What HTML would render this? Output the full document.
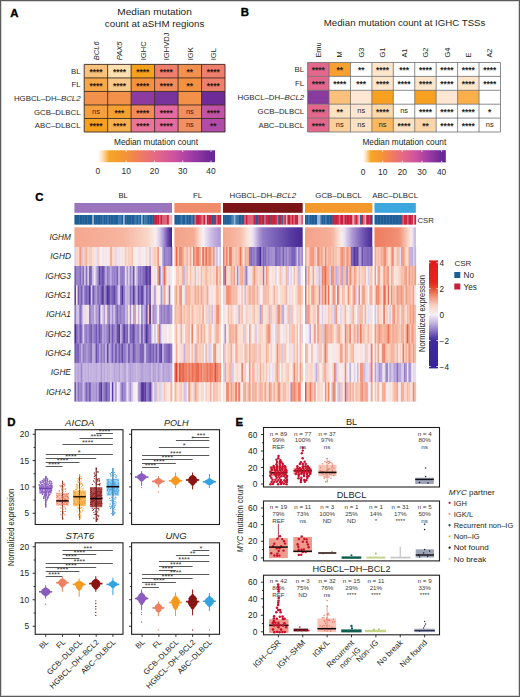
<!DOCTYPE html>
<html><head><meta charset="utf-8"><style>
html,body{margin:0;padding:0;background:#fff;}
body{width:520px;height:697px;overflow:hidden;}
svg{display:block;font-family:"Liberation Sans", sans-serif;}
</style></head><body>
<svg width="520" height="697" viewBox="0 0 520 697">
<rect x="0" y="0" width="520" height="697" fill="#ffffff"/>
<text x="10.30" y="16.50" font-size="11.4" font-weight="bold" fill="#000" stroke="#000" stroke-width="0.35">A</text>
<text x="154.60" y="15.20" font-size="9.2" text-anchor="middle" textLength="74.5" lengthAdjust="spacingAndGlyphs" fill="#231f20">Median mutation</text>
<text x="154.60" y="27.00" font-size="9.2" text-anchor="middle" textLength="99.5" lengthAdjust="spacingAndGlyphs" fill="#231f20">count at aSHM regions</text>
<text transform="translate(98.64,60.3) rotate(-90)" font-size="7.6" font-style="italic" fill="#231f20">BCL6</text>
<text transform="translate(122.11,60.3) rotate(-90)" font-size="7.6" font-style="italic" fill="#231f20">PAX5</text>
<text transform="translate(145.57,60.3) rotate(-90)" font-size="7.6" font-style="normal" fill="#231f20">IGHC</text>
<text transform="translate(169.04,60.3) rotate(-90)" font-size="7.6" font-style="normal" fill="#231f20">IGHVDJ</text>
<text transform="translate(192.51,60.3) rotate(-90)" font-size="7.6" font-style="normal" fill="#231f20">IGK</text>
<text transform="translate(215.98,60.3) rotate(-90)" font-size="7.6" font-style="normal" fill="#231f20">IGL</text>
<rect x="84.20" y="64.40" width="23.47" height="13.52" fill="#f8c27c"/>
<rect x="107.67" y="64.40" width="23.47" height="13.52" fill="#fde0b2"/>
<rect x="131.14" y="64.40" width="23.47" height="13.52" fill="#f6a21c"/>
<rect x="154.61" y="64.40" width="23.47" height="13.52" fill="#ef7e6c"/>
<rect x="178.08" y="64.40" width="23.47" height="13.52" fill="#f3904e"/>
<rect x="201.55" y="64.40" width="23.47" height="13.52" fill="#ef7f6c"/>
<rect x="84.20" y="77.92" width="23.47" height="13.52" fill="#f7a94a"/>
<rect x="107.67" y="77.92" width="23.47" height="13.52" fill="#f8c98a"/>
<rect x="131.14" y="77.92" width="23.47" height="13.52" fill="#f4913c"/>
<rect x="154.61" y="77.92" width="23.47" height="13.52" fill="#f28a5c"/>
<rect x="178.08" y="77.92" width="23.47" height="13.52" fill="#f3913e"/>
<rect x="201.55" y="77.92" width="23.47" height="13.52" fill="#ef806e"/>
<rect x="84.20" y="91.44" width="23.47" height="13.52" fill="#f3904a"/>
<rect x="107.67" y="91.44" width="23.47" height="13.52" fill="#f3904a"/>
<rect x="131.14" y="91.44" width="23.47" height="13.52" fill="#8c3ca0"/>
<rect x="154.61" y="91.44" width="23.47" height="13.52" fill="#79339c"/>
<rect x="178.08" y="91.44" width="23.47" height="13.52" fill="#f3904a"/>
<rect x="201.55" y="91.44" width="23.47" height="13.52" fill="#6c2b97"/>
<rect x="84.20" y="104.96" width="23.47" height="13.52" fill="#f5a03c"/>
<rect x="107.67" y="104.96" width="23.47" height="13.52" fill="#f6a030"/>
<rect x="131.14" y="104.96" width="23.47" height="13.52" fill="#f28a5c"/>
<rect x="154.61" y="104.96" width="23.47" height="13.52" fill="#e46aa0"/>
<rect x="178.08" y="104.96" width="23.47" height="13.52" fill="#f28f5e"/>
<rect x="201.55" y="104.96" width="23.47" height="13.52" fill="#c254a8"/>
<rect x="84.20" y="118.48" width="23.47" height="13.52" fill="#f6a020"/>
<rect x="107.67" y="118.48" width="23.47" height="13.52" fill="#f7b050"/>
<rect x="131.14" y="118.48" width="23.47" height="13.52" fill="#e9769a"/>
<rect x="154.61" y="118.48" width="23.47" height="13.52" fill="#e46aa0"/>
<rect x="178.08" y="118.48" width="23.47" height="13.52" fill="#f19062"/>
<rect x="201.55" y="118.48" width="23.47" height="13.52" fill="#b04ba8"/>
<text x="80.6" y="73.96" font-size="7.85" text-anchor="end" fill="#2b2b2b">BL</text>
<text x="95.94" y="75.16" font-size="8.4" text-anchor="middle" font-weight="bold" fill="#2a1810">****</text>
<text x="119.41" y="75.16" font-size="8.4" text-anchor="middle" font-weight="bold" fill="#2a1810">****</text>
<text x="142.88" y="75.16" font-size="8.4" text-anchor="middle" font-weight="bold" fill="#2a1810">****</text>
<text x="166.34" y="75.16" font-size="8.4" text-anchor="middle" font-weight="bold" fill="#2a1810">****</text>
<text x="189.81" y="75.16" font-size="8.4" text-anchor="middle" font-weight="bold" fill="#2a1810">**</text>
<text x="213.28" y="75.16" font-size="8.4" text-anchor="middle" font-weight="bold" fill="#2a1810">****</text>
<text x="80.6" y="87.48" font-size="7.85" text-anchor="end" fill="#2b2b2b">FL</text>
<text x="95.94" y="88.68" font-size="8.4" text-anchor="middle" font-weight="bold" fill="#2a1810">****</text>
<text x="119.41" y="88.68" font-size="8.4" text-anchor="middle" font-weight="bold" fill="#2a1810">****</text>
<text x="142.88" y="88.68" font-size="8.4" text-anchor="middle" font-weight="bold" fill="#2a1810">****</text>
<text x="166.34" y="88.68" font-size="8.4" text-anchor="middle" font-weight="bold" fill="#2a1810">****</text>
<text x="189.81" y="88.68" font-size="8.4" text-anchor="middle" font-weight="bold" fill="#2a1810">**</text>
<text x="213.28" y="88.68" font-size="8.4" text-anchor="middle" font-weight="bold" fill="#2a1810">****</text>
<text x="80.6" y="101.00" font-size="7.85" text-anchor="end" fill="#2b2b2b">HGBCL–DH–<tspan font-style="italic">BCL2</tspan></text>
<text x="80.6" y="114.52" font-size="7.85" text-anchor="end" fill="#2b2b2b">GCB–DLBCL</text>
<text x="95.94" y="113.92" font-size="7.4" text-anchor="middle" fill="#3a2418">ns</text>
<text x="119.41" y="115.72" font-size="8.4" text-anchor="middle" font-weight="bold" fill="#2a1810">***</text>
<text x="142.88" y="115.72" font-size="8.4" text-anchor="middle" font-weight="bold" fill="#2a1810">****</text>
<text x="166.34" y="115.72" font-size="8.4" text-anchor="middle" font-weight="bold" fill="#2a1810">****</text>
<text x="189.81" y="113.92" font-size="7.4" text-anchor="middle" fill="#3a2418">ns</text>
<text x="213.28" y="115.72" font-size="8.4" text-anchor="middle" font-weight="bold" fill="#2a1810">****</text>
<text x="80.6" y="128.04" font-size="7.85" text-anchor="end" fill="#2b2b2b">ABC–DLBCL</text>
<text x="95.94" y="129.24" font-size="8.4" text-anchor="middle" font-weight="bold" fill="#2a1810">****</text>
<text x="119.41" y="129.24" font-size="8.4" text-anchor="middle" font-weight="bold" fill="#2a1810">****</text>
<text x="142.88" y="129.24" font-size="8.4" text-anchor="middle" font-weight="bold" fill="#2a1810">****</text>
<text x="166.34" y="129.24" font-size="8.4" text-anchor="middle" font-weight="bold" fill="#2a1810">****</text>
<text x="189.81" y="127.44" font-size="7.4" text-anchor="middle" fill="#3a2418">ns</text>
<text x="213.28" y="129.24" font-size="8.4" text-anchor="middle" font-weight="bold" fill="#2a1810">**</text>
<line x1="84.20" y1="64.40" x2="84.20" y2="132.00" stroke="#3b2a1e" stroke-width="0.9"/>
<line x1="107.67" y1="64.40" x2="107.67" y2="132.00" stroke="#3b2a1e" stroke-width="0.9"/>
<line x1="131.14" y1="64.40" x2="131.14" y2="132.00" stroke="#3b2a1e" stroke-width="0.9"/>
<line x1="154.61" y1="64.40" x2="154.61" y2="132.00" stroke="#3b2a1e" stroke-width="0.9"/>
<line x1="178.08" y1="64.40" x2="178.08" y2="132.00" stroke="#3b2a1e" stroke-width="0.9"/>
<line x1="201.55" y1="64.40" x2="201.55" y2="132.00" stroke="#3b2a1e" stroke-width="0.9"/>
<line x1="225.02" y1="64.40" x2="225.02" y2="132.00" stroke="#3b2a1e" stroke-width="0.9"/>
<line x1="84.20" y1="64.40" x2="225.02" y2="64.40" stroke="#3b2a1e" stroke-width="0.9"/>
<line x1="84.20" y1="77.92" x2="225.02" y2="77.92" stroke="#3b2a1e" stroke-width="0.9"/>
<line x1="84.20" y1="91.44" x2="225.02" y2="91.44" stroke="#3b2a1e" stroke-width="0.9"/>
<line x1="84.20" y1="104.96" x2="225.02" y2="104.96" stroke="#3b2a1e" stroke-width="0.9"/>
<line x1="84.20" y1="118.48" x2="225.02" y2="118.48" stroke="#3b2a1e" stroke-width="0.9"/>
<line x1="84.20" y1="132.00" x2="225.02" y2="132.00" stroke="#3b2a1e" stroke-width="0.9"/>
<text x="156.00" y="145.00" font-size="8.2" text-anchor="middle" textLength="84" lengthAdjust="spacingAndGlyphs" fill="#231f20">Median mutation count</text>
<defs><linearGradient id="gA" x1="0" x2="1" y1="0" y2="0"><stop offset="0.0000" stop-color="#ffffff"/><stop offset="0.0362" stop-color="#fde4be"/><stop offset="0.0966" stop-color="#f6a628"/><stop offset="0.2173" stop-color="#f59632"/><stop offset="0.3622" stop-color="#f07a60"/><stop offset="0.4829" stop-color="#e66a82"/><stop offset="0.6519" stop-color="#ce52a0"/><stop offset="0.7968" stop-color="#a03ca5"/><stop offset="0.9658" stop-color="#6c2896"/></linearGradient></defs>
<rect x="97.90" y="150.30" width="117.10" height="11.90" fill="url(#gA)"/>
<line x1="126.18" y1="150.30" x2="126.18" y2="151.90" stroke="#ffffff" stroke-width="0.8"/>
<line x1="126.18" y1="160.60" x2="126.18" y2="162.20" stroke="#ffffff" stroke-width="0.8"/>
<line x1="154.45" y1="150.30" x2="154.45" y2="151.90" stroke="#ffffff" stroke-width="0.8"/>
<line x1="154.45" y1="160.60" x2="154.45" y2="162.20" stroke="#ffffff" stroke-width="0.8"/>
<line x1="182.73" y1="150.30" x2="182.73" y2="151.90" stroke="#ffffff" stroke-width="0.8"/>
<line x1="182.73" y1="160.60" x2="182.73" y2="162.20" stroke="#ffffff" stroke-width="0.8"/>
<line x1="211.00" y1="150.30" x2="211.00" y2="151.90" stroke="#ffffff" stroke-width="0.8"/>
<line x1="211.00" y1="160.60" x2="211.00" y2="162.20" stroke="#ffffff" stroke-width="0.8"/>
<text x="97.90" y="174.30" font-size="8.4" text-anchor="middle" fill="#2b2b2b">0</text>
<text x="126.18" y="174.30" font-size="8.4" text-anchor="middle" fill="#2b2b2b">10</text>
<text x="154.45" y="174.30" font-size="8.4" text-anchor="middle" fill="#2b2b2b">20</text>
<text x="182.73" y="174.30" font-size="8.4" text-anchor="middle" fill="#2b2b2b">30</text>
<text x="211.00" y="174.30" font-size="8.4" text-anchor="middle" fill="#2b2b2b">40</text>
<text x="240.70" y="16.20" font-size="11.4" font-weight="bold" fill="#000" stroke="#000" stroke-width="0.35">B</text>
<text x="404.60" y="26.20" font-size="9.2" text-anchor="middle" textLength="161.6" lengthAdjust="spacingAndGlyphs" fill="#231f20">Median mutation count at IGHC TSSs</text>
<text transform="translate(320.92,57.6) rotate(-90)" font-size="7.4" fill="#231f20">Emu</text>
<text transform="translate(342.35,57.6) rotate(-90)" font-size="7.4" fill="#231f20">M</text>
<text transform="translate(363.78,57.6) rotate(-90)" font-size="7.4" fill="#231f20">G3</text>
<text transform="translate(385.21,57.6) rotate(-90)" font-size="7.4" fill="#231f20">G1</text>
<text transform="translate(406.64,57.6) rotate(-90)" font-size="7.4" fill="#231f20">A1</text>
<text transform="translate(428.07,57.6) rotate(-90)" font-size="7.4" fill="#231f20">G2</text>
<text transform="translate(449.50,57.6) rotate(-90)" font-size="7.4" fill="#231f20">G4</text>
<text transform="translate(470.93,57.6) rotate(-90)" font-size="7.4" fill="#231f20">E</text>
<text transform="translate(492.36,57.6) rotate(-90)" font-size="7.4" fill="#231f20">A2</text>
<rect x="307.60" y="62.50" width="21.43" height="13.90" fill="#e2678a"/>
<rect x="329.03" y="62.50" width="21.43" height="13.90" fill="#f7a030"/>
<rect x="350.46" y="62.50" width="21.43" height="13.90" fill="#ffffff"/>
<rect x="371.89" y="62.50" width="21.43" height="13.90" fill="#fde6cc"/>
<rect x="393.32" y="62.50" width="21.43" height="13.90" fill="#ffffff"/>
<rect x="414.75" y="62.50" width="21.43" height="13.90" fill="#ffffff"/>
<rect x="436.18" y="62.50" width="21.43" height="13.90" fill="#ffffff"/>
<rect x="457.61" y="62.50" width="21.43" height="13.90" fill="#ffffff"/>
<rect x="479.04" y="62.50" width="21.43" height="13.90" fill="#ffffff"/>
<rect x="307.60" y="76.40" width="21.43" height="13.90" fill="#e2678a"/>
<rect x="329.03" y="76.40" width="21.43" height="13.90" fill="#ffffff"/>
<rect x="350.46" y="76.40" width="21.43" height="13.90" fill="#ffffff"/>
<rect x="371.89" y="76.40" width="21.43" height="13.90" fill="#fde6cc"/>
<rect x="393.32" y="76.40" width="21.43" height="13.90" fill="#ffffff"/>
<rect x="414.75" y="76.40" width="21.43" height="13.90" fill="#fde6cc"/>
<rect x="436.18" y="76.40" width="21.43" height="13.90" fill="#ffffff"/>
<rect x="457.61" y="76.40" width="21.43" height="13.90" fill="#fde6cc"/>
<rect x="479.04" y="76.40" width="21.43" height="13.90" fill="#ffffff"/>
<rect x="307.60" y="90.30" width="21.43" height="13.90" fill="#8a3b9e"/>
<rect x="329.03" y="90.30" width="21.43" height="13.90" fill="#fbc07a"/>
<rect x="350.46" y="90.30" width="21.43" height="13.90" fill="#fde7d2"/>
<rect x="371.89" y="90.30" width="21.43" height="13.90" fill="#f8a020"/>
<rect x="393.32" y="90.30" width="21.43" height="13.90" fill="#ffffff"/>
<rect x="414.75" y="90.30" width="21.43" height="13.90" fill="#f8a020"/>
<rect x="436.18" y="90.30" width="21.43" height="13.90" fill="#fde7d2"/>
<rect x="457.61" y="90.30" width="21.43" height="13.90" fill="#f9b04a"/>
<rect x="479.04" y="90.30" width="21.43" height="13.90" fill="#ffffff"/>
<rect x="307.60" y="104.20" width="21.43" height="13.90" fill="#e2678a"/>
<rect x="329.03" y="104.20" width="21.43" height="13.90" fill="#fde2c2"/>
<rect x="350.46" y="104.20" width="21.43" height="13.90" fill="#fde7d2"/>
<rect x="371.89" y="104.20" width="21.43" height="13.90" fill="#fdd8a8"/>
<rect x="393.32" y="104.20" width="21.43" height="13.90" fill="#ffffff"/>
<rect x="414.75" y="104.20" width="21.43" height="13.90" fill="#ffffff"/>
<rect x="436.18" y="104.20" width="21.43" height="13.90" fill="#ffffff"/>
<rect x="457.61" y="104.20" width="21.43" height="13.90" fill="#ffffff"/>
<rect x="479.04" y="104.20" width="21.43" height="13.90" fill="#ffffff"/>
<rect x="307.60" y="118.10" width="21.43" height="13.90" fill="#e2678a"/>
<rect x="329.03" y="118.10" width="21.43" height="13.90" fill="#fcd09a"/>
<rect x="350.46" y="118.10" width="21.43" height="13.90" fill="#fde2c2"/>
<rect x="371.89" y="118.10" width="21.43" height="13.90" fill="#fbb860"/>
<rect x="393.32" y="118.10" width="21.43" height="13.90" fill="#fde2c2"/>
<rect x="414.75" y="118.10" width="21.43" height="13.90" fill="#fcd6a8"/>
<rect x="436.18" y="118.10" width="21.43" height="13.90" fill="#ffffff"/>
<rect x="457.61" y="118.10" width="21.43" height="13.90" fill="#ffffff"/>
<rect x="479.04" y="118.10" width="21.43" height="13.90" fill="#ffffff"/>
<text x="304.2" y="72.25" font-size="7.85" text-anchor="end" fill="#2b2b2b">BL</text>
<text x="318.31" y="73.45" font-size="8.4" text-anchor="middle" font-weight="bold" fill="#231f20">****</text>
<text x="339.75" y="73.45" font-size="8.4" text-anchor="middle" font-weight="bold" fill="#231f20">**</text>
<text x="361.18" y="73.45" font-size="8.4" text-anchor="middle" font-weight="bold" fill="#231f20">**</text>
<text x="382.61" y="73.45" font-size="8.4" text-anchor="middle" font-weight="bold" fill="#231f20">****</text>
<text x="404.04" y="73.45" font-size="8.4" text-anchor="middle" font-weight="bold" fill="#231f20">***</text>
<text x="425.47" y="73.45" font-size="8.4" text-anchor="middle" font-weight="bold" fill="#231f20">****</text>
<text x="446.89" y="73.45" font-size="8.4" text-anchor="middle" font-weight="bold" fill="#231f20">****</text>
<text x="468.33" y="73.45" font-size="8.4" text-anchor="middle" font-weight="bold" fill="#231f20">****</text>
<text x="489.75" y="73.45" font-size="8.4" text-anchor="middle" font-weight="bold" fill="#231f20">****</text>
<text x="304.2" y="86.15" font-size="7.85" text-anchor="end" fill="#2b2b2b">FL</text>
<text x="318.31" y="87.35" font-size="8.4" text-anchor="middle" font-weight="bold" fill="#231f20">****</text>
<text x="339.75" y="87.35" font-size="8.4" text-anchor="middle" font-weight="bold" fill="#231f20">****</text>
<text x="361.18" y="87.35" font-size="8.4" text-anchor="middle" font-weight="bold" fill="#231f20">***</text>
<text x="382.61" y="87.35" font-size="8.4" text-anchor="middle" font-weight="bold" fill="#231f20">****</text>
<text x="404.04" y="87.35" font-size="8.4" text-anchor="middle" font-weight="bold" fill="#231f20">****</text>
<text x="425.47" y="87.35" font-size="8.4" text-anchor="middle" font-weight="bold" fill="#231f20">****</text>
<text x="446.89" y="87.35" font-size="8.4" text-anchor="middle" font-weight="bold" fill="#231f20">****</text>
<text x="468.33" y="87.35" font-size="8.4" text-anchor="middle" font-weight="bold" fill="#231f20">****</text>
<text x="489.75" y="87.35" font-size="8.4" text-anchor="middle" font-weight="bold" fill="#231f20">****</text>
<text x="304.2" y="100.05" font-size="7.85" text-anchor="end" fill="#2b2b2b">HGBCL–DH–<tspan font-style="italic">BCL2</tspan></text>
<text x="304.2" y="113.95" font-size="7.85" text-anchor="end" fill="#2b2b2b">GCB–DLBCL</text>
<text x="318.31" y="115.15" font-size="8.4" text-anchor="middle" font-weight="bold" fill="#231f20">****</text>
<text x="339.75" y="115.15" font-size="8.4" text-anchor="middle" font-weight="bold" fill="#231f20">**</text>
<text x="361.18" y="113.35" font-size="7.4" text-anchor="middle" fill="#231f20">ns</text>
<text x="382.61" y="115.15" font-size="8.4" text-anchor="middle" font-weight="bold" fill="#231f20">****</text>
<text x="404.04" y="113.35" font-size="7.4" text-anchor="middle" fill="#231f20">ns</text>
<text x="425.47" y="115.15" font-size="8.4" text-anchor="middle" font-weight="bold" fill="#231f20">****</text>
<text x="446.89" y="115.15" font-size="8.4" text-anchor="middle" font-weight="bold" fill="#231f20">****</text>
<text x="468.33" y="115.15" font-size="8.4" text-anchor="middle" font-weight="bold" fill="#231f20">****</text>
<text x="489.75" y="115.15" font-size="8.4" text-anchor="middle" font-weight="bold" fill="#231f20">*</text>
<text x="304.2" y="127.85" font-size="7.85" text-anchor="end" fill="#2b2b2b">ABC–DLBCL</text>
<text x="318.31" y="129.05" font-size="8.4" text-anchor="middle" font-weight="bold" fill="#231f20">****</text>
<text x="339.75" y="127.25" font-size="7.4" text-anchor="middle" fill="#231f20">ns</text>
<text x="361.18" y="127.25" font-size="7.4" text-anchor="middle" fill="#231f20">ns</text>
<text x="382.61" y="127.25" font-size="7.4" text-anchor="middle" fill="#231f20">ns</text>
<text x="404.04" y="129.05" font-size="8.4" text-anchor="middle" font-weight="bold" fill="#231f20">****</text>
<text x="425.47" y="129.05" font-size="8.4" text-anchor="middle" font-weight="bold" fill="#231f20">**</text>
<text x="446.89" y="129.05" font-size="8.4" text-anchor="middle" font-weight="bold" fill="#231f20">****</text>
<text x="468.33" y="129.05" font-size="8.4" text-anchor="middle" font-weight="bold" fill="#231f20">****</text>
<text x="489.75" y="127.25" font-size="7.4" text-anchor="middle" fill="#231f20">ns</text>
<line x1="307.60" y1="62.50" x2="307.60" y2="132.00" stroke="#6d6e70" stroke-width="0.8"/>
<line x1="329.03" y1="62.50" x2="329.03" y2="132.00" stroke="#6d6e70" stroke-width="0.8"/>
<line x1="350.46" y1="62.50" x2="350.46" y2="132.00" stroke="#6d6e70" stroke-width="0.8"/>
<line x1="371.89" y1="62.50" x2="371.89" y2="132.00" stroke="#6d6e70" stroke-width="0.8"/>
<line x1="393.32" y1="62.50" x2="393.32" y2="132.00" stroke="#6d6e70" stroke-width="0.8"/>
<line x1="414.75" y1="62.50" x2="414.75" y2="132.00" stroke="#6d6e70" stroke-width="0.8"/>
<line x1="436.18" y1="62.50" x2="436.18" y2="132.00" stroke="#6d6e70" stroke-width="0.8"/>
<line x1="457.61" y1="62.50" x2="457.61" y2="132.00" stroke="#6d6e70" stroke-width="0.8"/>
<line x1="479.04" y1="62.50" x2="479.04" y2="132.00" stroke="#6d6e70" stroke-width="0.8"/>
<line x1="500.47" y1="62.50" x2="500.47" y2="132.00" stroke="#6d6e70" stroke-width="0.8"/>
<line x1="307.60" y1="62.50" x2="500.47" y2="62.50" stroke="#6d6e70" stroke-width="0.8"/>
<line x1="307.60" y1="76.40" x2="500.47" y2="76.40" stroke="#6d6e70" stroke-width="0.8"/>
<line x1="307.60" y1="90.30" x2="500.47" y2="90.30" stroke="#6d6e70" stroke-width="0.8"/>
<line x1="307.60" y1="104.20" x2="500.47" y2="104.20" stroke="#6d6e70" stroke-width="0.8"/>
<line x1="307.60" y1="118.10" x2="500.47" y2="118.10" stroke="#6d6e70" stroke-width="0.8"/>
<line x1="307.60" y1="132.00" x2="500.47" y2="132.00" stroke="#6d6e70" stroke-width="0.8"/>
<text x="404.30" y="145.00" font-size="8.2" text-anchor="middle" textLength="83.8" lengthAdjust="spacingAndGlyphs" fill="#231f20">Median mutation count</text>
<defs><linearGradient id="gB" x1="0" x2="1" y1="0" y2="0"><stop offset="0.0000" stop-color="#ffffff"/><stop offset="0.0356" stop-color="#fde4be"/><stop offset="0.0949" stop-color="#f6a628"/><stop offset="0.2136" stop-color="#f59632"/><stop offset="0.3560" stop-color="#f07a60"/><stop offset="0.4746" stop-color="#e66a82"/><stop offset="0.6408" stop-color="#ce52a0"/><stop offset="0.7832" stop-color="#a03ca5"/><stop offset="0.9493" stop-color="#6c2896"/><stop offset="0.9967" stop-color="#642494"/></linearGradient></defs>
<rect x="363.00" y="150.20" width="82.80" height="12.20" fill="url(#gB)"/>
<line x1="382.65" y1="150.20" x2="382.65" y2="151.80" stroke="#ffffff" stroke-width="0.8"/>
<line x1="382.65" y1="160.80" x2="382.65" y2="162.40" stroke="#ffffff" stroke-width="0.8"/>
<line x1="402.30" y1="150.20" x2="402.30" y2="151.80" stroke="#ffffff" stroke-width="0.8"/>
<line x1="402.30" y1="160.80" x2="402.30" y2="162.40" stroke="#ffffff" stroke-width="0.8"/>
<line x1="421.95" y1="150.20" x2="421.95" y2="151.80" stroke="#ffffff" stroke-width="0.8"/>
<line x1="421.95" y1="160.80" x2="421.95" y2="162.40" stroke="#ffffff" stroke-width="0.8"/>
<line x1="441.60" y1="150.20" x2="441.60" y2="151.80" stroke="#ffffff" stroke-width="0.8"/>
<line x1="441.60" y1="160.80" x2="441.60" y2="162.40" stroke="#ffffff" stroke-width="0.8"/>
<text x="363.00" y="174.50" font-size="8.4" text-anchor="middle" fill="#2b2b2b">0</text>
<text x="382.65" y="174.50" font-size="8.4" text-anchor="middle" fill="#2b2b2b">10</text>
<text x="402.30" y="174.50" font-size="8.4" text-anchor="middle" fill="#2b2b2b">20</text>
<text x="421.95" y="174.50" font-size="8.4" text-anchor="middle" fill="#2b2b2b">30</text>
<text x="441.60" y="174.50" font-size="8.4" text-anchor="middle" fill="#2b2b2b">40</text>
<text x="35.20" y="200.80" font-size="11.4" font-weight="bold" fill="#000" stroke="#000" stroke-width="0.35">C</text>
<rect x="74.40" y="203.00" width="97.60" height="9.80" fill="#9b74be"/>
<text x="123.20" y="197.7" font-size="7.85" text-anchor="middle" fill="#2b2b2b">BL</text>
<rect x="74.40" y="215.00" width="1.98" height="9.60" fill="#1e5d96"/>
<rect x="74.40" y="246.67" width="1.98" height="19.67" fill="#dbceeb"/>
<rect x="74.40" y="266.03" width="1.98" height="19.67" fill="#765db6"/>
<rect x="74.40" y="285.40" width="1.98" height="19.67" fill="#5e41a4"/>
<rect x="74.40" y="304.77" width="1.98" height="19.67" fill="#8f78c4"/>
<rect x="74.40" y="324.13" width="1.98" height="19.67" fill="#4c2d97"/>
<rect x="74.40" y="343.50" width="1.98" height="19.67" fill="#7259b3"/>
<rect x="74.40" y="362.87" width="1.98" height="19.67" fill="#b5a2d8"/>
<rect x="74.40" y="382.23" width="1.98" height="19.37" fill="#7056b1"/>
<rect x="76.03" y="215.00" width="1.98" height="9.60" fill="#1e5d96"/>
<rect x="76.03" y="246.67" width="1.98" height="19.67" fill="#f9d2c4"/>
<rect x="76.03" y="266.03" width="1.98" height="19.67" fill="#9982c9"/>
<rect x="76.03" y="285.40" width="1.98" height="19.67" fill="#f9e7e3"/>
<rect x="76.03" y="304.77" width="1.98" height="19.67" fill="#ccbde4"/>
<rect x="76.03" y="324.13" width="1.98" height="19.67" fill="#846cbe"/>
<rect x="76.03" y="343.50" width="1.98" height="19.67" fill="#8169bd"/>
<rect x="76.03" y="362.87" width="1.98" height="19.67" fill="#c4b2df"/>
<rect x="76.03" y="382.23" width="1.98" height="19.37" fill="#c1afde"/>
<rect x="77.65" y="215.00" width="1.98" height="9.60" fill="#1e5d96"/>
<rect x="77.65" y="246.67" width="1.98" height="19.67" fill="#fadacd"/>
<rect x="77.65" y="266.03" width="1.98" height="19.67" fill="#9d86cb"/>
<rect x="77.65" y="285.40" width="1.98" height="19.67" fill="#7056b2"/>
<rect x="77.65" y="304.77" width="1.98" height="19.67" fill="#d1c3e7"/>
<rect x="77.65" y="324.13" width="1.98" height="19.67" fill="#a791d0"/>
<rect x="77.65" y="343.50" width="1.98" height="19.67" fill="#7961b8"/>
<rect x="77.65" y="362.87" width="1.98" height="19.67" fill="#b8a5da"/>
<rect x="77.65" y="382.23" width="1.98" height="19.37" fill="#876fc0"/>
<rect x="79.28" y="215.00" width="1.98" height="9.60" fill="#1e5d96"/>
<rect x="79.28" y="246.67" width="1.98" height="19.67" fill="#f2977d"/>
<rect x="79.28" y="266.03" width="1.98" height="19.67" fill="#7e66bb"/>
<rect x="79.28" y="285.40" width="1.98" height="19.67" fill="#9882c9"/>
<rect x="79.28" y="304.77" width="1.98" height="19.67" fill="#8169bd"/>
<rect x="79.28" y="324.13" width="1.98" height="19.67" fill="#745bb5"/>
<rect x="79.28" y="343.50" width="1.98" height="19.67" fill="#9982c9"/>
<rect x="79.28" y="362.87" width="1.98" height="19.67" fill="#b9a6da"/>
<rect x="79.28" y="382.23" width="1.98" height="19.37" fill="#a089cd"/>
<rect x="80.91" y="215.00" width="1.98" height="9.60" fill="#1e5d96"/>
<rect x="80.91" y="246.67" width="1.98" height="19.67" fill="#cdbee4"/>
<rect x="80.91" y="266.03" width="1.98" height="19.67" fill="#ac97d3"/>
<rect x="80.91" y="285.40" width="1.98" height="19.67" fill="#735ab4"/>
<rect x="80.91" y="304.77" width="1.98" height="19.67" fill="#a18bcd"/>
<rect x="80.91" y="324.13" width="1.98" height="19.67" fill="#836bbe"/>
<rect x="80.91" y="343.50" width="1.98" height="19.67" fill="#bfaddd"/>
<rect x="80.91" y="362.87" width="1.98" height="19.67" fill="#a08acd"/>
<rect x="80.91" y="382.23" width="1.98" height="19.37" fill="#9982c9"/>
<rect x="82.53" y="215.00" width="1.98" height="9.60" fill="#1e5d96"/>
<rect x="82.53" y="246.67" width="1.98" height="19.67" fill="#f9cfc0"/>
<rect x="82.53" y="266.03" width="1.98" height="19.67" fill="#846cbe"/>
<rect x="82.53" y="285.40" width="1.98" height="19.67" fill="#b6a3d8"/>
<rect x="82.53" y="304.77" width="1.98" height="19.67" fill="#e8dff0"/>
<rect x="82.53" y="324.13" width="1.98" height="19.67" fill="#dbceeb"/>
<rect x="82.53" y="343.50" width="1.98" height="19.67" fill="#957ec7"/>
<rect x="82.53" y="362.87" width="1.98" height="19.67" fill="#c7b6e1"/>
<rect x="82.53" y="382.23" width="1.98" height="19.37" fill="#ccbce4"/>
<rect x="84.16" y="215.00" width="1.98" height="9.60" fill="#1e5d96"/>
<rect x="84.16" y="246.67" width="1.98" height="19.67" fill="#f7c0ad"/>
<rect x="84.16" y="266.03" width="1.98" height="19.67" fill="#d2c3e7"/>
<rect x="84.16" y="285.40" width="1.98" height="19.67" fill="#8b74c2"/>
<rect x="84.16" y="304.77" width="1.98" height="19.67" fill="#e5daef"/>
<rect x="84.16" y="324.13" width="1.98" height="19.67" fill="#9e87cc"/>
<rect x="84.16" y="343.50" width="1.98" height="19.67" fill="#957ec7"/>
<rect x="84.16" y="362.87" width="1.98" height="19.67" fill="#c0afde"/>
<rect x="84.16" y="382.23" width="1.98" height="19.37" fill="#ab95d3"/>
<rect x="85.79" y="215.00" width="1.98" height="9.60" fill="#1e5d96"/>
<rect x="85.79" y="246.67" width="1.98" height="19.67" fill="#f6b29c"/>
<rect x="85.79" y="266.03" width="1.98" height="19.67" fill="#836bbe"/>
<rect x="85.79" y="285.40" width="1.98" height="19.67" fill="#755cb5"/>
<rect x="85.79" y="304.77" width="1.98" height="19.67" fill="#fadfd6"/>
<rect x="85.79" y="324.13" width="1.98" height="19.67" fill="#927bc6"/>
<rect x="85.79" y="343.50" width="1.98" height="19.67" fill="#b19cd5"/>
<rect x="85.79" y="362.87" width="1.98" height="19.67" fill="#c5b4e0"/>
<rect x="85.79" y="382.23" width="1.98" height="19.37" fill="#7960b8"/>
<rect x="87.41" y="215.00" width="1.98" height="9.60" fill="#1e5d96"/>
<rect x="87.41" y="246.67" width="1.98" height="19.67" fill="#fadbcf"/>
<rect x="87.41" y="266.03" width="1.98" height="19.67" fill="#d8cbea"/>
<rect x="87.41" y="285.40" width="1.98" height="19.67" fill="#846dbe"/>
<rect x="87.41" y="304.77" width="1.98" height="19.67" fill="#e9e0f0"/>
<rect x="87.41" y="324.13" width="1.98" height="19.67" fill="#9f88cc"/>
<rect x="87.41" y="343.50" width="1.98" height="19.67" fill="#9e88cc"/>
<rect x="87.41" y="362.87" width="1.98" height="19.67" fill="#baa7da"/>
<rect x="87.41" y="382.23" width="1.98" height="19.37" fill="#9c85cb"/>
<rect x="89.04" y="215.00" width="1.98" height="9.60" fill="#1e5d96"/>
<rect x="89.04" y="246.67" width="1.98" height="19.67" fill="#f9cdbd"/>
<rect x="89.04" y="266.03" width="1.98" height="19.67" fill="#785fb7"/>
<rect x="89.04" y="285.40" width="1.98" height="19.67" fill="#50319a"/>
<rect x="89.04" y="304.77" width="1.98" height="19.67" fill="#9078c4"/>
<rect x="89.04" y="324.13" width="1.98" height="19.67" fill="#846dbe"/>
<rect x="89.04" y="343.50" width="1.98" height="19.67" fill="#957ec7"/>
<rect x="89.04" y="362.87" width="1.98" height="19.67" fill="#c8b7e1"/>
<rect x="89.04" y="382.23" width="1.98" height="19.37" fill="#7057b2"/>
<rect x="90.67" y="215.00" width="1.98" height="9.60" fill="#1e5d96"/>
<rect x="90.67" y="246.67" width="1.98" height="19.67" fill="#f8cbba"/>
<rect x="90.67" y="266.03" width="1.98" height="19.67" fill="#8c75c2"/>
<rect x="90.67" y="285.40" width="1.98" height="19.67" fill="#dcd0eb"/>
<rect x="90.67" y="304.77" width="1.98" height="19.67" fill="#ad98d4"/>
<rect x="90.67" y="324.13" width="1.98" height="19.67" fill="#765db6"/>
<rect x="90.67" y="343.50" width="1.98" height="19.67" fill="#846cbe"/>
<rect x="90.67" y="362.87" width="1.98" height="19.67" fill="#c1afde"/>
<rect x="90.67" y="382.23" width="1.98" height="19.37" fill="#b09bd5"/>
<rect x="92.29" y="215.00" width="1.98" height="9.60" fill="#9ab8d6"/>
<rect x="92.29" y="246.67" width="1.98" height="19.67" fill="#fae0d6"/>
<rect x="92.29" y="266.03" width="1.98" height="19.67" fill="#d3c5e8"/>
<rect x="92.29" y="285.40" width="1.98" height="19.67" fill="#745bb4"/>
<rect x="92.29" y="304.77" width="1.98" height="19.67" fill="#ab95d3"/>
<rect x="92.29" y="324.13" width="1.98" height="19.67" fill="#a18bce"/>
<rect x="92.29" y="343.50" width="1.98" height="19.67" fill="#c0afde"/>
<rect x="92.29" y="362.87" width="1.98" height="19.67" fill="#c3b2df"/>
<rect x="92.29" y="382.23" width="1.98" height="19.37" fill="#ac96d3"/>
<rect x="93.92" y="215.00" width="1.98" height="9.60" fill="#1e5d96"/>
<rect x="93.92" y="246.67" width="1.98" height="19.67" fill="#fae0d7"/>
<rect x="93.92" y="266.03" width="1.98" height="19.67" fill="#f0e8f3"/>
<rect x="93.92" y="285.40" width="1.98" height="19.67" fill="#957fc7"/>
<rect x="93.92" y="304.77" width="1.98" height="19.67" fill="#d3c5e7"/>
<rect x="93.92" y="324.13" width="1.98" height="19.67" fill="#8f78c4"/>
<rect x="93.92" y="343.50" width="1.98" height="19.67" fill="#bfaddd"/>
<rect x="93.92" y="362.87" width="1.98" height="19.67" fill="#c5b4e0"/>
<rect x="93.92" y="382.23" width="1.98" height="19.37" fill="#b7a3d9"/>
<rect x="95.55" y="215.00" width="1.98" height="9.60" fill="#1e5d96"/>
<rect x="95.55" y="246.67" width="1.98" height="19.67" fill="#eae0f0"/>
<rect x="95.55" y="266.03" width="1.98" height="19.67" fill="#beacdc"/>
<rect x="95.55" y="285.40" width="1.98" height="19.67" fill="#b39fd7"/>
<rect x="95.55" y="304.77" width="1.98" height="19.67" fill="#ad97d3"/>
<rect x="95.55" y="324.13" width="1.98" height="19.67" fill="#7359b3"/>
<rect x="95.55" y="343.50" width="1.98" height="19.67" fill="#684dac"/>
<rect x="95.55" y="362.87" width="1.98" height="19.67" fill="#bcaadc"/>
<rect x="95.55" y="382.23" width="1.98" height="19.37" fill="#9e88cc"/>
<rect x="97.17" y="215.00" width="1.98" height="9.60" fill="#1e5d96"/>
<rect x="97.17" y="246.67" width="1.98" height="19.67" fill="#f9cdbd"/>
<rect x="97.17" y="266.03" width="1.98" height="19.67" fill="#9d87cb"/>
<rect x="97.17" y="285.40" width="1.98" height="19.67" fill="#816abd"/>
<rect x="97.17" y="304.77" width="1.98" height="19.67" fill="#b19cd6"/>
<rect x="97.17" y="324.13" width="1.98" height="19.67" fill="#9780c8"/>
<rect x="97.17" y="343.50" width="1.98" height="19.67" fill="#866fbf"/>
<rect x="97.17" y="362.87" width="1.98" height="19.67" fill="#c5b5e0"/>
<rect x="97.17" y="382.23" width="1.98" height="19.37" fill="#b6a2d8"/>
<rect x="98.80" y="215.00" width="1.98" height="9.60" fill="#1e5d96"/>
<rect x="98.80" y="246.67" width="1.98" height="19.67" fill="#f9e3dc"/>
<rect x="98.80" y="266.03" width="1.98" height="19.67" fill="#5d40a4"/>
<rect x="98.80" y="285.40" width="1.98" height="19.67" fill="#9982c9"/>
<rect x="98.80" y="304.77" width="1.98" height="19.67" fill="#7258b2"/>
<rect x="98.80" y="324.13" width="1.98" height="19.67" fill="#6b50ae"/>
<rect x="98.80" y="343.50" width="1.98" height="19.67" fill="#b4a0d7"/>
<rect x="98.80" y="362.87" width="1.98" height="19.67" fill="#cbbbe3"/>
<rect x="98.80" y="382.23" width="1.98" height="19.37" fill="#7359b3"/>
<rect x="100.43" y="215.00" width="1.98" height="9.60" fill="#1e5d96"/>
<rect x="100.43" y="246.67" width="1.98" height="19.67" fill="#f8f1f5"/>
<rect x="100.43" y="266.03" width="1.98" height="19.67" fill="#7e66bb"/>
<rect x="100.43" y="285.40" width="1.98" height="19.67" fill="#7157b2"/>
<rect x="100.43" y="304.77" width="1.98" height="19.67" fill="#ede4f2"/>
<rect x="100.43" y="324.13" width="1.98" height="19.67" fill="#846dbe"/>
<rect x="100.43" y="343.50" width="1.98" height="19.67" fill="#8e77c3"/>
<rect x="100.43" y="362.87" width="1.98" height="19.67" fill="#ac97d3"/>
<rect x="100.43" y="382.23" width="1.98" height="19.37" fill="#5839a0"/>
<rect x="102.05" y="215.00" width="1.98" height="9.60" fill="#3d78ad"/>
<rect x="102.05" y="246.67" width="1.98" height="19.67" fill="#f9e2db"/>
<rect x="102.05" y="266.03" width="1.98" height="19.67" fill="#6448a9"/>
<rect x="102.05" y="285.40" width="1.98" height="19.67" fill="#55379e"/>
<rect x="102.05" y="304.77" width="1.98" height="19.67" fill="#d7cae9"/>
<rect x="102.05" y="324.13" width="1.98" height="19.67" fill="#b9a6da"/>
<rect x="102.05" y="343.50" width="1.98" height="19.67" fill="#a791d0"/>
<rect x="102.05" y="362.87" width="1.98" height="19.67" fill="#c8b8e2"/>
<rect x="102.05" y="382.23" width="1.98" height="19.37" fill="#a68fd0"/>
<rect x="103.68" y="215.00" width="1.98" height="9.60" fill="#1e5d96"/>
<rect x="103.68" y="246.67" width="1.98" height="19.67" fill="#f2eaf3"/>
<rect x="103.68" y="266.03" width="1.98" height="19.67" fill="#8f78c4"/>
<rect x="103.68" y="285.40" width="1.98" height="19.67" fill="#a18bcd"/>
<rect x="103.68" y="304.77" width="1.98" height="19.67" fill="#b19cd6"/>
<rect x="103.68" y="324.13" width="1.98" height="19.67" fill="#a791d0"/>
<rect x="103.68" y="343.50" width="1.98" height="19.67" fill="#947dc6"/>
<rect x="103.68" y="362.87" width="1.98" height="19.67" fill="#bba8db"/>
<rect x="103.68" y="382.23" width="1.98" height="19.37" fill="#8b74c2"/>
<rect x="105.31" y="215.00" width="1.98" height="9.60" fill="#1e5d96"/>
<rect x="105.31" y="246.67" width="1.98" height="19.67" fill="#ede5f2"/>
<rect x="105.31" y="266.03" width="1.98" height="19.67" fill="#b9a6da"/>
<rect x="105.31" y="285.40" width="1.98" height="19.67" fill="#826bbd"/>
<rect x="105.31" y="304.77" width="1.98" height="19.67" fill="#f9e5df"/>
<rect x="105.31" y="324.13" width="1.98" height="19.67" fill="#a58fcf"/>
<rect x="105.31" y="343.50" width="1.98" height="19.67" fill="#c3b2df"/>
<rect x="105.31" y="362.87" width="1.98" height="19.67" fill="#c8b8e2"/>
<rect x="105.31" y="382.23" width="1.98" height="19.37" fill="#6a50ad"/>
<rect x="106.93" y="215.00" width="1.98" height="9.60" fill="#3d78ad"/>
<rect x="106.93" y="246.67" width="1.98" height="19.67" fill="#f9ebe9"/>
<rect x="106.93" y="266.03" width="1.98" height="19.67" fill="#8d76c3"/>
<rect x="106.93" y="285.40" width="1.98" height="19.67" fill="#4c2d97"/>
<rect x="106.93" y="304.77" width="1.98" height="19.67" fill="#ad97d3"/>
<rect x="106.93" y="324.13" width="1.98" height="19.67" fill="#9881c9"/>
<rect x="106.93" y="343.50" width="1.98" height="19.67" fill="#6245a7"/>
<rect x="106.93" y="362.87" width="1.98" height="19.67" fill="#c0aedd"/>
<rect x="106.93" y="382.23" width="1.98" height="19.37" fill="#856ebf"/>
<rect x="108.56" y="215.00" width="1.98" height="9.60" fill="#1e5d96"/>
<rect x="108.56" y="246.67" width="1.98" height="19.67" fill="#fae1d9"/>
<rect x="108.56" y="266.03" width="1.98" height="19.67" fill="#a28cce"/>
<rect x="108.56" y="285.40" width="1.98" height="19.67" fill="#664baa"/>
<rect x="108.56" y="304.77" width="1.98" height="19.67" fill="#927bc6"/>
<rect x="108.56" y="324.13" width="1.98" height="19.67" fill="#684dac"/>
<rect x="108.56" y="343.50" width="1.98" height="19.67" fill="#beacdd"/>
<rect x="108.56" y="362.87" width="1.98" height="19.67" fill="#c3b2df"/>
<rect x="108.56" y="382.23" width="1.98" height="19.37" fill="#8e76c3"/>
<rect x="110.19" y="215.00" width="1.98" height="9.60" fill="#1e5d96"/>
<rect x="110.19" y="246.67" width="1.98" height="19.67" fill="#f4a58d"/>
<rect x="110.19" y="266.03" width="1.98" height="19.67" fill="#b9a6da"/>
<rect x="110.19" y="285.40" width="1.98" height="19.67" fill="#8b73c2"/>
<rect x="110.19" y="304.77" width="1.98" height="19.67" fill="#d1c3e7"/>
<rect x="110.19" y="324.13" width="1.98" height="19.67" fill="#a790d0"/>
<rect x="110.19" y="343.50" width="1.98" height="19.67" fill="#a48ecf"/>
<rect x="110.19" y="362.87" width="1.98" height="19.67" fill="#cbbbe3"/>
<rect x="110.19" y="382.23" width="1.98" height="19.37" fill="#eae1f1"/>
<rect x="111.81" y="215.00" width="1.98" height="9.60" fill="#1e5d96"/>
<rect x="111.81" y="246.67" width="1.98" height="19.67" fill="#fad8cb"/>
<rect x="111.81" y="266.03" width="1.98" height="19.67" fill="#9982c9"/>
<rect x="111.81" y="285.40" width="1.98" height="19.67" fill="#755cb5"/>
<rect x="111.81" y="304.77" width="1.98" height="19.67" fill="#a48ecf"/>
<rect x="111.81" y="324.13" width="1.98" height="19.67" fill="#6f54b0"/>
<rect x="111.81" y="343.50" width="1.98" height="19.67" fill="#755cb5"/>
<rect x="111.81" y="362.87" width="1.98" height="19.67" fill="#c6b5e1"/>
<rect x="111.81" y="382.23" width="1.98" height="19.37" fill="#583aa0"/>
<rect x="113.44" y="215.00" width="1.98" height="9.60" fill="#1e5d96"/>
<rect x="113.44" y="246.67" width="1.98" height="19.67" fill="#fadbcf"/>
<rect x="113.44" y="266.03" width="1.98" height="19.67" fill="#957ec7"/>
<rect x="113.44" y="285.40" width="1.98" height="19.67" fill="#6043a6"/>
<rect x="113.44" y="304.77" width="1.98" height="19.67" fill="#cebfe5"/>
<rect x="113.44" y="324.13" width="1.98" height="19.67" fill="#9882c9"/>
<rect x="113.44" y="343.50" width="1.98" height="19.67" fill="#aa94d2"/>
<rect x="113.44" y="362.87" width="1.98" height="19.67" fill="#b6a3d8"/>
<rect x="113.44" y="382.23" width="1.98" height="19.37" fill="#ddd1eb"/>
<rect x="115.07" y="215.00" width="1.98" height="9.60" fill="#1e5d96"/>
<rect x="115.07" y="246.67" width="1.98" height="19.67" fill="#dfd3ec"/>
<rect x="115.07" y="266.03" width="1.98" height="19.67" fill="#9e87cc"/>
<rect x="115.07" y="285.40" width="1.98" height="19.67" fill="#8169bd"/>
<rect x="115.07" y="304.77" width="1.98" height="19.67" fill="#9f88cc"/>
<rect x="115.07" y="324.13" width="1.98" height="19.67" fill="#a690d0"/>
<rect x="115.07" y="343.50" width="1.98" height="19.67" fill="#6e54b0"/>
<rect x="115.07" y="362.87" width="1.98" height="19.67" fill="#beacdd"/>
<rect x="115.07" y="382.23" width="1.98" height="19.37" fill="#a892d1"/>
<rect x="116.69" y="215.00" width="1.98" height="9.60" fill="#1e5d96"/>
<rect x="116.69" y="246.67" width="1.98" height="19.67" fill="#ebe3f1"/>
<rect x="116.69" y="266.03" width="1.98" height="19.67" fill="#7b63b9"/>
<rect x="116.69" y="285.40" width="1.98" height="19.67" fill="#ab96d3"/>
<rect x="116.69" y="304.77" width="1.98" height="19.67" fill="#7960b8"/>
<rect x="116.69" y="324.13" width="1.98" height="19.67" fill="#694eac"/>
<rect x="116.69" y="343.50" width="1.98" height="19.67" fill="#a48ecf"/>
<rect x="116.69" y="362.87" width="1.98" height="19.67" fill="#c4b3e0"/>
<rect x="116.69" y="382.23" width="1.98" height="19.37" fill="#f4edf4"/>
<rect x="118.32" y="215.00" width="1.98" height="9.60" fill="#3d78ad"/>
<rect x="118.32" y="246.67" width="1.98" height="19.67" fill="#faded4"/>
<rect x="118.32" y="266.03" width="1.98" height="19.67" fill="#c8b8e2"/>
<rect x="118.32" y="285.40" width="1.98" height="19.67" fill="#dfd4ec"/>
<rect x="118.32" y="304.77" width="1.98" height="19.67" fill="#9f89cc"/>
<rect x="118.32" y="324.13" width="1.98" height="19.67" fill="#4f3199"/>
<rect x="118.32" y="343.50" width="1.98" height="19.67" fill="#775eb6"/>
<rect x="118.32" y="362.87" width="1.98" height="19.67" fill="#b09cd5"/>
<rect x="118.32" y="382.23" width="1.98" height="19.37" fill="#e3d8ee"/>
<rect x="119.95" y="215.00" width="1.98" height="9.60" fill="#3d78ad"/>
<rect x="119.95" y="246.67" width="1.98" height="19.67" fill="#f2ebf4"/>
<rect x="119.95" y="266.03" width="1.98" height="19.67" fill="#9780c8"/>
<rect x="119.95" y="285.40" width="1.98" height="19.67" fill="#8871c0"/>
<rect x="119.95" y="304.77" width="1.98" height="19.67" fill="#8f78c4"/>
<rect x="119.95" y="324.13" width="1.98" height="19.67" fill="#c5b4e0"/>
<rect x="119.95" y="343.50" width="1.98" height="19.67" fill="#967fc7"/>
<rect x="119.95" y="362.87" width="1.98" height="19.67" fill="#cbbbe3"/>
<rect x="119.95" y="382.23" width="1.98" height="19.37" fill="#b7a3d9"/>
<rect x="121.57" y="215.00" width="1.98" height="9.60" fill="#1e5d96"/>
<rect x="121.57" y="246.67" width="1.98" height="19.67" fill="#fae0d6"/>
<rect x="121.57" y="266.03" width="1.98" height="19.67" fill="#8d76c3"/>
<rect x="121.57" y="285.40" width="1.98" height="19.67" fill="#53349c"/>
<rect x="121.57" y="304.77" width="1.98" height="19.67" fill="#a690d0"/>
<rect x="121.57" y="324.13" width="1.98" height="19.67" fill="#967fc8"/>
<rect x="121.57" y="343.50" width="1.98" height="19.67" fill="#6346a8"/>
<rect x="121.57" y="362.87" width="1.98" height="19.67" fill="#c3b2df"/>
<rect x="121.57" y="382.23" width="1.98" height="19.37" fill="#826abd"/>
<rect x="123.20" y="215.00" width="1.98" height="9.60" fill="#9ab8d6"/>
<rect x="123.20" y="246.67" width="1.98" height="19.67" fill="#f9e9e6"/>
<rect x="123.20" y="266.03" width="1.98" height="19.67" fill="#9078c4"/>
<rect x="123.20" y="285.40" width="1.98" height="19.67" fill="#8a73c1"/>
<rect x="123.20" y="304.77" width="1.98" height="19.67" fill="#937cc6"/>
<rect x="123.20" y="324.13" width="1.98" height="19.67" fill="#5a3ca1"/>
<rect x="123.20" y="343.50" width="1.98" height="19.67" fill="#8f78c4"/>
<rect x="123.20" y="362.87" width="1.98" height="19.67" fill="#b8a4d9"/>
<rect x="123.20" y="382.23" width="1.98" height="19.37" fill="#9d86cb"/>
<rect x="124.83" y="215.00" width="1.98" height="9.60" fill="#1e5d96"/>
<rect x="124.83" y="246.67" width="1.98" height="19.67" fill="#f8c7b5"/>
<rect x="124.83" y="266.03" width="1.98" height="19.67" fill="#eae1f0"/>
<rect x="124.83" y="285.40" width="1.98" height="19.67" fill="#c7b6e1"/>
<rect x="124.83" y="304.77" width="1.98" height="19.67" fill="#c9b8e2"/>
<rect x="124.83" y="324.13" width="1.98" height="19.67" fill="#856dbf"/>
<rect x="124.83" y="343.50" width="1.98" height="19.67" fill="#967fc8"/>
<rect x="124.83" y="362.87" width="1.98" height="19.67" fill="#b7a4d9"/>
<rect x="124.83" y="382.23" width="1.98" height="19.37" fill="#a892d1"/>
<rect x="126.45" y="215.00" width="1.98" height="9.60" fill="#1e5d96"/>
<rect x="126.45" y="246.67" width="1.98" height="19.67" fill="#faddd1"/>
<rect x="126.45" y="266.03" width="1.98" height="19.67" fill="#af9ad5"/>
<rect x="126.45" y="285.40" width="1.98" height="19.67" fill="#bfaddd"/>
<rect x="126.45" y="304.77" width="1.98" height="19.67" fill="#b9a6da"/>
<rect x="126.45" y="324.13" width="1.98" height="19.67" fill="#7b62b9"/>
<rect x="126.45" y="343.50" width="1.98" height="19.67" fill="#b7a4d9"/>
<rect x="126.45" y="362.87" width="1.98" height="19.67" fill="#d1c3e6"/>
<rect x="126.45" y="382.23" width="1.98" height="19.37" fill="#e7ddef"/>
<rect x="128.08" y="215.00" width="1.98" height="9.60" fill="#1e5d96"/>
<rect x="128.08" y="246.67" width="1.98" height="19.67" fill="#f8ccbc"/>
<rect x="128.08" y="266.03" width="1.98" height="19.67" fill="#dbceeb"/>
<rect x="128.08" y="285.40" width="1.98" height="19.67" fill="#c6b5e1"/>
<rect x="128.08" y="304.77" width="1.98" height="19.67" fill="#f9e8e5"/>
<rect x="128.08" y="324.13" width="1.98" height="19.67" fill="#cbbbe3"/>
<rect x="128.08" y="343.50" width="1.98" height="19.67" fill="#7359b3"/>
<rect x="128.08" y="362.87" width="1.98" height="19.67" fill="#bdabdc"/>
<rect x="128.08" y="382.23" width="1.98" height="19.37" fill="#cdbde4"/>
<rect x="129.71" y="215.00" width="1.98" height="9.60" fill="#1e5d96"/>
<rect x="129.71" y="246.67" width="1.98" height="19.67" fill="#f9d5c7"/>
<rect x="129.71" y="266.03" width="1.98" height="19.67" fill="#9d87cb"/>
<rect x="129.71" y="285.40" width="1.98" height="19.67" fill="#856dbf"/>
<rect x="129.71" y="304.77" width="1.98" height="19.67" fill="#a48dcf"/>
<rect x="129.71" y="324.13" width="1.98" height="19.67" fill="#775fb7"/>
<rect x="129.71" y="343.50" width="1.98" height="19.67" fill="#a791d0"/>
<rect x="129.71" y="362.87" width="1.98" height="19.67" fill="#b29ed6"/>
<rect x="129.71" y="382.23" width="1.98" height="19.37" fill="#a28cce"/>
<rect x="131.33" y="215.00" width="1.98" height="9.60" fill="#1e5d96"/>
<rect x="131.33" y="246.67" width="1.98" height="19.67" fill="#f7bda9"/>
<rect x="131.33" y="266.03" width="1.98" height="19.67" fill="#beacdc"/>
<rect x="131.33" y="285.40" width="1.98" height="19.67" fill="#9a84ca"/>
<rect x="131.33" y="304.77" width="1.98" height="19.67" fill="#f2eaf4"/>
<rect x="131.33" y="324.13" width="1.98" height="19.67" fill="#785fb7"/>
<rect x="131.33" y="343.50" width="1.98" height="19.67" fill="#9a83ca"/>
<rect x="131.33" y="362.87" width="1.98" height="19.67" fill="#bba8db"/>
<rect x="131.33" y="382.23" width="1.98" height="19.37" fill="#d6c8e9"/>
<rect x="132.96" y="215.00" width="1.98" height="9.60" fill="#1e5d96"/>
<rect x="132.96" y="246.67" width="1.98" height="19.67" fill="#f8edee"/>
<rect x="132.96" y="266.03" width="1.98" height="19.67" fill="#7157b2"/>
<rect x="132.96" y="285.40" width="1.98" height="19.67" fill="#57399f"/>
<rect x="132.96" y="304.77" width="1.98" height="19.67" fill="#b4a0d7"/>
<rect x="132.96" y="324.13" width="1.98" height="19.67" fill="#6145a7"/>
<rect x="132.96" y="343.50" width="1.98" height="19.67" fill="#7056b2"/>
<rect x="132.96" y="362.87" width="1.98" height="19.67" fill="#c0aedd"/>
<rect x="132.96" y="382.23" width="1.98" height="19.37" fill="#efe7f2"/>
<rect x="134.59" y="215.00" width="1.98" height="9.60" fill="#3d78ad"/>
<rect x="134.59" y="246.67" width="1.98" height="19.67" fill="#f9e9e7"/>
<rect x="134.59" y="266.03" width="1.98" height="19.67" fill="#e9dff0"/>
<rect x="134.59" y="285.40" width="1.98" height="19.67" fill="#aa94d2"/>
<rect x="134.59" y="304.77" width="1.98" height="19.67" fill="#f39b82"/>
<rect x="134.59" y="324.13" width="1.98" height="19.67" fill="#a089cd"/>
<rect x="134.59" y="343.50" width="1.98" height="19.67" fill="#8e77c3"/>
<rect x="134.59" y="362.87" width="1.98" height="19.67" fill="#c0afde"/>
<rect x="134.59" y="382.23" width="1.98" height="19.37" fill="#f5eef5"/>
<rect x="136.21" y="215.00" width="1.98" height="9.60" fill="#1e5d96"/>
<rect x="136.21" y="246.67" width="1.98" height="19.67" fill="#f8eff0"/>
<rect x="136.21" y="266.03" width="1.98" height="19.67" fill="#c3b2df"/>
<rect x="136.21" y="285.40" width="1.98" height="19.67" fill="#b9a6da"/>
<rect x="136.21" y="304.77" width="1.98" height="19.67" fill="#f8f1f4"/>
<rect x="136.21" y="324.13" width="1.98" height="19.67" fill="#9c85cb"/>
<rect x="136.21" y="343.50" width="1.98" height="19.67" fill="#9f88cc"/>
<rect x="136.21" y="362.87" width="1.98" height="19.67" fill="#c7b6e1"/>
<rect x="136.21" y="382.23" width="1.98" height="19.37" fill="#f8eeef"/>
<rect x="137.84" y="215.00" width="1.98" height="9.60" fill="#3d78ad"/>
<rect x="137.84" y="246.67" width="1.98" height="19.67" fill="#ece4f2"/>
<rect x="137.84" y="266.03" width="1.98" height="19.67" fill="#9079c5"/>
<rect x="137.84" y="285.40" width="1.98" height="19.67" fill="#6246a8"/>
<rect x="137.84" y="304.77" width="1.98" height="19.67" fill="#c4b3e0"/>
<rect x="137.84" y="324.13" width="1.98" height="19.67" fill="#937dc6"/>
<rect x="137.84" y="343.50" width="1.98" height="19.67" fill="#a18acd"/>
<rect x="137.84" y="362.87" width="1.98" height="19.67" fill="#c1afde"/>
<rect x="137.84" y="382.23" width="1.98" height="19.37" fill="#ad98d4"/>
<rect x="139.47" y="215.00" width="1.98" height="9.60" fill="#1e5d96"/>
<rect x="139.47" y="246.67" width="1.98" height="19.67" fill="#f9e2db"/>
<rect x="139.47" y="266.03" width="1.98" height="19.67" fill="#8972c1"/>
<rect x="139.47" y="285.40" width="1.98" height="19.67" fill="#876fc0"/>
<rect x="139.47" y="304.77" width="1.98" height="19.67" fill="#f4edf4"/>
<rect x="139.47" y="324.13" width="1.98" height="19.67" fill="#c7b6e1"/>
<rect x="139.47" y="343.50" width="1.98" height="19.67" fill="#7a62b9"/>
<rect x="139.47" y="362.87" width="1.98" height="19.67" fill="#baa7db"/>
<rect x="139.47" y="382.23" width="1.98" height="19.37" fill="#917ac5"/>
<rect x="141.09" y="215.00" width="1.98" height="9.60" fill="#9ab8d6"/>
<rect x="141.09" y="246.67" width="1.98" height="19.67" fill="#f3ecf4"/>
<rect x="141.09" y="266.03" width="1.98" height="19.67" fill="#947ec7"/>
<rect x="141.09" y="285.40" width="1.98" height="19.67" fill="#57389f"/>
<rect x="141.09" y="304.77" width="1.98" height="19.67" fill="#9e87cb"/>
<rect x="141.09" y="324.13" width="1.98" height="19.67" fill="#6e54b0"/>
<rect x="141.09" y="343.50" width="1.98" height="19.67" fill="#775fb7"/>
<rect x="141.09" y="362.87" width="1.98" height="19.67" fill="#b19cd6"/>
<rect x="141.09" y="382.23" width="1.98" height="19.37" fill="#50329a"/>
<rect x="142.72" y="215.00" width="1.98" height="9.60" fill="#1e5d96"/>
<rect x="142.72" y="246.67" width="1.98" height="19.67" fill="#f3ecf4"/>
<rect x="142.72" y="266.03" width="1.98" height="19.67" fill="#8169bc"/>
<rect x="142.72" y="285.40" width="1.98" height="19.67" fill="#856dbf"/>
<rect x="142.72" y="304.77" width="1.98" height="19.67" fill="#cbbbe3"/>
<rect x="142.72" y="324.13" width="1.98" height="19.67" fill="#baa7da"/>
<rect x="142.72" y="343.50" width="1.98" height="19.67" fill="#8069bc"/>
<rect x="142.72" y="362.87" width="1.98" height="19.67" fill="#bba8db"/>
<rect x="142.72" y="382.23" width="1.98" height="19.37" fill="#593ba0"/>
<rect x="144.35" y="215.00" width="1.98" height="9.60" fill="#3d78ad"/>
<rect x="144.35" y="246.67" width="1.98" height="19.67" fill="#f2ebf4"/>
<rect x="144.35" y="266.03" width="1.98" height="19.67" fill="#6e53b0"/>
<rect x="144.35" y="285.40" width="1.98" height="19.67" fill="#bdabdc"/>
<rect x="144.35" y="304.77" width="1.98" height="19.67" fill="#a892d1"/>
<rect x="144.35" y="324.13" width="1.98" height="19.67" fill="#7a62b8"/>
<rect x="144.35" y="343.50" width="1.98" height="19.67" fill="#d0c1e6"/>
<rect x="144.35" y="362.87" width="1.98" height="19.67" fill="#b9a6da"/>
<rect x="144.35" y="382.23" width="1.98" height="19.37" fill="#5c3fa3"/>
<rect x="145.97" y="215.00" width="1.98" height="9.60" fill="#3d78ad"/>
<rect x="145.97" y="246.67" width="1.98" height="19.67" fill="#fad8cb"/>
<rect x="145.97" y="266.03" width="1.98" height="19.67" fill="#583aa0"/>
<rect x="145.97" y="285.40" width="1.98" height="19.67" fill="#755cb5"/>
<rect x="145.97" y="304.77" width="1.98" height="19.67" fill="#6b50ae"/>
<rect x="145.97" y="324.13" width="1.98" height="19.67" fill="#50329a"/>
<rect x="145.97" y="343.50" width="1.98" height="19.67" fill="#937cc6"/>
<rect x="145.97" y="362.87" width="1.98" height="19.67" fill="#bdabdc"/>
<rect x="145.97" y="382.23" width="1.98" height="19.37" fill="#9079c5"/>
<rect x="147.60" y="215.00" width="1.98" height="9.60" fill="#1e5d96"/>
<rect x="147.60" y="246.67" width="1.98" height="19.67" fill="#f9e8e4"/>
<rect x="147.60" y="266.03" width="1.98" height="19.67" fill="#775eb6"/>
<rect x="147.60" y="285.40" width="1.98" height="19.67" fill="#9e88cc"/>
<rect x="147.60" y="304.77" width="1.98" height="19.67" fill="#f7c3b1"/>
<rect x="147.60" y="324.13" width="1.98" height="19.67" fill="#866ebf"/>
<rect x="147.60" y="343.50" width="1.98" height="19.67" fill="#846cbe"/>
<rect x="147.60" y="362.87" width="1.98" height="19.67" fill="#baa7da"/>
<rect x="147.60" y="382.23" width="1.98" height="19.37" fill="#856ebf"/>
<rect x="149.23" y="215.00" width="1.98" height="9.60" fill="#1e5d96"/>
<rect x="149.23" y="246.67" width="1.98" height="19.67" fill="#d2c3e7"/>
<rect x="149.23" y="266.03" width="1.98" height="19.67" fill="#482994"/>
<rect x="149.23" y="285.40" width="1.98" height="19.67" fill="#6549a9"/>
<rect x="149.23" y="304.77" width="1.98" height="19.67" fill="#442591"/>
<rect x="149.23" y="324.13" width="1.98" height="19.67" fill="#856ebf"/>
<rect x="149.23" y="343.50" width="1.98" height="19.67" fill="#6d53af"/>
<rect x="149.23" y="362.87" width="1.98" height="19.67" fill="#af9ad5"/>
<rect x="149.23" y="382.23" width="1.98" height="19.37" fill="#583aa0"/>
<rect x="150.85" y="215.00" width="1.98" height="9.60" fill="#1e5d96"/>
<rect x="150.85" y="246.67" width="1.98" height="19.67" fill="#fae0d7"/>
<rect x="150.85" y="266.03" width="1.98" height="19.67" fill="#f9d5c7"/>
<rect x="150.85" y="285.40" width="1.98" height="19.67" fill="#f9e6e1"/>
<rect x="150.85" y="304.77" width="1.98" height="19.67" fill="#f9d1c2"/>
<rect x="150.85" y="324.13" width="1.98" height="19.67" fill="#c8b7e2"/>
<rect x="150.85" y="343.50" width="1.98" height="19.67" fill="#8c75c2"/>
<rect x="150.85" y="362.87" width="1.98" height="19.67" fill="#cabbe3"/>
<rect x="150.85" y="382.23" width="1.98" height="19.37" fill="#9f88cc"/>
<rect x="152.48" y="215.00" width="1.98" height="9.60" fill="#1e5d96"/>
<rect x="152.48" y="246.67" width="1.98" height="19.67" fill="#f9cfc0"/>
<rect x="152.48" y="266.03" width="1.98" height="19.67" fill="#f9e8e5"/>
<rect x="152.48" y="285.40" width="1.98" height="19.67" fill="#e0d5ed"/>
<rect x="152.48" y="304.77" width="1.98" height="19.67" fill="#9e87cc"/>
<rect x="152.48" y="324.13" width="1.98" height="19.67" fill="#f8f1f5"/>
<rect x="152.48" y="343.50" width="1.98" height="19.67" fill="#7960b8"/>
<rect x="152.48" y="362.87" width="1.98" height="19.67" fill="#b39ed7"/>
<rect x="152.48" y="382.23" width="1.98" height="19.37" fill="#eee6f2"/>
<rect x="154.11" y="215.00" width="1.98" height="9.60" fill="#c7203c"/>
<rect x="154.11" y="246.67" width="1.98" height="19.67" fill="#f8cbbb"/>
<rect x="154.11" y="266.03" width="1.98" height="19.67" fill="#e7def0"/>
<rect x="154.11" y="285.40" width="1.98" height="19.67" fill="#ae98d4"/>
<rect x="154.11" y="304.77" width="1.98" height="19.67" fill="#af99d4"/>
<rect x="154.11" y="324.13" width="1.98" height="19.67" fill="#d2c4e7"/>
<rect x="154.11" y="343.50" width="1.98" height="19.67" fill="#9e88cc"/>
<rect x="154.11" y="362.87" width="1.98" height="19.67" fill="#b5a1d8"/>
<rect x="154.11" y="382.23" width="1.98" height="19.37" fill="#c9b9e2"/>
<rect x="155.73" y="215.00" width="1.98" height="9.60" fill="#c7203c"/>
<rect x="155.73" y="246.67" width="1.98" height="19.67" fill="#f9d0c1"/>
<rect x="155.73" y="266.03" width="1.98" height="19.67" fill="#f9ecec"/>
<rect x="155.73" y="285.40" width="1.98" height="19.67" fill="#faded3"/>
<rect x="155.73" y="304.77" width="1.98" height="19.67" fill="#c0aedd"/>
<rect x="155.73" y="324.13" width="1.98" height="19.67" fill="#f5eff5"/>
<rect x="155.73" y="343.50" width="1.98" height="19.67" fill="#7158b2"/>
<rect x="155.73" y="362.87" width="1.98" height="19.67" fill="#c8b8e2"/>
<rect x="155.73" y="382.23" width="1.98" height="19.37" fill="#cebfe5"/>
<rect x="157.36" y="215.00" width="1.98" height="9.60" fill="#c7203c"/>
<rect x="157.36" y="246.67" width="1.98" height="19.67" fill="#f2967c"/>
<rect x="157.36" y="266.03" width="1.98" height="19.67" fill="#f18e73"/>
<rect x="157.36" y="285.40" width="1.98" height="19.67" fill="#f8eeef"/>
<rect x="157.36" y="304.77" width="1.98" height="19.67" fill="#f8edee"/>
<rect x="157.36" y="324.13" width="1.98" height="19.67" fill="#f4a28a"/>
<rect x="157.36" y="343.50" width="1.98" height="19.67" fill="#ac96d3"/>
<rect x="157.36" y="362.87" width="1.98" height="19.67" fill="#b19dd6"/>
<rect x="157.36" y="382.23" width="1.98" height="19.37" fill="#f9d4c6"/>
<rect x="158.99" y="215.00" width="1.98" height="9.60" fill="#dc6078"/>
<rect x="158.99" y="246.67" width="1.98" height="19.67" fill="#f9eae9"/>
<rect x="158.99" y="266.03" width="1.98" height="19.67" fill="#876fbf"/>
<rect x="158.99" y="285.40" width="1.98" height="19.67" fill="#f5eef5"/>
<rect x="158.99" y="304.77" width="1.98" height="19.67" fill="#b29dd6"/>
<rect x="158.99" y="324.13" width="1.98" height="19.67" fill="#9882c9"/>
<rect x="158.99" y="343.50" width="1.98" height="19.67" fill="#7359b3"/>
<rect x="158.99" y="362.87" width="1.98" height="19.67" fill="#bcaadc"/>
<rect x="158.99" y="382.23" width="1.98" height="19.37" fill="#dbceeb"/>
<rect x="160.61" y="215.00" width="1.98" height="9.60" fill="#c7203c"/>
<rect x="160.61" y="246.67" width="1.98" height="19.67" fill="#f0e8f3"/>
<rect x="160.61" y="266.03" width="1.98" height="19.67" fill="#ece3f1"/>
<rect x="160.61" y="285.40" width="1.98" height="19.67" fill="#aa94d2"/>
<rect x="160.61" y="304.77" width="1.98" height="19.67" fill="#937cc6"/>
<rect x="160.61" y="324.13" width="1.98" height="19.67" fill="#e1d6ed"/>
<rect x="160.61" y="343.50" width="1.98" height="19.67" fill="#5f43a5"/>
<rect x="160.61" y="362.87" width="1.98" height="19.67" fill="#cdbee5"/>
<rect x="160.61" y="382.23" width="1.98" height="19.37" fill="#e2d8ee"/>
<rect x="162.24" y="215.00" width="1.98" height="9.60" fill="#dc6078"/>
<rect x="162.24" y="246.67" width="1.98" height="19.67" fill="#ae99d4"/>
<rect x="162.24" y="266.03" width="1.98" height="19.67" fill="#c6b5e0"/>
<rect x="162.24" y="285.40" width="1.98" height="19.67" fill="#d8cae9"/>
<rect x="162.24" y="304.77" width="1.98" height="19.67" fill="#a38dcf"/>
<rect x="162.24" y="324.13" width="1.98" height="19.67" fill="#ede5f2"/>
<rect x="162.24" y="343.50" width="1.98" height="19.67" fill="#c2b1df"/>
<rect x="162.24" y="362.87" width="1.98" height="19.67" fill="#b29dd6"/>
<rect x="162.24" y="382.23" width="1.98" height="19.37" fill="#e9dff0"/>
<rect x="163.87" y="215.00" width="1.98" height="9.60" fill="#dc6078"/>
<rect x="163.87" y="246.67" width="1.98" height="19.67" fill="#8c75c2"/>
<rect x="163.87" y="266.03" width="1.98" height="19.67" fill="#ea674c"/>
<rect x="163.87" y="285.40" width="1.98" height="19.67" fill="#f39e85"/>
<rect x="163.87" y="304.77" width="1.98" height="19.67" fill="#9780c8"/>
<rect x="163.87" y="324.13" width="1.98" height="19.67" fill="#f9e6e1"/>
<rect x="163.87" y="343.50" width="1.98" height="19.67" fill="#927bc5"/>
<rect x="163.87" y="362.87" width="1.98" height="19.67" fill="#bba9db"/>
<rect x="163.87" y="382.23" width="1.98" height="19.37" fill="#f8c5b4"/>
<rect x="165.49" y="215.00" width="1.98" height="9.60" fill="#dc6078"/>
<rect x="165.49" y="246.67" width="1.98" height="19.67" fill="#9f89cc"/>
<rect x="165.49" y="266.03" width="1.98" height="19.67" fill="#f9d3c5"/>
<rect x="165.49" y="285.40" width="1.98" height="19.67" fill="#f6eff5"/>
<rect x="165.49" y="304.77" width="1.98" height="19.67" fill="#a28cce"/>
<rect x="165.49" y="324.13" width="1.98" height="19.67" fill="#ebe3f1"/>
<rect x="165.49" y="343.50" width="1.98" height="19.67" fill="#876fc0"/>
<rect x="165.49" y="362.87" width="1.98" height="19.67" fill="#baa8db"/>
<rect x="165.49" y="382.23" width="1.98" height="19.37" fill="#fadcd0"/>
<rect x="167.12" y="215.00" width="1.98" height="9.60" fill="#c7203c"/>
<rect x="167.12" y="246.67" width="1.98" height="19.67" fill="#967fc7"/>
<rect x="167.12" y="266.03" width="1.98" height="19.67" fill="#f9e5df"/>
<rect x="167.12" y="285.40" width="1.98" height="19.67" fill="#faded3"/>
<rect x="167.12" y="304.77" width="1.98" height="19.67" fill="#8c75c3"/>
<rect x="167.12" y="324.13" width="1.98" height="19.67" fill="#f8f0f3"/>
<rect x="167.12" y="343.50" width="1.98" height="19.67" fill="#7a61b8"/>
<rect x="167.12" y="362.87" width="1.98" height="19.67" fill="#b6a3d8"/>
<rect x="167.12" y="382.23" width="1.98" height="19.37" fill="#f9e2da"/>
<rect x="168.75" y="215.00" width="1.98" height="9.60" fill="#eab0bc"/>
<rect x="168.75" y="246.67" width="1.98" height="19.67" fill="#9680c8"/>
<rect x="168.75" y="266.03" width="1.98" height="19.67" fill="#e6dcef"/>
<rect x="168.75" y="285.40" width="1.98" height="19.67" fill="#957ec7"/>
<rect x="168.75" y="304.77" width="1.98" height="19.67" fill="#9a83ca"/>
<rect x="168.75" y="324.13" width="1.98" height="19.67" fill="#fae1d8"/>
<rect x="168.75" y="343.50" width="1.98" height="19.67" fill="#755bb5"/>
<rect x="168.75" y="362.87" width="1.98" height="19.67" fill="#b6a2d8"/>
<rect x="168.75" y="382.23" width="1.98" height="19.37" fill="#f8eff0"/>
<rect x="170.37" y="215.00" width="1.98" height="9.60" fill="#eab0bc"/>
<rect x="170.37" y="246.67" width="1.98" height="19.67" fill="#775eb6"/>
<rect x="170.37" y="266.03" width="1.98" height="19.67" fill="#f1eaf3"/>
<rect x="170.37" y="285.40" width="1.98" height="19.67" fill="#f3ecf4"/>
<rect x="170.37" y="304.77" width="1.98" height="19.67" fill="#a58ecf"/>
<rect x="170.37" y="324.13" width="1.98" height="19.67" fill="#f9eae8"/>
<rect x="170.37" y="343.50" width="1.98" height="19.67" fill="#8871c0"/>
<rect x="170.37" y="362.87" width="1.98" height="19.67" fill="#c1b0de"/>
<rect x="170.37" y="382.23" width="1.98" height="19.37" fill="#f5ae97"/>
<defs><linearGradient id="gmBL" x1="0" x2="1" y1="0" y2="0"><stop offset="0.000" stop-color="#f4a78f"/><stop offset="0.042" stop-color="#f4a890"/><stop offset="0.083" stop-color="#f5a992"/><stop offset="0.125" stop-color="#f5ab93"/><stop offset="0.167" stop-color="#f5ac95"/><stop offset="0.208" stop-color="#f5ad96"/><stop offset="0.250" stop-color="#f5ae98"/><stop offset="0.292" stop-color="#f5b099"/><stop offset="0.333" stop-color="#f6b19a"/><stop offset="0.375" stop-color="#f6b29c"/><stop offset="0.417" stop-color="#f6b39d"/><stop offset="0.458" stop-color="#f6b59f"/><stop offset="0.500" stop-color="#f6b6a0"/><stop offset="0.542" stop-color="#f7bba7"/><stop offset="0.583" stop-color="#f7c0ae"/><stop offset="0.625" stop-color="#f8c6b4"/><stop offset="0.667" stop-color="#f8cbbb"/><stop offset="0.708" stop-color="#f9d0c2"/><stop offset="0.750" stop-color="#f9d6c8"/><stop offset="0.792" stop-color="#f9e3db"/><stop offset="0.833" stop-color="#f8eeee"/><stop offset="0.875" stop-color="#d7cae9"/><stop offset="0.917" stop-color="#a68fd0"/><stop offset="0.958" stop-color="#674cab"/><stop offset="1.000" stop-color="#3e1e8c"/></linearGradient></defs>
<rect x="74.40" y="227.30" width="97.60" height="19.67" fill="url(#gmBL)"/>
<rect x="174.40" y="203.00" width="46.40" height="9.80" fill="#ef8c6c"/>
<text x="197.60" y="197.7" font-size="7.85" text-anchor="middle" fill="#2b2b2b">FL</text>
<rect x="174.40" y="215.00" width="1.90" height="9.60" fill="#1e5d96"/>
<rect x="174.40" y="246.67" width="1.90" height="19.67" fill="#f6b59f"/>
<rect x="174.40" y="266.03" width="1.90" height="19.67" fill="#f9eae8"/>
<rect x="174.40" y="285.40" width="1.90" height="19.67" fill="#f7bca8"/>
<rect x="174.40" y="304.77" width="1.90" height="19.67" fill="#f6b7a2"/>
<rect x="174.40" y="324.13" width="1.90" height="19.67" fill="#f9d0c2"/>
<rect x="174.40" y="343.50" width="1.90" height="19.67" fill="#ebe2f1"/>
<rect x="174.40" y="362.87" width="1.90" height="19.67" fill="#ea684d"/>
<rect x="174.40" y="382.23" width="1.90" height="19.37" fill="#f6b49e"/>
<rect x="175.95" y="215.00" width="1.90" height="9.60" fill="#1e5d96"/>
<rect x="175.95" y="246.67" width="1.90" height="19.67" fill="#e96147"/>
<rect x="175.95" y="266.03" width="1.90" height="19.67" fill="#f8c9b8"/>
<rect x="175.95" y="285.40" width="1.90" height="19.67" fill="#f4a48c"/>
<rect x="175.95" y="304.77" width="1.90" height="19.67" fill="#f7c3b1"/>
<rect x="175.95" y="324.13" width="1.90" height="19.67" fill="#f6b8a3"/>
<rect x="175.95" y="343.50" width="1.90" height="19.67" fill="#f4a68e"/>
<rect x="175.95" y="362.87" width="1.90" height="19.67" fill="#e33e2c"/>
<rect x="175.95" y="382.23" width="1.90" height="19.37" fill="#f8cdbd"/>
<rect x="177.49" y="215.00" width="1.90" height="9.60" fill="#1e5d96"/>
<rect x="177.49" y="246.67" width="1.90" height="19.67" fill="#f8c3b1"/>
<rect x="177.49" y="266.03" width="1.90" height="19.67" fill="#f8c5b3"/>
<rect x="177.49" y="285.40" width="1.90" height="19.67" fill="#fadcd0"/>
<rect x="177.49" y="304.77" width="1.90" height="19.67" fill="#f7c1af"/>
<rect x="177.49" y="324.13" width="1.90" height="19.67" fill="#f7f0f6"/>
<rect x="177.49" y="343.50" width="1.90" height="19.67" fill="#f3ecf4"/>
<rect x="177.49" y="362.87" width="1.90" height="19.67" fill="#f6b39d"/>
<rect x="177.49" y="382.23" width="1.90" height="19.37" fill="#f9e4dd"/>
<rect x="179.04" y="215.00" width="1.90" height="9.60" fill="#1e5d96"/>
<rect x="179.04" y="246.67" width="1.90" height="19.67" fill="#ef8266"/>
<rect x="179.04" y="266.03" width="1.90" height="19.67" fill="#fadacd"/>
<rect x="179.04" y="285.40" width="1.90" height="19.67" fill="#f39b81"/>
<rect x="179.04" y="304.77" width="1.90" height="19.67" fill="#f6b8a3"/>
<rect x="179.04" y="324.13" width="1.90" height="19.67" fill="#fadfd5"/>
<rect x="179.04" y="343.50" width="1.90" height="19.67" fill="#fae0d6"/>
<rect x="179.04" y="362.87" width="1.90" height="19.67" fill="#e65339"/>
<rect x="179.04" y="382.23" width="1.90" height="19.37" fill="#f9cebe"/>
<rect x="180.59" y="215.00" width="1.90" height="9.60" fill="#3d78ad"/>
<rect x="180.59" y="246.67" width="1.90" height="19.67" fill="#f18d72"/>
<rect x="180.59" y="266.03" width="1.90" height="19.67" fill="#f9d0c1"/>
<rect x="180.59" y="285.40" width="1.90" height="19.67" fill="#f18f74"/>
<rect x="180.59" y="304.77" width="1.90" height="19.67" fill="#f3a188"/>
<rect x="180.59" y="324.13" width="1.90" height="19.67" fill="#f5ae97"/>
<rect x="180.59" y="343.50" width="1.90" height="19.67" fill="#fad8cb"/>
<rect x="180.59" y="362.87" width="1.90" height="19.67" fill="#ee7c60"/>
<rect x="180.59" y="382.23" width="1.90" height="19.37" fill="#f8ccbc"/>
<rect x="182.13" y="215.00" width="1.90" height="9.60" fill="#1e5d96"/>
<rect x="182.13" y="246.67" width="1.90" height="19.67" fill="#f39e85"/>
<rect x="182.13" y="266.03" width="1.90" height="19.67" fill="#f5a992"/>
<rect x="182.13" y="285.40" width="1.90" height="19.67" fill="#f8f2f6"/>
<rect x="182.13" y="304.77" width="1.90" height="19.67" fill="#f9d2c3"/>
<rect x="182.13" y="324.13" width="1.90" height="19.67" fill="#fadfd4"/>
<rect x="182.13" y="343.50" width="1.90" height="19.67" fill="#f9d5c7"/>
<rect x="182.13" y="362.87" width="1.90" height="19.67" fill="#e85f45"/>
<rect x="182.13" y="382.23" width="1.90" height="19.37" fill="#faded3"/>
<rect x="183.68" y="215.00" width="1.90" height="9.60" fill="#1e5d96"/>
<rect x="183.68" y="246.67" width="1.90" height="19.67" fill="#f9cfc0"/>
<rect x="183.68" y="266.03" width="1.90" height="19.67" fill="#cabae3"/>
<rect x="183.68" y="285.40" width="1.90" height="19.67" fill="#ebe2f1"/>
<rect x="183.68" y="304.77" width="1.90" height="19.67" fill="#f7bda9"/>
<rect x="183.68" y="324.13" width="1.90" height="19.67" fill="#f8eeee"/>
<rect x="183.68" y="343.50" width="1.90" height="19.67" fill="#c1afde"/>
<rect x="183.68" y="362.87" width="1.90" height="19.67" fill="#ee8064"/>
<rect x="183.68" y="382.23" width="1.90" height="19.37" fill="#d1c2e6"/>
<rect x="185.23" y="215.00" width="1.90" height="9.60" fill="#3d78ad"/>
<rect x="185.23" y="246.67" width="1.90" height="19.67" fill="#f8c4b2"/>
<rect x="185.23" y="266.03" width="1.90" height="19.67" fill="#f8c9b8"/>
<rect x="185.23" y="285.40" width="1.90" height="19.67" fill="#f5ab94"/>
<rect x="185.23" y="304.77" width="1.90" height="19.67" fill="#f9d1c2"/>
<rect x="185.23" y="324.13" width="1.90" height="19.67" fill="#f7c3b0"/>
<rect x="185.23" y="343.50" width="1.90" height="19.67" fill="#f8c5b3"/>
<rect x="185.23" y="362.87" width="1.90" height="19.67" fill="#ec7459"/>
<rect x="185.23" y="382.23" width="1.90" height="19.37" fill="#d1c2e6"/>
<rect x="186.77" y="215.00" width="1.90" height="9.60" fill="#1e5d96"/>
<rect x="186.77" y="246.67" width="1.90" height="19.67" fill="#f6b7a2"/>
<rect x="186.77" y="266.03" width="1.90" height="19.67" fill="#f8c4b2"/>
<rect x="186.77" y="285.40" width="1.90" height="19.67" fill="#f6b8a3"/>
<rect x="186.77" y="304.77" width="1.90" height="19.67" fill="#f8c3b1"/>
<rect x="186.77" y="324.13" width="1.90" height="19.67" fill="#f8c7b5"/>
<rect x="186.77" y="343.50" width="1.90" height="19.67" fill="#f9cdbd"/>
<rect x="186.77" y="362.87" width="1.90" height="19.67" fill="#f2957b"/>
<rect x="186.77" y="382.23" width="1.90" height="19.37" fill="#f8eff0"/>
<rect x="188.32" y="215.00" width="1.90" height="9.60" fill="#1e5d96"/>
<rect x="188.32" y="246.67" width="1.90" height="19.67" fill="#f9d6c8"/>
<rect x="188.32" y="266.03" width="1.90" height="19.67" fill="#f9e3dc"/>
<rect x="188.32" y="285.40" width="1.90" height="19.67" fill="#f5ac95"/>
<rect x="188.32" y="304.77" width="1.90" height="19.67" fill="#f6b6a0"/>
<rect x="188.32" y="324.13" width="1.90" height="19.67" fill="#f6b19b"/>
<rect x="188.32" y="343.50" width="1.90" height="19.67" fill="#f7beaa"/>
<rect x="188.32" y="362.87" width="1.90" height="19.67" fill="#ec7055"/>
<rect x="188.32" y="382.23" width="1.90" height="19.37" fill="#f18e73"/>
<rect x="189.87" y="215.00" width="1.90" height="9.60" fill="#1e5d96"/>
<rect x="189.87" y="246.67" width="1.90" height="19.67" fill="#f4a58d"/>
<rect x="189.87" y="266.03" width="1.90" height="19.67" fill="#f7c1ae"/>
<rect x="189.87" y="285.40" width="1.90" height="19.67" fill="#f8c3b1"/>
<rect x="189.87" y="304.77" width="1.90" height="19.67" fill="#faddd1"/>
<rect x="189.87" y="324.13" width="1.90" height="19.67" fill="#f8eff0"/>
<rect x="189.87" y="343.50" width="1.90" height="19.67" fill="#f9ebe9"/>
<rect x="189.87" y="362.87" width="1.90" height="19.67" fill="#f19176"/>
<rect x="189.87" y="382.23" width="1.90" height="19.37" fill="#f8caba"/>
<rect x="191.41" y="215.00" width="1.90" height="9.60" fill="#3d78ad"/>
<rect x="191.41" y="246.67" width="1.90" height="19.67" fill="#f9e7e3"/>
<rect x="191.41" y="266.03" width="1.90" height="19.67" fill="#faded3"/>
<rect x="191.41" y="285.40" width="1.90" height="19.67" fill="#f9d0c1"/>
<rect x="191.41" y="304.77" width="1.90" height="19.67" fill="#f7baa5"/>
<rect x="191.41" y="324.13" width="1.90" height="19.67" fill="#ee7b5f"/>
<rect x="191.41" y="343.50" width="1.90" height="19.67" fill="#f7beaa"/>
<rect x="191.41" y="362.87" width="1.90" height="19.67" fill="#eb6e53"/>
<rect x="191.41" y="382.23" width="1.90" height="19.37" fill="#fae0d7"/>
<rect x="192.96" y="215.00" width="1.90" height="9.60" fill="#1e5d96"/>
<rect x="192.96" y="246.67" width="1.90" height="19.67" fill="#ee7b5f"/>
<rect x="192.96" y="266.03" width="1.90" height="19.67" fill="#fadfd4"/>
<rect x="192.96" y="285.40" width="1.90" height="19.67" fill="#f9cfc0"/>
<rect x="192.96" y="304.77" width="1.90" height="19.67" fill="#f8ccbb"/>
<rect x="192.96" y="324.13" width="1.90" height="19.67" fill="#f9e6e2"/>
<rect x="192.96" y="343.50" width="1.90" height="19.67" fill="#f9e3dd"/>
<rect x="192.96" y="362.87" width="1.90" height="19.67" fill="#ee7c61"/>
<rect x="192.96" y="382.23" width="1.90" height="19.37" fill="#e6ddef"/>
<rect x="194.51" y="215.00" width="1.90" height="9.60" fill="#dc6078"/>
<rect x="194.51" y="246.67" width="1.90" height="19.67" fill="#f5a992"/>
<rect x="194.51" y="266.03" width="1.90" height="19.67" fill="#f7bba7"/>
<rect x="194.51" y="285.40" width="1.90" height="19.67" fill="#f5ab93"/>
<rect x="194.51" y="304.77" width="1.90" height="19.67" fill="#fadbcf"/>
<rect x="194.51" y="324.13" width="1.90" height="19.67" fill="#f7f0f5"/>
<rect x="194.51" y="343.50" width="1.90" height="19.67" fill="#c5b4e0"/>
<rect x="194.51" y="362.87" width="1.90" height="19.67" fill="#ee7f63"/>
<rect x="194.51" y="382.23" width="1.90" height="19.37" fill="#f4a38b"/>
<rect x="196.05" y="215.00" width="1.90" height="9.60" fill="#c7203c"/>
<rect x="196.05" y="246.67" width="1.90" height="19.67" fill="#ef8569"/>
<rect x="196.05" y="266.03" width="1.90" height="19.67" fill="#ede5f2"/>
<rect x="196.05" y="285.40" width="1.90" height="19.67" fill="#f7c1ae"/>
<rect x="196.05" y="304.77" width="1.90" height="19.67" fill="#f9d0c1"/>
<rect x="196.05" y="324.13" width="1.90" height="19.67" fill="#f8cbbb"/>
<rect x="196.05" y="343.50" width="1.90" height="19.67" fill="#f5ae97"/>
<rect x="196.05" y="362.87" width="1.90" height="19.67" fill="#ea674d"/>
<rect x="196.05" y="382.23" width="1.90" height="19.37" fill="#f7baa5"/>
<rect x="197.60" y="215.00" width="1.90" height="9.60" fill="#c7203c"/>
<rect x="197.60" y="246.67" width="1.90" height="19.67" fill="#ee7c60"/>
<rect x="197.60" y="266.03" width="1.90" height="19.67" fill="#f9d6c9"/>
<rect x="197.60" y="285.40" width="1.90" height="19.67" fill="#f5af98"/>
<rect x="197.60" y="304.77" width="1.90" height="19.67" fill="#f9d3c4"/>
<rect x="197.60" y="324.13" width="1.90" height="19.67" fill="#f5ab94"/>
<rect x="197.60" y="343.50" width="1.90" height="19.67" fill="#f9d6c8"/>
<rect x="197.60" y="362.87" width="1.90" height="19.67" fill="#ea694e"/>
<rect x="197.60" y="382.23" width="1.90" height="19.37" fill="#f9d0c1"/>
<rect x="199.15" y="215.00" width="1.90" height="9.60" fill="#c7203c"/>
<rect x="199.15" y="246.67" width="1.90" height="19.67" fill="#f39c83"/>
<rect x="199.15" y="266.03" width="1.90" height="19.67" fill="#f9eae8"/>
<rect x="199.15" y="285.40" width="1.90" height="19.67" fill="#f9d1c2"/>
<rect x="199.15" y="304.77" width="1.90" height="19.67" fill="#f7c2b0"/>
<rect x="199.15" y="324.13" width="1.90" height="19.67" fill="#fad8cb"/>
<rect x="199.15" y="343.50" width="1.90" height="19.67" fill="#f8c7b6"/>
<rect x="199.15" y="362.87" width="1.90" height="19.67" fill="#f08a6f"/>
<rect x="199.15" y="382.23" width="1.90" height="19.37" fill="#f8edee"/>
<rect x="200.69" y="215.00" width="1.90" height="9.60" fill="#dc6078"/>
<rect x="200.69" y="246.67" width="1.90" height="19.67" fill="#f9eae9"/>
<rect x="200.69" y="266.03" width="1.90" height="19.67" fill="#f6b8a3"/>
<rect x="200.69" y="285.40" width="1.90" height="19.67" fill="#f4a891"/>
<rect x="200.69" y="304.77" width="1.90" height="19.67" fill="#fadfd5"/>
<rect x="200.69" y="324.13" width="1.90" height="19.67" fill="#f3a188"/>
<rect x="200.69" y="343.50" width="1.90" height="19.67" fill="#f9d3c5"/>
<rect x="200.69" y="362.87" width="1.90" height="19.67" fill="#ee7b5f"/>
<rect x="200.69" y="382.23" width="1.90" height="19.37" fill="#fadace"/>
<rect x="202.24" y="215.00" width="1.90" height="9.60" fill="#dc6078"/>
<rect x="202.24" y="246.67" width="1.90" height="19.67" fill="#e9654a"/>
<rect x="202.24" y="266.03" width="1.90" height="19.67" fill="#fad8ca"/>
<rect x="202.24" y="285.40" width="1.90" height="19.67" fill="#f7bda9"/>
<rect x="202.24" y="304.77" width="1.90" height="19.67" fill="#f4a289"/>
<rect x="202.24" y="324.13" width="1.90" height="19.67" fill="#f9cebf"/>
<rect x="202.24" y="343.50" width="1.90" height="19.67" fill="#f8c4b2"/>
<rect x="202.24" y="362.87" width="1.90" height="19.67" fill="#f2957b"/>
<rect x="202.24" y="382.23" width="1.90" height="19.37" fill="#fad7ca"/>
<rect x="203.79" y="215.00" width="1.90" height="9.60" fill="#c7203c"/>
<rect x="203.79" y="246.67" width="1.90" height="19.67" fill="#f6b59f"/>
<rect x="203.79" y="266.03" width="1.90" height="19.67" fill="#f9cfbf"/>
<rect x="203.79" y="285.40" width="1.90" height="19.67" fill="#fad7ca"/>
<rect x="203.79" y="304.77" width="1.90" height="19.67" fill="#f9e8e5"/>
<rect x="203.79" y="324.13" width="1.90" height="19.67" fill="#f6b29b"/>
<rect x="203.79" y="343.50" width="1.90" height="19.67" fill="#f4edf4"/>
<rect x="203.79" y="362.87" width="1.90" height="19.67" fill="#f18f74"/>
<rect x="203.79" y="382.23" width="1.90" height="19.37" fill="#f8f2f6"/>
<rect x="205.33" y="215.00" width="1.90" height="9.60" fill="#eab0bc"/>
<rect x="205.33" y="246.67" width="1.90" height="19.67" fill="#eb6f54"/>
<rect x="205.33" y="266.03" width="1.90" height="19.67" fill="#f6b5a0"/>
<rect x="205.33" y="285.40" width="1.90" height="19.67" fill="#f8c5b3"/>
<rect x="205.33" y="304.77" width="1.90" height="19.67" fill="#f9d1c3"/>
<rect x="205.33" y="324.13" width="1.90" height="19.67" fill="#f9e8e4"/>
<rect x="205.33" y="343.50" width="1.90" height="19.67" fill="#f6b7a2"/>
<rect x="205.33" y="362.87" width="1.90" height="19.67" fill="#ef8367"/>
<rect x="205.33" y="382.23" width="1.90" height="19.37" fill="#f9d0c1"/>
<rect x="206.88" y="215.00" width="1.90" height="9.60" fill="#c7203c"/>
<rect x="206.88" y="246.67" width="1.90" height="19.67" fill="#f5a992"/>
<rect x="206.88" y="266.03" width="1.90" height="19.67" fill="#f8c9b9"/>
<rect x="206.88" y="285.40" width="1.90" height="19.67" fill="#f4a890"/>
<rect x="206.88" y="304.77" width="1.90" height="19.67" fill="#f9d1c2"/>
<rect x="206.88" y="324.13" width="1.90" height="19.67" fill="#f9e7e3"/>
<rect x="206.88" y="343.50" width="1.90" height="19.67" fill="#fadfd5"/>
<rect x="206.88" y="362.87" width="1.90" height="19.67" fill="#ed775c"/>
<rect x="206.88" y="382.23" width="1.90" height="19.37" fill="#ece3f1"/>
<rect x="208.43" y="215.00" width="1.90" height="9.60" fill="#c7203c"/>
<rect x="208.43" y="246.67" width="1.90" height="19.67" fill="#f0876b"/>
<rect x="208.43" y="266.03" width="1.90" height="19.67" fill="#f9d7c9"/>
<rect x="208.43" y="285.40" width="1.90" height="19.67" fill="#f9e2db"/>
<rect x="208.43" y="304.77" width="1.90" height="19.67" fill="#d6c8e9"/>
<rect x="208.43" y="324.13" width="1.90" height="19.67" fill="#f7c2af"/>
<rect x="208.43" y="343.50" width="1.90" height="19.67" fill="#dacdea"/>
<rect x="208.43" y="362.87" width="1.90" height="19.67" fill="#f0886c"/>
<rect x="208.43" y="382.23" width="1.90" height="19.37" fill="#fadacd"/>
<rect x="209.97" y="215.00" width="1.90" height="9.60" fill="#c7203c"/>
<rect x="209.97" y="246.67" width="1.90" height="19.67" fill="#f29479"/>
<rect x="209.97" y="266.03" width="1.90" height="19.67" fill="#f8ccbc"/>
<rect x="209.97" y="285.40" width="1.90" height="19.67" fill="#f0e9f3"/>
<rect x="209.97" y="304.77" width="1.90" height="19.67" fill="#f9d3c4"/>
<rect x="209.97" y="324.13" width="1.90" height="19.67" fill="#f7beaa"/>
<rect x="209.97" y="343.50" width="1.90" height="19.67" fill="#ddd1eb"/>
<rect x="209.97" y="362.87" width="1.90" height="19.67" fill="#ec7055"/>
<rect x="209.97" y="382.23" width="1.90" height="19.37" fill="#f5ac95"/>
<rect x="211.52" y="215.00" width="1.90" height="9.60" fill="#1e5d96"/>
<rect x="211.52" y="246.67" width="1.90" height="19.67" fill="#f8c4b2"/>
<rect x="211.52" y="266.03" width="1.90" height="19.67" fill="#faded3"/>
<rect x="211.52" y="285.40" width="1.90" height="19.67" fill="#f9e2da"/>
<rect x="211.52" y="304.77" width="1.90" height="19.67" fill="#cbbce4"/>
<rect x="211.52" y="324.13" width="1.90" height="19.67" fill="#f5eef5"/>
<rect x="211.52" y="343.50" width="1.90" height="19.67" fill="#f9eceb"/>
<rect x="211.52" y="362.87" width="1.90" height="19.67" fill="#ef8065"/>
<rect x="211.52" y="382.23" width="1.90" height="19.37" fill="#f9e8e5"/>
<rect x="213.07" y="215.00" width="1.90" height="9.60" fill="#1e5d96"/>
<rect x="213.07" y="246.67" width="1.90" height="19.67" fill="#f19378"/>
<rect x="213.07" y="266.03" width="1.90" height="19.67" fill="#f9cebf"/>
<rect x="213.07" y="285.40" width="1.90" height="19.67" fill="#f9ecec"/>
<rect x="213.07" y="304.77" width="1.90" height="19.67" fill="#fadfd5"/>
<rect x="213.07" y="324.13" width="1.90" height="19.67" fill="#f9e6e2"/>
<rect x="213.07" y="343.50" width="1.90" height="19.67" fill="#f4a68f"/>
<rect x="213.07" y="362.87" width="1.90" height="19.67" fill="#f2967c"/>
<rect x="213.07" y="382.23" width="1.90" height="19.37" fill="#f7baa5"/>
<rect x="214.61" y="215.00" width="1.90" height="9.60" fill="#c7203c"/>
<rect x="214.61" y="246.67" width="1.90" height="19.67" fill="#e4d9ee"/>
<rect x="214.61" y="266.03" width="1.90" height="19.67" fill="#fadfd6"/>
<rect x="214.61" y="285.40" width="1.90" height="19.67" fill="#fae0d6"/>
<rect x="214.61" y="304.77" width="1.90" height="19.67" fill="#f8cdbd"/>
<rect x="214.61" y="324.13" width="1.90" height="19.67" fill="#f8c5b3"/>
<rect x="214.61" y="343.50" width="1.90" height="19.67" fill="#f29379"/>
<rect x="214.61" y="362.87" width="1.90" height="19.67" fill="#e54d35"/>
<rect x="214.61" y="382.23" width="1.90" height="19.37" fill="#f8caba"/>
<rect x="216.16" y="215.00" width="1.90" height="9.60" fill="#dc6078"/>
<rect x="216.16" y="246.67" width="1.90" height="19.67" fill="#c8b7e2"/>
<rect x="216.16" y="266.03" width="1.90" height="19.67" fill="#f0886c"/>
<rect x="216.16" y="285.40" width="1.90" height="19.67" fill="#f6b39d"/>
<rect x="216.16" y="304.77" width="1.90" height="19.67" fill="#f19076"/>
<rect x="216.16" y="324.13" width="1.90" height="19.67" fill="#f5ac95"/>
<rect x="216.16" y="343.50" width="1.90" height="19.67" fill="#fadfd4"/>
<rect x="216.16" y="362.87" width="1.90" height="19.67" fill="#ed7a5e"/>
<rect x="216.16" y="382.23" width="1.90" height="19.37" fill="#f7c0ad"/>
<rect x="217.71" y="215.00" width="1.90" height="9.60" fill="#c7203c"/>
<rect x="217.71" y="246.67" width="1.90" height="19.67" fill="#f4edf4"/>
<rect x="217.71" y="266.03" width="1.90" height="19.67" fill="#f9d3c5"/>
<rect x="217.71" y="285.40" width="1.90" height="19.67" fill="#f8c5b4"/>
<rect x="217.71" y="304.77" width="1.90" height="19.67" fill="#f18f74"/>
<rect x="217.71" y="324.13" width="1.90" height="19.67" fill="#f6b8a3"/>
<rect x="217.71" y="343.50" width="1.90" height="19.67" fill="#f9e9e6"/>
<rect x="217.71" y="362.87" width="1.90" height="19.67" fill="#f2977d"/>
<rect x="217.71" y="382.23" width="1.90" height="19.37" fill="#fadcd1"/>
<rect x="219.25" y="215.00" width="1.90" height="9.60" fill="#c7203c"/>
<rect x="219.25" y="246.67" width="1.90" height="19.67" fill="#d8cae9"/>
<rect x="219.25" y="266.03" width="1.90" height="19.67" fill="#f6b9a4"/>
<rect x="219.25" y="285.40" width="1.90" height="19.67" fill="#f9d1c3"/>
<rect x="219.25" y="304.77" width="1.90" height="19.67" fill="#f8c9b8"/>
<rect x="219.25" y="324.13" width="1.90" height="19.67" fill="#fad8ca"/>
<rect x="219.25" y="343.50" width="1.90" height="19.67" fill="#faded3"/>
<rect x="219.25" y="362.87" width="1.90" height="19.67" fill="#f19075"/>
<rect x="219.25" y="382.23" width="1.90" height="19.37" fill="#f9d6c8"/>
<defs><linearGradient id="gmFL" x1="0" x2="1" y1="0" y2="0"><stop offset="0.000" stop-color="#f4a28a"/><stop offset="0.042" stop-color="#f4a38b"/><stop offset="0.083" stop-color="#f4a48c"/><stop offset="0.125" stop-color="#f4a58d"/><stop offset="0.167" stop-color="#f4a68e"/><stop offset="0.208" stop-color="#f4a78f"/><stop offset="0.250" stop-color="#f4a890"/><stop offset="0.292" stop-color="#f4a991"/><stop offset="0.333" stop-color="#f5a992"/><stop offset="0.375" stop-color="#f5aa93"/><stop offset="0.417" stop-color="#f5ab94"/><stop offset="0.458" stop-color="#f7baa6"/><stop offset="0.500" stop-color="#f8cbbb"/><stop offset="0.542" stop-color="#fadcd0"/><stop offset="0.583" stop-color="#f9e8e4"/><stop offset="0.625" stop-color="#f7f0f6"/><stop offset="0.667" stop-color="#ece3f1"/><stop offset="0.708" stop-color="#e1d6ed"/><stop offset="0.750" stop-color="#d7c9e9"/><stop offset="0.792" stop-color="#cdbde4"/><stop offset="0.833" stop-color="#c5b4e0"/><stop offset="0.875" stop-color="#beacdd"/><stop offset="0.917" stop-color="#b8a4d9"/><stop offset="0.958" stop-color="#b19cd6"/><stop offset="1.000" stop-color="#aa94d2"/></linearGradient></defs>
<rect x="174.40" y="227.30" width="46.40" height="19.67" fill="url(#gmFL)"/>
<rect x="223.00" y="203.00" width="79.70" height="9.80" fill="#7a1416"/>
<text x="262.85" y="197.7" font-size="7.85" text-anchor="middle" fill="#2b2b2b">HGBCL–DH–<tspan font-style="italic">BCL2</tspan></text>
<rect x="223.00" y="215.00" width="1.88" height="9.60" fill="#1e5d96"/>
<rect x="223.00" y="246.67" width="1.88" height="19.67" fill="#ed765b"/>
<rect x="223.00" y="266.03" width="1.88" height="19.67" fill="#ee7e62"/>
<rect x="223.00" y="285.40" width="1.88" height="19.67" fill="#f9cfbf"/>
<rect x="223.00" y="304.77" width="1.88" height="19.67" fill="#fae0d7"/>
<rect x="223.00" y="324.13" width="1.88" height="19.67" fill="#fae0d8"/>
<rect x="223.00" y="343.50" width="1.88" height="19.67" fill="#f5ac95"/>
<rect x="223.00" y="362.87" width="1.88" height="19.67" fill="#f9cebf"/>
<rect x="223.00" y="382.23" width="1.88" height="19.37" fill="#faddd2"/>
<rect x="224.53" y="215.00" width="1.88" height="9.60" fill="#1e5d96"/>
<rect x="224.53" y="246.67" width="1.88" height="19.67" fill="#f7bfab"/>
<rect x="224.53" y="266.03" width="1.88" height="19.67" fill="#826abd"/>
<rect x="224.53" y="285.40" width="1.88" height="19.67" fill="#e0d5ed"/>
<rect x="224.53" y="304.77" width="1.88" height="19.67" fill="#eee6f2"/>
<rect x="224.53" y="324.13" width="1.88" height="19.67" fill="#a68fd0"/>
<rect x="224.53" y="343.50" width="1.88" height="19.67" fill="#dbcfeb"/>
<rect x="224.53" y="362.87" width="1.88" height="19.67" fill="#c2b0de"/>
<rect x="224.53" y="382.23" width="1.88" height="19.37" fill="#f8eef0"/>
<rect x="226.07" y="215.00" width="1.88" height="9.60" fill="#1e5d96"/>
<rect x="226.07" y="246.67" width="1.88" height="19.67" fill="#ef8065"/>
<rect x="226.07" y="266.03" width="1.88" height="19.67" fill="#f8c9b8"/>
<rect x="226.07" y="285.40" width="1.88" height="19.67" fill="#f19277"/>
<rect x="226.07" y="304.77" width="1.88" height="19.67" fill="#f7f1f6"/>
<rect x="226.07" y="324.13" width="1.88" height="19.67" fill="#f8eded"/>
<rect x="226.07" y="343.50" width="1.88" height="19.67" fill="#f9e3db"/>
<rect x="226.07" y="362.87" width="1.88" height="19.67" fill="#f9d3c5"/>
<rect x="226.07" y="382.23" width="1.88" height="19.37" fill="#ef8569"/>
<rect x="227.60" y="215.00" width="1.88" height="9.60" fill="#1e5d96"/>
<rect x="227.60" y="246.67" width="1.88" height="19.67" fill="#f8c7b6"/>
<rect x="227.60" y="266.03" width="1.88" height="19.67" fill="#fadfd5"/>
<rect x="227.60" y="285.40" width="1.88" height="19.67" fill="#f18d71"/>
<rect x="227.60" y="304.77" width="1.88" height="19.67" fill="#f7bda9"/>
<rect x="227.60" y="324.13" width="1.88" height="19.67" fill="#fadcd1"/>
<rect x="227.60" y="343.50" width="1.88" height="19.67" fill="#f8cdbd"/>
<rect x="227.60" y="362.87" width="1.88" height="19.67" fill="#f9cfc0"/>
<rect x="227.60" y="382.23" width="1.88" height="19.37" fill="#f19075"/>
<rect x="229.13" y="215.00" width="1.88" height="9.60" fill="#1e5d96"/>
<rect x="229.13" y="246.67" width="1.88" height="19.67" fill="#ec7257"/>
<rect x="229.13" y="266.03" width="1.88" height="19.67" fill="#f9d6c8"/>
<rect x="229.13" y="285.40" width="1.88" height="19.67" fill="#f29479"/>
<rect x="229.13" y="304.77" width="1.88" height="19.67" fill="#fadcd0"/>
<rect x="229.13" y="324.13" width="1.88" height="19.67" fill="#f4a78f"/>
<rect x="229.13" y="343.50" width="1.88" height="19.67" fill="#f9cdbd"/>
<rect x="229.13" y="362.87" width="1.88" height="19.67" fill="#f6b19a"/>
<rect x="229.13" y="382.23" width="1.88" height="19.37" fill="#f8ccbc"/>
<rect x="230.66" y="215.00" width="1.88" height="9.60" fill="#3d78ad"/>
<rect x="230.66" y="246.67" width="1.88" height="19.67" fill="#f0896d"/>
<rect x="230.66" y="266.03" width="1.88" height="19.67" fill="#f5ae97"/>
<rect x="230.66" y="285.40" width="1.88" height="19.67" fill="#f6b19a"/>
<rect x="230.66" y="304.77" width="1.88" height="19.67" fill="#f8c6b4"/>
<rect x="230.66" y="324.13" width="1.88" height="19.67" fill="#f6b7a2"/>
<rect x="230.66" y="343.50" width="1.88" height="19.67" fill="#f5a992"/>
<rect x="230.66" y="362.87" width="1.88" height="19.67" fill="#f7beaa"/>
<rect x="230.66" y="382.23" width="1.88" height="19.37" fill="#f39b82"/>
<rect x="232.20" y="215.00" width="1.88" height="9.60" fill="#3d78ad"/>
<rect x="232.20" y="246.67" width="1.88" height="19.67" fill="#f8c6b5"/>
<rect x="232.20" y="266.03" width="1.88" height="19.67" fill="#f7baa5"/>
<rect x="232.20" y="285.40" width="1.88" height="19.67" fill="#f6b8a4"/>
<rect x="232.20" y="304.77" width="1.88" height="19.67" fill="#f9d6c8"/>
<rect x="232.20" y="324.13" width="1.88" height="19.67" fill="#f5b099"/>
<rect x="232.20" y="343.50" width="1.88" height="19.67" fill="#fadcd1"/>
<rect x="232.20" y="362.87" width="1.88" height="19.67" fill="#d3c5e7"/>
<rect x="232.20" y="382.23" width="1.88" height="19.37" fill="#f6b6a0"/>
<rect x="233.73" y="215.00" width="1.88" height="9.60" fill="#9ab8d6"/>
<rect x="233.73" y="246.67" width="1.88" height="19.67" fill="#f9cebf"/>
<rect x="233.73" y="266.03" width="1.88" height="19.67" fill="#f39e85"/>
<rect x="233.73" y="285.40" width="1.88" height="19.67" fill="#f7beab"/>
<rect x="233.73" y="304.77" width="1.88" height="19.67" fill="#f5eef5"/>
<rect x="233.73" y="324.13" width="1.88" height="19.67" fill="#f8c8b7"/>
<rect x="233.73" y="343.50" width="1.88" height="19.67" fill="#f9eceb"/>
<rect x="233.73" y="362.87" width="1.88" height="19.67" fill="#f9e9e7"/>
<rect x="233.73" y="382.23" width="1.88" height="19.37" fill="#f8c4b1"/>
<rect x="235.26" y="215.00" width="1.88" height="9.60" fill="#3d78ad"/>
<rect x="235.26" y="246.67" width="1.88" height="19.67" fill="#f6b8a3"/>
<rect x="235.26" y="266.03" width="1.88" height="19.67" fill="#f8eef0"/>
<rect x="235.26" y="285.40" width="1.88" height="19.67" fill="#f6b59f"/>
<rect x="235.26" y="304.77" width="1.88" height="19.67" fill="#faddd2"/>
<rect x="235.26" y="324.13" width="1.88" height="19.67" fill="#f2987e"/>
<rect x="235.26" y="343.50" width="1.88" height="19.67" fill="#f5af98"/>
<rect x="235.26" y="362.87" width="1.88" height="19.67" fill="#fae0d7"/>
<rect x="235.26" y="382.23" width="1.88" height="19.37" fill="#eb6c51"/>
<rect x="236.79" y="215.00" width="1.88" height="9.60" fill="#3d78ad"/>
<rect x="236.79" y="246.67" width="1.88" height="19.67" fill="#f8ccbc"/>
<rect x="236.79" y="266.03" width="1.88" height="19.67" fill="#9f89cc"/>
<rect x="236.79" y="285.40" width="1.88" height="19.67" fill="#f9d4c6"/>
<rect x="236.79" y="304.77" width="1.88" height="19.67" fill="#faddd1"/>
<rect x="236.79" y="324.13" width="1.88" height="19.67" fill="#f8cbbb"/>
<rect x="236.79" y="343.50" width="1.88" height="19.67" fill="#f7bda9"/>
<rect x="236.79" y="362.87" width="1.88" height="19.67" fill="#f9d6c9"/>
<rect x="236.79" y="382.23" width="1.88" height="19.37" fill="#f9d6c8"/>
<rect x="238.33" y="215.00" width="1.88" height="9.60" fill="#1e5d96"/>
<rect x="238.33" y="246.67" width="1.88" height="19.67" fill="#f5ab94"/>
<rect x="238.33" y="266.03" width="1.88" height="19.67" fill="#dcd0eb"/>
<rect x="238.33" y="285.40" width="1.88" height="19.67" fill="#f9e4dd"/>
<rect x="238.33" y="304.77" width="1.88" height="19.67" fill="#c4b3e0"/>
<rect x="238.33" y="324.13" width="1.88" height="19.67" fill="#fae0d8"/>
<rect x="238.33" y="343.50" width="1.88" height="19.67" fill="#fadcd1"/>
<rect x="238.33" y="362.87" width="1.88" height="19.67" fill="#f9e3dc"/>
<rect x="238.33" y="382.23" width="1.88" height="19.37" fill="#eb6e53"/>
<rect x="239.86" y="215.00" width="1.88" height="9.60" fill="#1e5d96"/>
<rect x="239.86" y="246.67" width="1.88" height="19.67" fill="#ec7357"/>
<rect x="239.86" y="266.03" width="1.88" height="19.67" fill="#f6b19b"/>
<rect x="239.86" y="285.40" width="1.88" height="19.67" fill="#f9e8e6"/>
<rect x="239.86" y="304.77" width="1.88" height="19.67" fill="#f9d2c3"/>
<rect x="239.86" y="324.13" width="1.88" height="19.67" fill="#faddd1"/>
<rect x="239.86" y="343.50" width="1.88" height="19.67" fill="#fad8cb"/>
<rect x="239.86" y="362.87" width="1.88" height="19.67" fill="#f9e6e1"/>
<rect x="239.86" y="382.23" width="1.88" height="19.37" fill="#f9d2c3"/>
<rect x="241.39" y="215.00" width="1.88" height="9.60" fill="#1e5d96"/>
<rect x="241.39" y="246.67" width="1.88" height="19.67" fill="#f7bda9"/>
<rect x="241.39" y="266.03" width="1.88" height="19.67" fill="#f4a58d"/>
<rect x="241.39" y="285.40" width="1.88" height="19.67" fill="#f8c3b1"/>
<rect x="241.39" y="304.77" width="1.88" height="19.67" fill="#f7bba7"/>
<rect x="241.39" y="324.13" width="1.88" height="19.67" fill="#fae0d8"/>
<rect x="241.39" y="343.50" width="1.88" height="19.67" fill="#f9d7ca"/>
<rect x="241.39" y="362.87" width="1.88" height="19.67" fill="#ed795d"/>
<rect x="241.39" y="382.23" width="1.88" height="19.37" fill="#f8f1f5"/>
<rect x="242.93" y="215.00" width="1.88" height="9.60" fill="#c7203c"/>
<rect x="242.93" y="246.67" width="1.88" height="19.67" fill="#f8f1f4"/>
<rect x="242.93" y="266.03" width="1.88" height="19.67" fill="#f8cbbb"/>
<rect x="242.93" y="285.40" width="1.88" height="19.67" fill="#f9ebe9"/>
<rect x="242.93" y="304.77" width="1.88" height="19.67" fill="#f4edf4"/>
<rect x="242.93" y="324.13" width="1.88" height="19.67" fill="#d7c9e9"/>
<rect x="242.93" y="343.50" width="1.88" height="19.67" fill="#f8eeef"/>
<rect x="242.93" y="362.87" width="1.88" height="19.67" fill="#e8def0"/>
<rect x="242.93" y="382.23" width="1.88" height="19.37" fill="#f5ae97"/>
<rect x="244.46" y="215.00" width="1.88" height="9.60" fill="#dc6078"/>
<rect x="244.46" y="246.67" width="1.88" height="19.67" fill="#f5aa93"/>
<rect x="244.46" y="266.03" width="1.88" height="19.67" fill="#b39fd7"/>
<rect x="244.46" y="285.40" width="1.88" height="19.67" fill="#c9b9e2"/>
<rect x="244.46" y="304.77" width="1.88" height="19.67" fill="#eee5f2"/>
<rect x="244.46" y="324.13" width="1.88" height="19.67" fill="#f8c5b3"/>
<rect x="244.46" y="343.50" width="1.88" height="19.67" fill="#f6b6a0"/>
<rect x="244.46" y="362.87" width="1.88" height="19.67" fill="#f8c8b7"/>
<rect x="244.46" y="382.23" width="1.88" height="19.37" fill="#f4a58e"/>
<rect x="245.99" y="215.00" width="1.88" height="9.60" fill="#c7203c"/>
<rect x="245.99" y="246.67" width="1.88" height="19.67" fill="#f7bca9"/>
<rect x="245.99" y="266.03" width="1.88" height="19.67" fill="#9a83c9"/>
<rect x="245.99" y="285.40" width="1.88" height="19.67" fill="#fad9cc"/>
<rect x="245.99" y="304.77" width="1.88" height="19.67" fill="#f9cdbd"/>
<rect x="245.99" y="324.13" width="1.88" height="19.67" fill="#faded4"/>
<rect x="245.99" y="343.50" width="1.88" height="19.67" fill="#f7c2b0"/>
<rect x="245.99" y="362.87" width="1.88" height="19.67" fill="#f9ebea"/>
<rect x="245.99" y="382.23" width="1.88" height="19.37" fill="#f9d6c8"/>
<rect x="247.52" y="215.00" width="1.88" height="9.60" fill="#dc6078"/>
<rect x="247.52" y="246.67" width="1.88" height="19.67" fill="#f5ab94"/>
<rect x="247.52" y="266.03" width="1.88" height="19.67" fill="#ebe2f1"/>
<rect x="247.52" y="285.40" width="1.88" height="19.67" fill="#f8c6b5"/>
<rect x="247.52" y="304.77" width="1.88" height="19.67" fill="#faded4"/>
<rect x="247.52" y="324.13" width="1.88" height="19.67" fill="#f8f1f4"/>
<rect x="247.52" y="343.50" width="1.88" height="19.67" fill="#f9d6c8"/>
<rect x="247.52" y="362.87" width="1.88" height="19.67" fill="#f9e8e5"/>
<rect x="247.52" y="382.23" width="1.88" height="19.37" fill="#f6b7a2"/>
<rect x="249.06" y="215.00" width="1.88" height="9.60" fill="#dc6078"/>
<rect x="249.06" y="246.67" width="1.88" height="19.67" fill="#8b74c2"/>
<rect x="249.06" y="266.03" width="1.88" height="19.67" fill="#fadfd4"/>
<rect x="249.06" y="285.40" width="1.88" height="19.67" fill="#f4a48c"/>
<rect x="249.06" y="304.77" width="1.88" height="19.67" fill="#fadace"/>
<rect x="249.06" y="324.13" width="1.88" height="19.67" fill="#f39e85"/>
<rect x="249.06" y="343.50" width="1.88" height="19.67" fill="#f4a790"/>
<rect x="249.06" y="362.87" width="1.88" height="19.67" fill="#f19378"/>
<rect x="249.06" y="382.23" width="1.88" height="19.37" fill="#f2977d"/>
<rect x="250.59" y="215.00" width="1.88" height="9.60" fill="#dc6078"/>
<rect x="250.59" y="246.67" width="1.88" height="19.67" fill="#8068bc"/>
<rect x="250.59" y="266.03" width="1.88" height="19.67" fill="#ebe3f1"/>
<rect x="250.59" y="285.40" width="1.88" height="19.67" fill="#f8c8b7"/>
<rect x="250.59" y="304.77" width="1.88" height="19.67" fill="#ebe2f1"/>
<rect x="250.59" y="324.13" width="1.88" height="19.67" fill="#fadbcf"/>
<rect x="250.59" y="343.50" width="1.88" height="19.67" fill="#f8ccbc"/>
<rect x="250.59" y="362.87" width="1.88" height="19.67" fill="#f9ecec"/>
<rect x="250.59" y="382.23" width="1.88" height="19.37" fill="#eae1f0"/>
<rect x="252.12" y="215.00" width="1.88" height="9.60" fill="#dc6078"/>
<rect x="252.12" y="246.67" width="1.88" height="19.67" fill="#927bc5"/>
<rect x="252.12" y="266.03" width="1.88" height="19.67" fill="#f8c6b4"/>
<rect x="252.12" y="285.40" width="1.88" height="19.67" fill="#f5af99"/>
<rect x="252.12" y="304.77" width="1.88" height="19.67" fill="#f9d1c2"/>
<rect x="252.12" y="324.13" width="1.88" height="19.67" fill="#f7f1f6"/>
<rect x="252.12" y="343.50" width="1.88" height="19.67" fill="#f8c4b2"/>
<rect x="252.12" y="362.87" width="1.88" height="19.67" fill="#f5ac95"/>
<rect x="252.12" y="382.23" width="1.88" height="19.37" fill="#f5b099"/>
<rect x="253.65" y="215.00" width="1.88" height="9.60" fill="#c7203c"/>
<rect x="253.65" y="246.67" width="1.88" height="19.67" fill="#967fc8"/>
<rect x="253.65" y="266.03" width="1.88" height="19.67" fill="#f2957a"/>
<rect x="253.65" y="285.40" width="1.88" height="19.67" fill="#f6b29b"/>
<rect x="253.65" y="304.77" width="1.88" height="19.67" fill="#f7c0ac"/>
<rect x="253.65" y="324.13" width="1.88" height="19.67" fill="#fadacd"/>
<rect x="253.65" y="343.50" width="1.88" height="19.67" fill="#f6b7a1"/>
<rect x="253.65" y="362.87" width="1.88" height="19.67" fill="#f8c6b5"/>
<rect x="253.65" y="382.23" width="1.88" height="19.37" fill="#f6b9a4"/>
<rect x="255.19" y="215.00" width="1.88" height="9.60" fill="#1e5d96"/>
<rect x="255.19" y="246.67" width="1.88" height="19.67" fill="#9780c8"/>
<rect x="255.19" y="266.03" width="1.88" height="19.67" fill="#f8cbbb"/>
<rect x="255.19" y="285.40" width="1.88" height="19.67" fill="#fadace"/>
<rect x="255.19" y="304.77" width="1.88" height="19.67" fill="#f9e5df"/>
<rect x="255.19" y="324.13" width="1.88" height="19.67" fill="#d1c3e7"/>
<rect x="255.19" y="343.50" width="1.88" height="19.67" fill="#f7c2af"/>
<rect x="255.19" y="362.87" width="1.88" height="19.67" fill="#fae0d7"/>
<rect x="255.19" y="382.23" width="1.88" height="19.37" fill="#f4a38a"/>
<rect x="256.72" y="215.00" width="1.88" height="9.60" fill="#1e5d96"/>
<rect x="256.72" y="246.67" width="1.88" height="19.67" fill="#7259b3"/>
<rect x="256.72" y="266.03" width="1.88" height="19.67" fill="#f9cebf"/>
<rect x="256.72" y="285.40" width="1.88" height="19.67" fill="#f5ae97"/>
<rect x="256.72" y="304.77" width="1.88" height="19.67" fill="#f9d6c9"/>
<rect x="256.72" y="324.13" width="1.88" height="19.67" fill="#f9e6e1"/>
<rect x="256.72" y="343.50" width="1.88" height="19.67" fill="#e5dbef"/>
<rect x="256.72" y="362.87" width="1.88" height="19.67" fill="#dfd4ec"/>
<rect x="256.72" y="382.23" width="1.88" height="19.37" fill="#f9e5df"/>
<rect x="258.25" y="215.00" width="1.88" height="9.60" fill="#c7203c"/>
<rect x="258.25" y="246.67" width="1.88" height="19.67" fill="#6448a9"/>
<rect x="258.25" y="266.03" width="1.88" height="19.67" fill="#fad7ca"/>
<rect x="258.25" y="285.40" width="1.88" height="19.67" fill="#f9d4c7"/>
<rect x="258.25" y="304.77" width="1.88" height="19.67" fill="#f9d6c9"/>
<rect x="258.25" y="324.13" width="1.88" height="19.67" fill="#f9d4c6"/>
<rect x="258.25" y="343.50" width="1.88" height="19.67" fill="#f8c5b3"/>
<rect x="258.25" y="362.87" width="1.88" height="19.67" fill="#fadacd"/>
<rect x="258.25" y="382.23" width="1.88" height="19.37" fill="#f7c0ad"/>
<rect x="259.78" y="215.00" width="1.88" height="9.60" fill="#c7203c"/>
<rect x="259.78" y="246.67" width="1.88" height="19.67" fill="#4b2c96"/>
<rect x="259.78" y="266.03" width="1.88" height="19.67" fill="#f9d1c3"/>
<rect x="259.78" y="285.40" width="1.88" height="19.67" fill="#f9e8e5"/>
<rect x="259.78" y="304.77" width="1.88" height="19.67" fill="#b09bd5"/>
<rect x="259.78" y="324.13" width="1.88" height="19.67" fill="#f9d2c3"/>
<rect x="259.78" y="343.50" width="1.88" height="19.67" fill="#f7c3b0"/>
<rect x="259.78" y="362.87" width="1.88" height="19.67" fill="#f5ab94"/>
<rect x="259.78" y="382.23" width="1.88" height="19.37" fill="#f6b29c"/>
<rect x="261.32" y="215.00" width="1.88" height="9.60" fill="#c7203c"/>
<rect x="261.32" y="246.67" width="1.88" height="19.67" fill="#9c85ca"/>
<rect x="261.32" y="266.03" width="1.88" height="19.67" fill="#f9d0c1"/>
<rect x="261.32" y="285.40" width="1.88" height="19.67" fill="#f4edf4"/>
<rect x="261.32" y="304.77" width="1.88" height="19.67" fill="#f4a58d"/>
<rect x="261.32" y="324.13" width="1.88" height="19.67" fill="#f9d5c8"/>
<rect x="261.32" y="343.50" width="1.88" height="19.67" fill="#f9e6e0"/>
<rect x="261.32" y="362.87" width="1.88" height="19.67" fill="#fadcd0"/>
<rect x="261.32" y="382.23" width="1.88" height="19.37" fill="#f5ae97"/>
<rect x="262.85" y="215.00" width="1.88" height="9.60" fill="#1e5d96"/>
<rect x="262.85" y="246.67" width="1.88" height="19.67" fill="#7c64ba"/>
<rect x="262.85" y="266.03" width="1.88" height="19.67" fill="#927bc6"/>
<rect x="262.85" y="285.40" width="1.88" height="19.67" fill="#f6b9a4"/>
<rect x="262.85" y="304.77" width="1.88" height="19.67" fill="#f9eae8"/>
<rect x="262.85" y="324.13" width="1.88" height="19.67" fill="#f9e6e2"/>
<rect x="262.85" y="343.50" width="1.88" height="19.67" fill="#fad9cc"/>
<rect x="262.85" y="362.87" width="1.88" height="19.67" fill="#f8c8b7"/>
<rect x="262.85" y="382.23" width="1.88" height="19.37" fill="#fae1d9"/>
<rect x="264.38" y="215.00" width="1.88" height="9.60" fill="#dc6078"/>
<rect x="264.38" y="246.67" width="1.88" height="19.67" fill="#7f67bc"/>
<rect x="264.38" y="266.03" width="1.88" height="19.67" fill="#fadfd6"/>
<rect x="264.38" y="285.40" width="1.88" height="19.67" fill="#f6b9a4"/>
<rect x="264.38" y="304.77" width="1.88" height="19.67" fill="#fadfd5"/>
<rect x="264.38" y="324.13" width="1.88" height="19.67" fill="#fadbcf"/>
<rect x="264.38" y="343.50" width="1.88" height="19.67" fill="#fadbcf"/>
<rect x="264.38" y="362.87" width="1.88" height="19.67" fill="#fae0d7"/>
<rect x="264.38" y="382.23" width="1.88" height="19.37" fill="#f3a087"/>
<rect x="265.92" y="215.00" width="1.88" height="9.60" fill="#c7203c"/>
<rect x="265.92" y="246.67" width="1.88" height="19.67" fill="#9d86cb"/>
<rect x="265.92" y="266.03" width="1.88" height="19.67" fill="#f2967c"/>
<rect x="265.92" y="285.40" width="1.88" height="19.67" fill="#f7c0ae"/>
<rect x="265.92" y="304.77" width="1.88" height="19.67" fill="#fae0d7"/>
<rect x="265.92" y="324.13" width="1.88" height="19.67" fill="#f6b7a1"/>
<rect x="265.92" y="343.50" width="1.88" height="19.67" fill="#f5b09a"/>
<rect x="265.92" y="362.87" width="1.88" height="19.67" fill="#f8c7b6"/>
<rect x="265.92" y="382.23" width="1.88" height="19.37" fill="#f9d0c1"/>
<rect x="267.45" y="215.00" width="1.88" height="9.60" fill="#c7203c"/>
<rect x="267.45" y="246.67" width="1.88" height="19.67" fill="#927bc6"/>
<rect x="267.45" y="266.03" width="1.88" height="19.67" fill="#f7bfac"/>
<rect x="267.45" y="285.40" width="1.88" height="19.67" fill="#f7bda9"/>
<rect x="267.45" y="304.77" width="1.88" height="19.67" fill="#f8ccbb"/>
<rect x="267.45" y="324.13" width="1.88" height="19.67" fill="#f2967c"/>
<rect x="267.45" y="343.50" width="1.88" height="19.67" fill="#f8c7b6"/>
<rect x="267.45" y="362.87" width="1.88" height="19.67" fill="#f0e8f3"/>
<rect x="267.45" y="382.23" width="1.88" height="19.37" fill="#f9d0c0"/>
<rect x="268.98" y="215.00" width="1.88" height="9.60" fill="#1e5d96"/>
<rect x="268.98" y="246.67" width="1.88" height="19.67" fill="#9e88cc"/>
<rect x="268.98" y="266.03" width="1.88" height="19.67" fill="#ede5f2"/>
<rect x="268.98" y="285.40" width="1.88" height="19.67" fill="#faddd2"/>
<rect x="268.98" y="304.77" width="1.88" height="19.67" fill="#cabbe3"/>
<rect x="268.98" y="324.13" width="1.88" height="19.67" fill="#f19176"/>
<rect x="268.98" y="343.50" width="1.88" height="19.67" fill="#f9e5df"/>
<rect x="268.98" y="362.87" width="1.88" height="19.67" fill="#f9d1c2"/>
<rect x="268.98" y="382.23" width="1.88" height="19.37" fill="#f19277"/>
<rect x="270.51" y="215.00" width="1.88" height="9.60" fill="#c7203c"/>
<rect x="270.51" y="246.67" width="1.88" height="19.67" fill="#a18bce"/>
<rect x="270.51" y="266.03" width="1.88" height="19.67" fill="#f9e9e7"/>
<rect x="270.51" y="285.40" width="1.88" height="19.67" fill="#f9e2da"/>
<rect x="270.51" y="304.77" width="1.88" height="19.67" fill="#f8c5b3"/>
<rect x="270.51" y="324.13" width="1.88" height="19.67" fill="#fadfd6"/>
<rect x="270.51" y="343.50" width="1.88" height="19.67" fill="#f9cebe"/>
<rect x="270.51" y="362.87" width="1.88" height="19.67" fill="#f5eef5"/>
<rect x="270.51" y="382.23" width="1.88" height="19.37" fill="#f6b49e"/>
<rect x="272.05" y="215.00" width="1.88" height="9.60" fill="#c7203c"/>
<rect x="272.05" y="246.67" width="1.88" height="19.67" fill="#a48dcf"/>
<rect x="272.05" y="266.03" width="1.88" height="19.67" fill="#faded4"/>
<rect x="272.05" y="285.40" width="1.88" height="19.67" fill="#fadbcf"/>
<rect x="272.05" y="304.77" width="1.88" height="19.67" fill="#fadcd0"/>
<rect x="272.05" y="324.13" width="1.88" height="19.67" fill="#ede5f2"/>
<rect x="272.05" y="343.50" width="1.88" height="19.67" fill="#f9e9e6"/>
<rect x="272.05" y="362.87" width="1.88" height="19.67" fill="#e8dff0"/>
<rect x="272.05" y="382.23" width="1.88" height="19.37" fill="#f9d5c7"/>
<rect x="273.58" y="215.00" width="1.88" height="9.60" fill="#c7203c"/>
<rect x="273.58" y="246.67" width="1.88" height="19.67" fill="#a48ecf"/>
<rect x="273.58" y="266.03" width="1.88" height="19.67" fill="#f9e6e2"/>
<rect x="273.58" y="285.40" width="1.88" height="19.67" fill="#f5ad96"/>
<rect x="273.58" y="304.77" width="1.88" height="19.67" fill="#faddd2"/>
<rect x="273.58" y="324.13" width="1.88" height="19.67" fill="#f6f0f5"/>
<rect x="273.58" y="343.50" width="1.88" height="19.67" fill="#f9e8e4"/>
<rect x="273.58" y="362.87" width="1.88" height="19.67" fill="#f9e3dd"/>
<rect x="273.58" y="382.23" width="1.88" height="19.37" fill="#f5b09a"/>
<rect x="275.11" y="215.00" width="1.88" height="9.60" fill="#c7203c"/>
<rect x="275.11" y="246.67" width="1.88" height="19.67" fill="#735ab4"/>
<rect x="275.11" y="266.03" width="1.88" height="19.67" fill="#ded2ec"/>
<rect x="275.11" y="285.40" width="1.88" height="19.67" fill="#fadfd6"/>
<rect x="275.11" y="304.77" width="1.88" height="19.67" fill="#e1d6ed"/>
<rect x="275.11" y="324.13" width="1.88" height="19.67" fill="#ded2ec"/>
<rect x="275.11" y="343.50" width="1.88" height="19.67" fill="#fadbce"/>
<rect x="275.11" y="362.87" width="1.88" height="19.67" fill="#f7c1ae"/>
<rect x="275.11" y="382.23" width="1.88" height="19.37" fill="#fad9cc"/>
<rect x="276.64" y="215.00" width="1.88" height="9.60" fill="#dc6078"/>
<rect x="276.64" y="246.67" width="1.88" height="19.67" fill="#8c74c2"/>
<rect x="276.64" y="266.03" width="1.88" height="19.67" fill="#f8f2f5"/>
<rect x="276.64" y="285.40" width="1.88" height="19.67" fill="#f8cbbb"/>
<rect x="276.64" y="304.77" width="1.88" height="19.67" fill="#f5ab94"/>
<rect x="276.64" y="324.13" width="1.88" height="19.67" fill="#f7c1ae"/>
<rect x="276.64" y="343.50" width="1.88" height="19.67" fill="#f08b6f"/>
<rect x="276.64" y="362.87" width="1.88" height="19.67" fill="#f39d83"/>
<rect x="276.64" y="382.23" width="1.88" height="19.37" fill="#f7bca8"/>
<rect x="278.18" y="215.00" width="1.88" height="9.60" fill="#1e5d96"/>
<rect x="278.18" y="246.67" width="1.88" height="19.67" fill="#826abd"/>
<rect x="278.18" y="266.03" width="1.88" height="19.67" fill="#f9e3dc"/>
<rect x="278.18" y="285.40" width="1.88" height="19.67" fill="#f8eff1"/>
<rect x="278.18" y="304.77" width="1.88" height="19.67" fill="#ee7d61"/>
<rect x="278.18" y="324.13" width="1.88" height="19.67" fill="#f6b9a4"/>
<rect x="278.18" y="343.50" width="1.88" height="19.67" fill="#f7beaa"/>
<rect x="278.18" y="362.87" width="1.88" height="19.67" fill="#f7bfac"/>
<rect x="278.18" y="382.23" width="1.88" height="19.37" fill="#ee8064"/>
<rect x="279.71" y="215.00" width="1.88" height="9.60" fill="#c7203c"/>
<rect x="279.71" y="246.67" width="1.88" height="19.67" fill="#927bc6"/>
<rect x="279.71" y="266.03" width="1.88" height="19.67" fill="#f7c3b1"/>
<rect x="279.71" y="285.40" width="1.88" height="19.67" fill="#fae1d8"/>
<rect x="279.71" y="304.77" width="1.88" height="19.67" fill="#f8c7b5"/>
<rect x="279.71" y="324.13" width="1.88" height="19.67" fill="#f9e6e2"/>
<rect x="279.71" y="343.50" width="1.88" height="19.67" fill="#f9cfc0"/>
<rect x="279.71" y="362.87" width="1.88" height="19.67" fill="#f8f1f4"/>
<rect x="279.71" y="382.23" width="1.88" height="19.37" fill="#f7c2b0"/>
<rect x="281.24" y="215.00" width="1.88" height="9.60" fill="#1e5d96"/>
<rect x="281.24" y="246.67" width="1.88" height="19.67" fill="#a089cd"/>
<rect x="281.24" y="266.03" width="1.88" height="19.67" fill="#e1d6ed"/>
<rect x="281.24" y="285.40" width="1.88" height="19.67" fill="#f9d7c9"/>
<rect x="281.24" y="304.77" width="1.88" height="19.67" fill="#c4b3e0"/>
<rect x="281.24" y="324.13" width="1.88" height="19.67" fill="#f8f1f4"/>
<rect x="281.24" y="343.50" width="1.88" height="19.67" fill="#d2c3e7"/>
<rect x="281.24" y="362.87" width="1.88" height="19.67" fill="#f8ccbd"/>
<rect x="281.24" y="382.23" width="1.88" height="19.37" fill="#f9d7c9"/>
<rect x="282.77" y="215.00" width="1.88" height="9.60" fill="#dc6078"/>
<rect x="282.77" y="246.67" width="1.88" height="19.67" fill="#765db5"/>
<rect x="282.77" y="266.03" width="1.88" height="19.67" fill="#f9e7e4"/>
<rect x="282.77" y="285.40" width="1.88" height="19.67" fill="#fad8cb"/>
<rect x="282.77" y="304.77" width="1.88" height="19.67" fill="#c0aede"/>
<rect x="282.77" y="324.13" width="1.88" height="19.67" fill="#fadfd5"/>
<rect x="282.77" y="343.50" width="1.88" height="19.67" fill="#f9cebe"/>
<rect x="282.77" y="362.87" width="1.88" height="19.67" fill="#f9e8e4"/>
<rect x="282.77" y="382.23" width="1.88" height="19.37" fill="#f7bda9"/>
<rect x="284.31" y="215.00" width="1.88" height="9.60" fill="#c7203c"/>
<rect x="284.31" y="246.67" width="1.88" height="19.67" fill="#a28bce"/>
<rect x="284.31" y="266.03" width="1.88" height="19.67" fill="#fadfd6"/>
<rect x="284.31" y="285.40" width="1.88" height="19.67" fill="#f8c7b5"/>
<rect x="284.31" y="304.77" width="1.88" height="19.67" fill="#f9eae8"/>
<rect x="284.31" y="324.13" width="1.88" height="19.67" fill="#ece4f2"/>
<rect x="284.31" y="343.50" width="1.88" height="19.67" fill="#f7c1af"/>
<rect x="284.31" y="362.87" width="1.88" height="19.67" fill="#fadfd5"/>
<rect x="284.31" y="382.23" width="1.88" height="19.37" fill="#f6b6a1"/>
<rect x="285.84" y="215.00" width="1.88" height="9.60" fill="#eab0bc"/>
<rect x="285.84" y="246.67" width="1.88" height="19.67" fill="#957ec7"/>
<rect x="285.84" y="266.03" width="1.88" height="19.67" fill="#f6b7a1"/>
<rect x="285.84" y="285.40" width="1.88" height="19.67" fill="#f7b9a5"/>
<rect x="285.84" y="304.77" width="1.88" height="19.67" fill="#ede4f2"/>
<rect x="285.84" y="324.13" width="1.88" height="19.67" fill="#f9d1c2"/>
<rect x="285.84" y="343.50" width="1.88" height="19.67" fill="#f9e3dc"/>
<rect x="285.84" y="362.87" width="1.88" height="19.67" fill="#f9d2c3"/>
<rect x="285.84" y="382.23" width="1.88" height="19.37" fill="#fad8cb"/>
<rect x="287.37" y="215.00" width="1.88" height="9.60" fill="#c7203c"/>
<rect x="287.37" y="246.67" width="1.88" height="19.67" fill="#a58fd0"/>
<rect x="287.37" y="266.03" width="1.88" height="19.67" fill="#d2c3e7"/>
<rect x="287.37" y="285.40" width="1.88" height="19.67" fill="#f9eae9"/>
<rect x="287.37" y="304.77" width="1.88" height="19.67" fill="#f7beab"/>
<rect x="287.37" y="324.13" width="1.88" height="19.67" fill="#f6eff5"/>
<rect x="287.37" y="343.50" width="1.88" height="19.67" fill="#f8eff1"/>
<rect x="287.37" y="362.87" width="1.88" height="19.67" fill="#f8c7b6"/>
<rect x="287.37" y="382.23" width="1.88" height="19.37" fill="#f8cdbd"/>
<rect x="288.91" y="215.00" width="1.88" height="9.60" fill="#c7203c"/>
<rect x="288.91" y="246.67" width="1.88" height="19.67" fill="#9179c5"/>
<rect x="288.91" y="266.03" width="1.88" height="19.67" fill="#f9e9e6"/>
<rect x="288.91" y="285.40" width="1.88" height="19.67" fill="#e4daee"/>
<rect x="288.91" y="304.77" width="1.88" height="19.67" fill="#d3c5e8"/>
<rect x="288.91" y="324.13" width="1.88" height="19.67" fill="#f7c1af"/>
<rect x="288.91" y="343.50" width="1.88" height="19.67" fill="#fadace"/>
<rect x="288.91" y="362.87" width="1.88" height="19.67" fill="#fae0d8"/>
<rect x="288.91" y="382.23" width="1.88" height="19.37" fill="#f9e2db"/>
<rect x="290.44" y="215.00" width="1.88" height="9.60" fill="#dc6078"/>
<rect x="290.44" y="246.67" width="1.88" height="19.67" fill="#856ebf"/>
<rect x="290.44" y="266.03" width="1.88" height="19.67" fill="#ded3ec"/>
<rect x="290.44" y="285.40" width="1.88" height="19.67" fill="#fae1d9"/>
<rect x="290.44" y="304.77" width="1.88" height="19.67" fill="#d7c9e9"/>
<rect x="290.44" y="324.13" width="1.88" height="19.67" fill="#f9cfc0"/>
<rect x="290.44" y="343.50" width="1.88" height="19.67" fill="#f9e2da"/>
<rect x="290.44" y="362.87" width="1.88" height="19.67" fill="#f8f0f3"/>
<rect x="290.44" y="382.23" width="1.88" height="19.37" fill="#a38dce"/>
<rect x="291.97" y="215.00" width="1.88" height="9.60" fill="#c7203c"/>
<rect x="291.97" y="246.67" width="1.88" height="19.67" fill="#755cb5"/>
<rect x="291.97" y="266.03" width="1.88" height="19.67" fill="#f6f0f5"/>
<rect x="291.97" y="285.40" width="1.88" height="19.67" fill="#fadbce"/>
<rect x="291.97" y="304.77" width="1.88" height="19.67" fill="#f8c8b7"/>
<rect x="291.97" y="324.13" width="1.88" height="19.67" fill="#f7bba7"/>
<rect x="291.97" y="343.50" width="1.88" height="19.67" fill="#e9e0f0"/>
<rect x="291.97" y="362.87" width="1.88" height="19.67" fill="#fad8cb"/>
<rect x="291.97" y="382.23" width="1.88" height="19.37" fill="#f39c83"/>
<rect x="293.50" y="215.00" width="1.88" height="9.60" fill="#dc6078"/>
<rect x="293.50" y="246.67" width="1.88" height="19.67" fill="#775eb6"/>
<rect x="293.50" y="266.03" width="1.88" height="19.67" fill="#f7bfab"/>
<rect x="293.50" y="285.40" width="1.88" height="19.67" fill="#f8f1f3"/>
<rect x="293.50" y="304.77" width="1.88" height="19.67" fill="#f9ebea"/>
<rect x="293.50" y="324.13" width="1.88" height="19.67" fill="#f7bda9"/>
<rect x="293.50" y="343.50" width="1.88" height="19.67" fill="#f7c2af"/>
<rect x="293.50" y="362.87" width="1.88" height="19.67" fill="#f08a6e"/>
<rect x="293.50" y="382.23" width="1.88" height="19.37" fill="#f0856a"/>
<rect x="295.04" y="215.00" width="1.88" height="9.60" fill="#c7203c"/>
<rect x="295.04" y="246.67" width="1.88" height="19.67" fill="#8a73c2"/>
<rect x="295.04" y="266.03" width="1.88" height="19.67" fill="#f9eae8"/>
<rect x="295.04" y="285.40" width="1.88" height="19.67" fill="#faddd1"/>
<rect x="295.04" y="304.77" width="1.88" height="19.67" fill="#f8eded"/>
<rect x="295.04" y="324.13" width="1.88" height="19.67" fill="#f9e6e2"/>
<rect x="295.04" y="343.50" width="1.88" height="19.67" fill="#f9e6e1"/>
<rect x="295.04" y="362.87" width="1.88" height="19.67" fill="#f9d1c2"/>
<rect x="295.04" y="382.23" width="1.88" height="19.37" fill="#f39d83"/>
<rect x="296.57" y="215.00" width="1.88" height="9.60" fill="#c7203c"/>
<rect x="296.57" y="246.67" width="1.88" height="19.67" fill="#cfc0e5"/>
<rect x="296.57" y="266.03" width="1.88" height="19.67" fill="#f8cbba"/>
<rect x="296.57" y="285.40" width="1.88" height="19.67" fill="#f8cbba"/>
<rect x="296.57" y="304.77" width="1.88" height="19.67" fill="#f9d1c2"/>
<rect x="296.57" y="324.13" width="1.88" height="19.67" fill="#f7beab"/>
<rect x="296.57" y="343.50" width="1.88" height="19.67" fill="#f6b6a0"/>
<rect x="296.57" y="362.87" width="1.88" height="19.67" fill="#f6b7a2"/>
<rect x="296.57" y="382.23" width="1.88" height="19.37" fill="#f7beaa"/>
<rect x="298.10" y="215.00" width="1.88" height="9.60" fill="#eab0bc"/>
<rect x="298.10" y="246.67" width="1.88" height="19.67" fill="#9079c5"/>
<rect x="298.10" y="266.03" width="1.88" height="19.67" fill="#c4b3e0"/>
<rect x="298.10" y="285.40" width="1.88" height="19.67" fill="#f5ae98"/>
<rect x="298.10" y="304.77" width="1.88" height="19.67" fill="#fadfd6"/>
<rect x="298.10" y="324.13" width="1.88" height="19.67" fill="#f8f1f5"/>
<rect x="298.10" y="343.50" width="1.88" height="19.67" fill="#f1eaf3"/>
<rect x="298.10" y="362.87" width="1.88" height="19.67" fill="#f9e8e5"/>
<rect x="298.10" y="382.23" width="1.88" height="19.37" fill="#ed7a5f"/>
<rect x="299.63" y="215.00" width="1.88" height="9.60" fill="#eab0bc"/>
<rect x="299.63" y="246.67" width="1.88" height="19.67" fill="#b9a6da"/>
<rect x="299.63" y="266.03" width="1.88" height="19.67" fill="#daceea"/>
<rect x="299.63" y="285.40" width="1.88" height="19.67" fill="#f6b39d"/>
<rect x="299.63" y="304.77" width="1.88" height="19.67" fill="#f8c3b1"/>
<rect x="299.63" y="324.13" width="1.88" height="19.67" fill="#f6b59f"/>
<rect x="299.63" y="343.50" width="1.88" height="19.67" fill="#f7b9a4"/>
<rect x="299.63" y="362.87" width="1.88" height="19.67" fill="#f3a087"/>
<rect x="299.63" y="382.23" width="1.88" height="19.37" fill="#f39d84"/>
<rect x="301.17" y="215.00" width="1.88" height="9.60" fill="#dc6078"/>
<rect x="301.17" y="246.67" width="1.88" height="19.67" fill="#a18acd"/>
<rect x="301.17" y="266.03" width="1.88" height="19.67" fill="#f8eded"/>
<rect x="301.17" y="285.40" width="1.88" height="19.67" fill="#f8c7b6"/>
<rect x="301.17" y="304.77" width="1.88" height="19.67" fill="#f9e6e1"/>
<rect x="301.17" y="324.13" width="1.88" height="19.67" fill="#dacdea"/>
<rect x="301.17" y="343.50" width="1.88" height="19.67" fill="#fae0d7"/>
<rect x="301.17" y="362.87" width="1.88" height="19.67" fill="#f8c6b5"/>
<rect x="301.17" y="382.23" width="1.88" height="19.37" fill="#f7f1f6"/>
<defs><linearGradient id="gmHG" x1="0" x2="1" y1="0" y2="0"><stop offset="0.000" stop-color="#f4a78f"/><stop offset="0.042" stop-color="#f5ab94"/><stop offset="0.083" stop-color="#f5af98"/><stop offset="0.125" stop-color="#f6b39d"/><stop offset="0.167" stop-color="#f6b8a2"/><stop offset="0.208" stop-color="#f7bca8"/><stop offset="0.250" stop-color="#f8caba"/><stop offset="0.292" stop-color="#faddd1"/><stop offset="0.333" stop-color="#f9eae8"/><stop offset="0.375" stop-color="#ece3f1"/><stop offset="0.417" stop-color="#cbbbe3"/><stop offset="0.458" stop-color="#ad97d3"/><stop offset="0.500" stop-color="#937cc6"/><stop offset="0.542" stop-color="#8b74c2"/><stop offset="0.583" stop-color="#846cbe"/><stop offset="0.625" stop-color="#7c64ba"/><stop offset="0.667" stop-color="#765db6"/><stop offset="0.708" stop-color="#7056b1"/><stop offset="0.750" stop-color="#6a4fad"/><stop offset="0.792" stop-color="#6347a8"/><stop offset="0.833" stop-color="#5c3fa3"/><stop offset="0.875" stop-color="#56389e"/><stop offset="0.917" stop-color="#51329a"/><stop offset="0.958" stop-color="#4c2d97"/><stop offset="1.000" stop-color="#472793"/></linearGradient></defs>
<rect x="223.00" y="227.30" width="79.70" height="19.67" fill="url(#gmHG)"/>
<rect x="305.00" y="203.00" width="67.30" height="9.80" fill="#f3982a"/>
<text x="338.65" y="197.7" font-size="7.85" text-anchor="middle" fill="#2b2b2b">GCB–DLBCL</text>
<rect x="305.00" y="215.00" width="1.88" height="9.60" fill="#1e5d96"/>
<rect x="305.00" y="246.67" width="1.88" height="19.67" fill="#f4a38b"/>
<rect x="305.00" y="266.03" width="1.88" height="19.67" fill="#9982c9"/>
<rect x="305.00" y="285.40" width="1.88" height="19.67" fill="#ea6a4f"/>
<rect x="305.00" y="304.77" width="1.88" height="19.67" fill="#f18d72"/>
<rect x="305.00" y="324.13" width="1.88" height="19.67" fill="#f9ebea"/>
<rect x="305.00" y="343.50" width="1.88" height="19.67" fill="#f5ae98"/>
<rect x="305.00" y="362.87" width="1.88" height="19.67" fill="#f9d7ca"/>
<rect x="305.00" y="382.23" width="1.88" height="19.37" fill="#e7583e"/>
<rect x="306.53" y="215.00" width="1.88" height="9.60" fill="#1e5d96"/>
<rect x="306.53" y="246.67" width="1.88" height="19.67" fill="#f9d1c2"/>
<rect x="306.53" y="266.03" width="1.88" height="19.67" fill="#f8ccbc"/>
<rect x="306.53" y="285.40" width="1.88" height="19.67" fill="#f8eded"/>
<rect x="306.53" y="304.77" width="1.88" height="19.67" fill="#beacdc"/>
<rect x="306.53" y="324.13" width="1.88" height="19.67" fill="#f8f1f5"/>
<rect x="306.53" y="343.50" width="1.88" height="19.67" fill="#f7bda9"/>
<rect x="306.53" y="362.87" width="1.88" height="19.67" fill="#e2d7ee"/>
<rect x="306.53" y="382.23" width="1.88" height="19.37" fill="#f7b9a5"/>
<rect x="308.06" y="215.00" width="1.88" height="9.60" fill="#3d78ad"/>
<rect x="308.06" y="246.67" width="1.88" height="19.67" fill="#f9cebf"/>
<rect x="308.06" y="266.03" width="1.88" height="19.67" fill="#f39f86"/>
<rect x="308.06" y="285.40" width="1.88" height="19.67" fill="#f6b59f"/>
<rect x="308.06" y="304.77" width="1.88" height="19.67" fill="#f2967c"/>
<rect x="308.06" y="324.13" width="1.88" height="19.67" fill="#ebe2f1"/>
<rect x="308.06" y="343.50" width="1.88" height="19.67" fill="#f9eae9"/>
<rect x="308.06" y="362.87" width="1.88" height="19.67" fill="#faded3"/>
<rect x="308.06" y="382.23" width="1.88" height="19.37" fill="#f7bba6"/>
<rect x="309.59" y="215.00" width="1.88" height="9.60" fill="#1e5d96"/>
<rect x="309.59" y="246.67" width="1.88" height="19.67" fill="#f39a81"/>
<rect x="309.59" y="266.03" width="1.88" height="19.67" fill="#f9e3dc"/>
<rect x="309.59" y="285.40" width="1.88" height="19.67" fill="#f9e5df"/>
<rect x="309.59" y="304.77" width="1.88" height="19.67" fill="#f9d1c3"/>
<rect x="309.59" y="324.13" width="1.88" height="19.67" fill="#baa7da"/>
<rect x="309.59" y="343.50" width="1.88" height="19.67" fill="#f6eff5"/>
<rect x="309.59" y="362.87" width="1.88" height="19.67" fill="#f9d5c7"/>
<rect x="309.59" y="382.23" width="1.88" height="19.37" fill="#ee7c60"/>
<rect x="311.12" y="215.00" width="1.88" height="9.60" fill="#1e5d96"/>
<rect x="311.12" y="246.67" width="1.88" height="19.67" fill="#f2967c"/>
<rect x="311.12" y="266.03" width="1.88" height="19.67" fill="#fadfd4"/>
<rect x="311.12" y="285.40" width="1.88" height="19.67" fill="#f4a68f"/>
<rect x="311.12" y="304.77" width="1.88" height="19.67" fill="#fae1d9"/>
<rect x="311.12" y="324.13" width="1.88" height="19.67" fill="#f5eff5"/>
<rect x="311.12" y="343.50" width="1.88" height="19.67" fill="#f7baa6"/>
<rect x="311.12" y="362.87" width="1.88" height="19.67" fill="#f9d2c3"/>
<rect x="311.12" y="382.23" width="1.88" height="19.37" fill="#f4a991"/>
<rect x="312.65" y="215.00" width="1.88" height="9.60" fill="#1e5d96"/>
<rect x="312.65" y="246.67" width="1.88" height="19.67" fill="#f39f86"/>
<rect x="312.65" y="266.03" width="1.88" height="19.67" fill="#f4a48b"/>
<rect x="312.65" y="285.40" width="1.88" height="19.67" fill="#f39d84"/>
<rect x="312.65" y="304.77" width="1.88" height="19.67" fill="#f8cdbd"/>
<rect x="312.65" y="324.13" width="1.88" height="19.67" fill="#f9d5c7"/>
<rect x="312.65" y="343.50" width="1.88" height="19.67" fill="#f9e6e1"/>
<rect x="312.65" y="362.87" width="1.88" height="19.67" fill="#f9e5df"/>
<rect x="312.65" y="382.23" width="1.88" height="19.37" fill="#f9d2c4"/>
<rect x="314.18" y="215.00" width="1.88" height="9.60" fill="#1e5d96"/>
<rect x="314.18" y="246.67" width="1.88" height="19.67" fill="#f6b9a4"/>
<rect x="314.18" y="266.03" width="1.88" height="19.67" fill="#f9e3db"/>
<rect x="314.18" y="285.40" width="1.88" height="19.67" fill="#f7b9a5"/>
<rect x="314.18" y="304.77" width="1.88" height="19.67" fill="#f8c7b6"/>
<rect x="314.18" y="324.13" width="1.88" height="19.67" fill="#f19277"/>
<rect x="314.18" y="343.50" width="1.88" height="19.67" fill="#f8eeef"/>
<rect x="314.18" y="362.87" width="1.88" height="19.67" fill="#e3d8ee"/>
<rect x="314.18" y="382.23" width="1.88" height="19.37" fill="#f2987f"/>
<rect x="315.71" y="215.00" width="1.88" height="9.60" fill="#1e5d96"/>
<rect x="315.71" y="246.67" width="1.88" height="19.67" fill="#fad9cc"/>
<rect x="315.71" y="266.03" width="1.88" height="19.67" fill="#e6dcef"/>
<rect x="315.71" y="285.40" width="1.88" height="19.67" fill="#f9d5c7"/>
<rect x="315.71" y="304.77" width="1.88" height="19.67" fill="#f9e5df"/>
<rect x="315.71" y="324.13" width="1.88" height="19.67" fill="#f9ebea"/>
<rect x="315.71" y="343.50" width="1.88" height="19.67" fill="#eee6f2"/>
<rect x="315.71" y="362.87" width="1.88" height="19.67" fill="#c0aede"/>
<rect x="315.71" y="382.23" width="1.88" height="19.37" fill="#f8eff2"/>
<rect x="317.24" y="215.00" width="1.88" height="9.60" fill="#9ab8d6"/>
<rect x="317.24" y="246.67" width="1.88" height="19.67" fill="#ee7e62"/>
<rect x="317.24" y="266.03" width="1.88" height="19.67" fill="#f9d2c4"/>
<rect x="317.24" y="285.40" width="1.88" height="19.67" fill="#f9cfc0"/>
<rect x="317.24" y="304.77" width="1.88" height="19.67" fill="#f08a6e"/>
<rect x="317.24" y="324.13" width="1.88" height="19.67" fill="#f2987e"/>
<rect x="317.24" y="343.50" width="1.88" height="19.67" fill="#f9d4c5"/>
<rect x="317.24" y="362.87" width="1.88" height="19.67" fill="#f8c3b1"/>
<rect x="317.24" y="382.23" width="1.88" height="19.37" fill="#f9cfc0"/>
<rect x="318.77" y="215.00" width="1.88" height="9.60" fill="#9ab8d6"/>
<rect x="318.77" y="246.67" width="1.88" height="19.67" fill="#f4a78f"/>
<rect x="318.77" y="266.03" width="1.88" height="19.67" fill="#cbbbe3"/>
<rect x="318.77" y="285.40" width="1.88" height="19.67" fill="#f08a6f"/>
<rect x="318.77" y="304.77" width="1.88" height="19.67" fill="#e5daee"/>
<rect x="318.77" y="324.13" width="1.88" height="19.67" fill="#f8c9b8"/>
<rect x="318.77" y="343.50" width="1.88" height="19.67" fill="#dacdea"/>
<rect x="318.77" y="362.87" width="1.88" height="19.67" fill="#fae1d8"/>
<rect x="318.77" y="382.23" width="1.88" height="19.37" fill="#fadacd"/>
<rect x="320.30" y="215.00" width="1.88" height="9.60" fill="#3d78ad"/>
<rect x="320.30" y="246.67" width="1.88" height="19.67" fill="#f5ab94"/>
<rect x="320.30" y="266.03" width="1.88" height="19.67" fill="#e1d5ed"/>
<rect x="320.30" y="285.40" width="1.88" height="19.67" fill="#dfd3ec"/>
<rect x="320.30" y="304.77" width="1.88" height="19.67" fill="#f8edee"/>
<rect x="320.30" y="324.13" width="1.88" height="19.67" fill="#f7c3b0"/>
<rect x="320.30" y="343.50" width="1.88" height="19.67" fill="#f7c1af"/>
<rect x="320.30" y="362.87" width="1.88" height="19.67" fill="#f8eef0"/>
<rect x="320.30" y="382.23" width="1.88" height="19.37" fill="#fadcd0"/>
<rect x="321.82" y="215.00" width="1.88" height="9.60" fill="#1e5d96"/>
<rect x="321.82" y="246.67" width="1.88" height="19.67" fill="#f5ae97"/>
<rect x="321.82" y="266.03" width="1.88" height="19.67" fill="#ef8468"/>
<rect x="321.82" y="285.40" width="1.88" height="19.67" fill="#f2947a"/>
<rect x="321.82" y="304.77" width="1.88" height="19.67" fill="#dacdea"/>
<rect x="321.82" y="324.13" width="1.88" height="19.67" fill="#d8cbea"/>
<rect x="321.82" y="343.50" width="1.88" height="19.67" fill="#f9ebea"/>
<rect x="321.82" y="362.87" width="1.88" height="19.67" fill="#f9d6c8"/>
<rect x="321.82" y="382.23" width="1.88" height="19.37" fill="#faded3"/>
<rect x="323.35" y="215.00" width="1.88" height="9.60" fill="#1e5d96"/>
<rect x="323.35" y="246.67" width="1.88" height="19.67" fill="#f9d1c3"/>
<rect x="323.35" y="266.03" width="1.88" height="19.67" fill="#f18c70"/>
<rect x="323.35" y="285.40" width="1.88" height="19.67" fill="#f6b49e"/>
<rect x="323.35" y="304.77" width="1.88" height="19.67" fill="#f9e7e3"/>
<rect x="323.35" y="324.13" width="1.88" height="19.67" fill="#f6b6a1"/>
<rect x="323.35" y="343.50" width="1.88" height="19.67" fill="#f6b59f"/>
<rect x="323.35" y="362.87" width="1.88" height="19.67" fill="#f6b59f"/>
<rect x="323.35" y="382.23" width="1.88" height="19.37" fill="#f8f1f4"/>
<rect x="324.88" y="215.00" width="1.88" height="9.60" fill="#3d78ad"/>
<rect x="324.88" y="246.67" width="1.88" height="19.67" fill="#f0886c"/>
<rect x="324.88" y="266.03" width="1.88" height="19.67" fill="#ea674c"/>
<rect x="324.88" y="285.40" width="1.88" height="19.67" fill="#ea674c"/>
<rect x="324.88" y="304.77" width="1.88" height="19.67" fill="#fadace"/>
<rect x="324.88" y="324.13" width="1.88" height="19.67" fill="#f08a6e"/>
<rect x="324.88" y="343.50" width="1.88" height="19.67" fill="#ed785c"/>
<rect x="324.88" y="362.87" width="1.88" height="19.67" fill="#f5af98"/>
<rect x="324.88" y="382.23" width="1.88" height="19.37" fill="#f19176"/>
<rect x="326.41" y="215.00" width="1.88" height="9.60" fill="#1e5d96"/>
<rect x="326.41" y="246.67" width="1.88" height="19.67" fill="#f7c2af"/>
<rect x="326.41" y="266.03" width="1.88" height="19.67" fill="#f5aa92"/>
<rect x="326.41" y="285.40" width="1.88" height="19.67" fill="#f9d3c5"/>
<rect x="326.41" y="304.77" width="1.88" height="19.67" fill="#efe7f3"/>
<rect x="326.41" y="324.13" width="1.88" height="19.67" fill="#f5aa93"/>
<rect x="326.41" y="343.50" width="1.88" height="19.67" fill="#f7baa6"/>
<rect x="326.41" y="362.87" width="1.88" height="19.67" fill="#e3d8ee"/>
<rect x="326.41" y="382.23" width="1.88" height="19.37" fill="#f9d1c2"/>
<rect x="327.94" y="215.00" width="1.88" height="9.60" fill="#1e5d96"/>
<rect x="327.94" y="246.67" width="1.88" height="19.67" fill="#f5b099"/>
<rect x="327.94" y="266.03" width="1.88" height="19.67" fill="#f5aa93"/>
<rect x="327.94" y="285.40" width="1.88" height="19.67" fill="#eb7055"/>
<rect x="327.94" y="304.77" width="1.88" height="19.67" fill="#f8c4b3"/>
<rect x="327.94" y="324.13" width="1.88" height="19.67" fill="#f6b8a2"/>
<rect x="327.94" y="343.50" width="1.88" height="19.67" fill="#f9e7e2"/>
<rect x="327.94" y="362.87" width="1.88" height="19.67" fill="#fadbcf"/>
<rect x="327.94" y="382.23" width="1.88" height="19.37" fill="#ef8569"/>
<rect x="329.47" y="215.00" width="1.88" height="9.60" fill="#1e5d96"/>
<rect x="329.47" y="246.67" width="1.88" height="19.67" fill="#f6b09a"/>
<rect x="329.47" y="266.03" width="1.88" height="19.67" fill="#dacdea"/>
<rect x="329.47" y="285.40" width="1.88" height="19.67" fill="#f8f1f5"/>
<rect x="329.47" y="304.77" width="1.88" height="19.67" fill="#fadcd0"/>
<rect x="329.47" y="324.13" width="1.88" height="19.67" fill="#f6b59f"/>
<rect x="329.47" y="343.50" width="1.88" height="19.67" fill="#f8eeef"/>
<rect x="329.47" y="362.87" width="1.88" height="19.67" fill="#f1eaf3"/>
<rect x="329.47" y="382.23" width="1.88" height="19.37" fill="#f8f1f4"/>
<rect x="331.00" y="215.00" width="1.88" height="9.60" fill="#1e5d96"/>
<rect x="331.00" y="246.67" width="1.88" height="19.67" fill="#f8c6b5"/>
<rect x="331.00" y="266.03" width="1.88" height="19.67" fill="#f18d72"/>
<rect x="331.00" y="285.40" width="1.88" height="19.67" fill="#fadcd0"/>
<rect x="331.00" y="304.77" width="1.88" height="19.67" fill="#ddd1eb"/>
<rect x="331.00" y="324.13" width="1.88" height="19.67" fill="#f5ae98"/>
<rect x="331.00" y="343.50" width="1.88" height="19.67" fill="#f9ecec"/>
<rect x="331.00" y="362.87" width="1.88" height="19.67" fill="#f9eceb"/>
<rect x="331.00" y="382.23" width="1.88" height="19.37" fill="#ded2ec"/>
<rect x="332.53" y="215.00" width="1.88" height="9.60" fill="#c7203c"/>
<rect x="332.53" y="246.67" width="1.88" height="19.67" fill="#f5ae97"/>
<rect x="332.53" y="266.03" width="1.88" height="19.67" fill="#f2987e"/>
<rect x="332.53" y="285.40" width="1.88" height="19.67" fill="#f19277"/>
<rect x="332.53" y="304.77" width="1.88" height="19.67" fill="#f9d3c5"/>
<rect x="332.53" y="324.13" width="1.88" height="19.67" fill="#f9cebe"/>
<rect x="332.53" y="343.50" width="1.88" height="19.67" fill="#efe7f3"/>
<rect x="332.53" y="362.87" width="1.88" height="19.67" fill="#f8cdbd"/>
<rect x="332.53" y="382.23" width="1.88" height="19.37" fill="#f0886c"/>
<rect x="334.06" y="215.00" width="1.88" height="9.60" fill="#c7203c"/>
<rect x="334.06" y="246.67" width="1.88" height="19.67" fill="#f8c3b1"/>
<rect x="334.06" y="266.03" width="1.88" height="19.67" fill="#f7bca8"/>
<rect x="334.06" y="285.40" width="1.88" height="19.67" fill="#f2977d"/>
<rect x="334.06" y="304.77" width="1.88" height="19.67" fill="#cdbde4"/>
<rect x="334.06" y="324.13" width="1.88" height="19.67" fill="#f9e5e0"/>
<rect x="334.06" y="343.50" width="1.88" height="19.67" fill="#f9e7e4"/>
<rect x="334.06" y="362.87" width="1.88" height="19.67" fill="#ee7b5f"/>
<rect x="334.06" y="382.23" width="1.88" height="19.37" fill="#ef8569"/>
<rect x="335.59" y="215.00" width="1.88" height="9.60" fill="#c7203c"/>
<rect x="335.59" y="246.67" width="1.88" height="19.67" fill="#f8c3b1"/>
<rect x="335.59" y="266.03" width="1.88" height="19.67" fill="#c1afde"/>
<rect x="335.59" y="285.40" width="1.88" height="19.67" fill="#f8f2f5"/>
<rect x="335.59" y="304.77" width="1.88" height="19.67" fill="#f2977d"/>
<rect x="335.59" y="324.13" width="1.88" height="19.67" fill="#f9cdbd"/>
<rect x="335.59" y="343.50" width="1.88" height="19.67" fill="#f9e6e0"/>
<rect x="335.59" y="362.87" width="1.88" height="19.67" fill="#d2c4e7"/>
<rect x="335.59" y="382.23" width="1.88" height="19.37" fill="#f5eef5"/>
<rect x="337.12" y="215.00" width="1.88" height="9.60" fill="#c7203c"/>
<rect x="337.12" y="246.67" width="1.88" height="19.67" fill="#f9d1c2"/>
<rect x="337.12" y="266.03" width="1.88" height="19.67" fill="#c9b9e2"/>
<rect x="337.12" y="285.40" width="1.88" height="19.67" fill="#ea674c"/>
<rect x="337.12" y="304.77" width="1.88" height="19.67" fill="#ede5f2"/>
<rect x="337.12" y="324.13" width="1.88" height="19.67" fill="#f6b29b"/>
<rect x="337.12" y="343.50" width="1.88" height="19.67" fill="#f9e8e4"/>
<rect x="337.12" y="362.87" width="1.88" height="19.67" fill="#f9d4c6"/>
<rect x="337.12" y="382.23" width="1.88" height="19.37" fill="#d8cbea"/>
<rect x="338.65" y="215.00" width="1.88" height="9.60" fill="#dc6078"/>
<rect x="338.65" y="246.67" width="1.88" height="19.67" fill="#f8cbbb"/>
<rect x="338.65" y="266.03" width="1.88" height="19.67" fill="#f8c9b9"/>
<rect x="338.65" y="285.40" width="1.88" height="19.67" fill="#f8caba"/>
<rect x="338.65" y="304.77" width="1.88" height="19.67" fill="#f9eae8"/>
<rect x="338.65" y="324.13" width="1.88" height="19.67" fill="#f5a992"/>
<rect x="338.65" y="343.50" width="1.88" height="19.67" fill="#fad7ca"/>
<rect x="338.65" y="362.87" width="1.88" height="19.67" fill="#f9eae9"/>
<rect x="338.65" y="382.23" width="1.88" height="19.37" fill="#f5b099"/>
<rect x="340.18" y="215.00" width="1.88" height="9.60" fill="#c7203c"/>
<rect x="340.18" y="246.67" width="1.88" height="19.67" fill="#f3a087"/>
<rect x="340.18" y="266.03" width="1.88" height="19.67" fill="#f4a38a"/>
<rect x="340.18" y="285.40" width="1.88" height="19.67" fill="#f9eae8"/>
<rect x="340.18" y="304.77" width="1.88" height="19.67" fill="#ded2ec"/>
<rect x="340.18" y="324.13" width="1.88" height="19.67" fill="#f8ccbc"/>
<rect x="340.18" y="343.50" width="1.88" height="19.67" fill="#f2957b"/>
<rect x="340.18" y="362.87" width="1.88" height="19.67" fill="#f9eae9"/>
<rect x="340.18" y="382.23" width="1.88" height="19.37" fill="#d4c6e8"/>
<rect x="341.71" y="215.00" width="1.88" height="9.60" fill="#c7203c"/>
<rect x="341.71" y="246.67" width="1.88" height="19.67" fill="#f08b70"/>
<rect x="341.71" y="266.03" width="1.88" height="19.67" fill="#b8a4d9"/>
<rect x="341.71" y="285.40" width="1.88" height="19.67" fill="#f7bdaa"/>
<rect x="341.71" y="304.77" width="1.88" height="19.67" fill="#f9e3dc"/>
<rect x="341.71" y="324.13" width="1.88" height="19.67" fill="#f9e6e1"/>
<rect x="341.71" y="343.50" width="1.88" height="19.67" fill="#f6b8a3"/>
<rect x="341.71" y="362.87" width="1.88" height="19.67" fill="#f0e8f3"/>
<rect x="341.71" y="382.23" width="1.88" height="19.37" fill="#f9d2c4"/>
<rect x="343.24" y="215.00" width="1.88" height="9.60" fill="#dc6078"/>
<rect x="343.24" y="246.67" width="1.88" height="19.67" fill="#f39f86"/>
<rect x="343.24" y="266.03" width="1.88" height="19.67" fill="#f7b9a5"/>
<rect x="343.24" y="285.40" width="1.88" height="19.67" fill="#f7bca8"/>
<rect x="343.24" y="304.77" width="1.88" height="19.67" fill="#f9d5c7"/>
<rect x="343.24" y="324.13" width="1.88" height="19.67" fill="#f9ebea"/>
<rect x="343.24" y="343.50" width="1.88" height="19.67" fill="#f9e2db"/>
<rect x="343.24" y="362.87" width="1.88" height="19.67" fill="#f9e4dd"/>
<rect x="343.24" y="382.23" width="1.88" height="19.37" fill="#f8edee"/>
<rect x="344.77" y="215.00" width="1.88" height="9.60" fill="#c7203c"/>
<rect x="344.77" y="246.67" width="1.88" height="19.67" fill="#f9cebf"/>
<rect x="344.77" y="266.03" width="1.88" height="19.67" fill="#f7bda9"/>
<rect x="344.77" y="285.40" width="1.88" height="19.67" fill="#f3ebf4"/>
<rect x="344.77" y="304.77" width="1.88" height="19.67" fill="#f6b8a3"/>
<rect x="344.77" y="324.13" width="1.88" height="19.67" fill="#ef8367"/>
<rect x="344.77" y="343.50" width="1.88" height="19.67" fill="#f4a28a"/>
<rect x="344.77" y="362.87" width="1.88" height="19.67" fill="#f0866a"/>
<rect x="344.77" y="382.23" width="1.88" height="19.37" fill="#e7573d"/>
<rect x="346.30" y="215.00" width="1.88" height="9.60" fill="#c7203c"/>
<rect x="346.30" y="246.67" width="1.88" height="19.67" fill="#f19378"/>
<rect x="346.30" y="266.03" width="1.88" height="19.67" fill="#a18acd"/>
<rect x="346.30" y="285.40" width="1.88" height="19.67" fill="#fadacd"/>
<rect x="346.30" y="304.77" width="1.88" height="19.67" fill="#f9eae8"/>
<rect x="346.30" y="324.13" width="1.88" height="19.67" fill="#f6b59f"/>
<rect x="346.30" y="343.50" width="1.88" height="19.67" fill="#f6b49e"/>
<rect x="346.30" y="362.87" width="1.88" height="19.67" fill="#e9e0f0"/>
<rect x="346.30" y="382.23" width="1.88" height="19.37" fill="#c3b2df"/>
<rect x="347.83" y="215.00" width="1.88" height="9.60" fill="#c7203c"/>
<rect x="347.83" y="246.67" width="1.88" height="19.67" fill="#f4a58c"/>
<rect x="347.83" y="266.03" width="1.88" height="19.67" fill="#f8c8b7"/>
<rect x="347.83" y="285.40" width="1.88" height="19.67" fill="#f18f74"/>
<rect x="347.83" y="304.77" width="1.88" height="19.67" fill="#f9e9e7"/>
<rect x="347.83" y="324.13" width="1.88" height="19.67" fill="#f8c7b6"/>
<rect x="347.83" y="343.50" width="1.88" height="19.67" fill="#f9e6e1"/>
<rect x="347.83" y="362.87" width="1.88" height="19.67" fill="#f6eff5"/>
<rect x="347.83" y="382.23" width="1.88" height="19.37" fill="#f8c6b4"/>
<rect x="349.36" y="215.00" width="1.88" height="9.60" fill="#c7203c"/>
<rect x="349.36" y="246.67" width="1.88" height="19.67" fill="#f5ae98"/>
<rect x="349.36" y="266.03" width="1.88" height="19.67" fill="#f08b6f"/>
<rect x="349.36" y="285.40" width="1.88" height="19.67" fill="#f9d2c4"/>
<rect x="349.36" y="304.77" width="1.88" height="19.67" fill="#e8dff0"/>
<rect x="349.36" y="324.13" width="1.88" height="19.67" fill="#ee7d62"/>
<rect x="349.36" y="343.50" width="1.88" height="19.67" fill="#f9cfc0"/>
<rect x="349.36" y="362.87" width="1.88" height="19.67" fill="#bdaadc"/>
<rect x="349.36" y="382.23" width="1.88" height="19.37" fill="#f4a891"/>
<rect x="350.89" y="215.00" width="1.88" height="9.60" fill="#c7203c"/>
<rect x="350.89" y="246.67" width="1.88" height="19.67" fill="#765db6"/>
<rect x="350.89" y="266.03" width="1.88" height="19.67" fill="#f7baa5"/>
<rect x="350.89" y="285.40" width="1.88" height="19.67" fill="#f9eceb"/>
<rect x="350.89" y="304.77" width="1.88" height="19.67" fill="#f9cfc0"/>
<rect x="350.89" y="324.13" width="1.88" height="19.67" fill="#f9e8e5"/>
<rect x="350.89" y="343.50" width="1.88" height="19.67" fill="#f8c4b2"/>
<rect x="350.89" y="362.87" width="1.88" height="19.67" fill="#f1eaf3"/>
<rect x="350.89" y="382.23" width="1.88" height="19.37" fill="#f9d0c1"/>
<rect x="352.42" y="215.00" width="1.88" height="9.60" fill="#eab0bc"/>
<rect x="352.42" y="246.67" width="1.88" height="19.67" fill="#7258b3"/>
<rect x="352.42" y="266.03" width="1.88" height="19.67" fill="#f9d3c5"/>
<rect x="352.42" y="285.40" width="1.88" height="19.67" fill="#f5ab94"/>
<rect x="352.42" y="304.77" width="1.88" height="19.67" fill="#f5b09a"/>
<rect x="352.42" y="324.13" width="1.88" height="19.67" fill="#f9cebf"/>
<rect x="352.42" y="343.50" width="1.88" height="19.67" fill="#f5b09a"/>
<rect x="352.42" y="362.87" width="1.88" height="19.67" fill="#f9ebe9"/>
<rect x="352.42" y="382.23" width="1.88" height="19.37" fill="#f5b099"/>
<rect x="353.95" y="215.00" width="1.88" height="9.60" fill="#dc6078"/>
<rect x="353.95" y="246.67" width="1.88" height="19.67" fill="#4f3199"/>
<rect x="353.95" y="266.03" width="1.88" height="19.67" fill="#f39c83"/>
<rect x="353.95" y="285.40" width="1.88" height="19.67" fill="#f19075"/>
<rect x="353.95" y="304.77" width="1.88" height="19.67" fill="#fadcd0"/>
<rect x="353.95" y="324.13" width="1.88" height="19.67" fill="#f4a891"/>
<rect x="353.95" y="343.50" width="1.88" height="19.67" fill="#f9e4de"/>
<rect x="353.95" y="362.87" width="1.88" height="19.67" fill="#ded2ec"/>
<rect x="353.95" y="382.23" width="1.88" height="19.37" fill="#f9e3dd"/>
<rect x="355.48" y="215.00" width="1.88" height="9.60" fill="#c7203c"/>
<rect x="355.48" y="246.67" width="1.88" height="19.67" fill="#684dac"/>
<rect x="355.48" y="266.03" width="1.88" height="19.67" fill="#f7bfac"/>
<rect x="355.48" y="285.40" width="1.88" height="19.67" fill="#dbcfeb"/>
<rect x="355.48" y="304.77" width="1.88" height="19.67" fill="#f8f0f3"/>
<rect x="355.48" y="324.13" width="1.88" height="19.67" fill="#f8ccbb"/>
<rect x="355.48" y="343.50" width="1.88" height="19.67" fill="#f9e4df"/>
<rect x="355.48" y="362.87" width="1.88" height="19.67" fill="#f5eff5"/>
<rect x="355.48" y="382.23" width="1.88" height="19.37" fill="#f7baa6"/>
<rect x="357.00" y="215.00" width="1.88" height="9.60" fill="#dc6078"/>
<rect x="357.00" y="246.67" width="1.88" height="19.67" fill="#5d40a3"/>
<rect x="357.00" y="266.03" width="1.88" height="19.67" fill="#f9e6e1"/>
<rect x="357.00" y="285.40" width="1.88" height="19.67" fill="#f9e4dd"/>
<rect x="357.00" y="304.77" width="1.88" height="19.67" fill="#ded2ec"/>
<rect x="357.00" y="324.13" width="1.88" height="19.67" fill="#f39f86"/>
<rect x="357.00" y="343.50" width="1.88" height="19.67" fill="#f0e9f3"/>
<rect x="357.00" y="362.87" width="1.88" height="19.67" fill="#cabae3"/>
<rect x="357.00" y="382.23" width="1.88" height="19.37" fill="#f8caba"/>
<rect x="358.53" y="215.00" width="1.88" height="9.60" fill="#eab0bc"/>
<rect x="358.53" y="246.67" width="1.88" height="19.67" fill="#ac97d3"/>
<rect x="358.53" y="266.03" width="1.88" height="19.67" fill="#f7baa5"/>
<rect x="358.53" y="285.40" width="1.88" height="19.67" fill="#f0886c"/>
<rect x="358.53" y="304.77" width="1.88" height="19.67" fill="#f7c2af"/>
<rect x="358.53" y="324.13" width="1.88" height="19.67" fill="#d5c7e8"/>
<rect x="358.53" y="343.50" width="1.88" height="19.67" fill="#f9ecec"/>
<rect x="358.53" y="362.87" width="1.88" height="19.67" fill="#f9e2da"/>
<rect x="358.53" y="382.23" width="1.88" height="19.37" fill="#f8cbbb"/>
<rect x="360.06" y="215.00" width="1.88" height="9.60" fill="#1e5d96"/>
<rect x="360.06" y="246.67" width="1.88" height="19.67" fill="#a993d2"/>
<rect x="360.06" y="266.03" width="1.88" height="19.67" fill="#fad9cc"/>
<rect x="360.06" y="285.40" width="1.88" height="19.67" fill="#f8edee"/>
<rect x="360.06" y="304.77" width="1.88" height="19.67" fill="#f7b9a5"/>
<rect x="360.06" y="324.13" width="1.88" height="19.67" fill="#ec7358"/>
<rect x="360.06" y="343.50" width="1.88" height="19.67" fill="#f9e2da"/>
<rect x="360.06" y="362.87" width="1.88" height="19.67" fill="#f19277"/>
<rect x="360.06" y="382.23" width="1.88" height="19.37" fill="#f4a58d"/>
<rect x="361.59" y="215.00" width="1.88" height="9.60" fill="#c7203c"/>
<rect x="361.59" y="246.67" width="1.88" height="19.67" fill="#664baa"/>
<rect x="361.59" y="266.03" width="1.88" height="19.67" fill="#f8ccbc"/>
<rect x="361.59" y="285.40" width="1.88" height="19.67" fill="#f4a890"/>
<rect x="361.59" y="304.77" width="1.88" height="19.67" fill="#f7c0ae"/>
<rect x="361.59" y="324.13" width="1.88" height="19.67" fill="#f8ccbb"/>
<rect x="361.59" y="343.50" width="1.88" height="19.67" fill="#f9e6e2"/>
<rect x="361.59" y="362.87" width="1.88" height="19.67" fill="#f29980"/>
<rect x="361.59" y="382.23" width="1.88" height="19.37" fill="#f19075"/>
<rect x="363.12" y="215.00" width="1.88" height="9.60" fill="#dc6078"/>
<rect x="363.12" y="246.67" width="1.88" height="19.67" fill="#8870c0"/>
<rect x="363.12" y="266.03" width="1.88" height="19.67" fill="#f8caba"/>
<rect x="363.12" y="285.40" width="1.88" height="19.67" fill="#f29a80"/>
<rect x="363.12" y="304.77" width="1.88" height="19.67" fill="#f8eff0"/>
<rect x="363.12" y="324.13" width="1.88" height="19.67" fill="#f7baa6"/>
<rect x="363.12" y="343.50" width="1.88" height="19.67" fill="#f9ebe9"/>
<rect x="363.12" y="362.87" width="1.88" height="19.67" fill="#c5b4e0"/>
<rect x="363.12" y="382.23" width="1.88" height="19.37" fill="#f6b6a1"/>
<rect x="364.65" y="215.00" width="1.88" height="9.60" fill="#eab0bc"/>
<rect x="364.65" y="246.67" width="1.88" height="19.67" fill="#876fc0"/>
<rect x="364.65" y="266.03" width="1.88" height="19.67" fill="#f7bda9"/>
<rect x="364.65" y="285.40" width="1.88" height="19.67" fill="#f8cbbb"/>
<rect x="364.65" y="304.77" width="1.88" height="19.67" fill="#f5ac95"/>
<rect x="364.65" y="324.13" width="1.88" height="19.67" fill="#fadace"/>
<rect x="364.65" y="343.50" width="1.88" height="19.67" fill="#dcd0eb"/>
<rect x="364.65" y="362.87" width="1.88" height="19.67" fill="#dbceeb"/>
<rect x="364.65" y="382.23" width="1.88" height="19.37" fill="#f5aa93"/>
<rect x="366.18" y="215.00" width="1.88" height="9.60" fill="#c7203c"/>
<rect x="366.18" y="246.67" width="1.88" height="19.67" fill="#7c64ba"/>
<rect x="366.18" y="266.03" width="1.88" height="19.67" fill="#f8eef0"/>
<rect x="366.18" y="285.40" width="1.88" height="19.67" fill="#f9d6c9"/>
<rect x="366.18" y="304.77" width="1.88" height="19.67" fill="#f9e6e1"/>
<rect x="366.18" y="324.13" width="1.88" height="19.67" fill="#f9d6c9"/>
<rect x="366.18" y="343.50" width="1.88" height="19.67" fill="#f8c7b6"/>
<rect x="366.18" y="362.87" width="1.88" height="19.67" fill="#e4d9ee"/>
<rect x="366.18" y="382.23" width="1.88" height="19.37" fill="#f2977d"/>
<rect x="367.71" y="215.00" width="1.88" height="9.60" fill="#c7203c"/>
<rect x="367.71" y="246.67" width="1.88" height="19.67" fill="#7e66bb"/>
<rect x="367.71" y="266.03" width="1.88" height="19.67" fill="#daceeb"/>
<rect x="367.71" y="285.40" width="1.88" height="19.67" fill="#f8f1f4"/>
<rect x="367.71" y="304.77" width="1.88" height="19.67" fill="#e6dcef"/>
<rect x="367.71" y="324.13" width="1.88" height="19.67" fill="#f6b9a4"/>
<rect x="367.71" y="343.50" width="1.88" height="19.67" fill="#f9ebea"/>
<rect x="367.71" y="362.87" width="1.88" height="19.67" fill="#e8dff0"/>
<rect x="367.71" y="382.23" width="1.88" height="19.37" fill="#f4edf5"/>
<rect x="369.24" y="215.00" width="1.88" height="9.60" fill="#c7203c"/>
<rect x="369.24" y="246.67" width="1.88" height="19.67" fill="#7a62b9"/>
<rect x="369.24" y="266.03" width="1.88" height="19.67" fill="#f9cebf"/>
<rect x="369.24" y="285.40" width="1.88" height="19.67" fill="#f6b39d"/>
<rect x="369.24" y="304.77" width="1.88" height="19.67" fill="#eae1f0"/>
<rect x="369.24" y="324.13" width="1.88" height="19.67" fill="#f9d6c8"/>
<rect x="369.24" y="343.50" width="1.88" height="19.67" fill="#eae1f0"/>
<rect x="369.24" y="362.87" width="1.88" height="19.67" fill="#d3c5e8"/>
<rect x="369.24" y="382.23" width="1.88" height="19.37" fill="#f8eeef"/>
<rect x="370.77" y="215.00" width="1.88" height="9.60" fill="#1e5d96"/>
<rect x="370.77" y="246.67" width="1.88" height="19.67" fill="#755cb5"/>
<rect x="370.77" y="266.03" width="1.88" height="19.67" fill="#f8c6b5"/>
<rect x="370.77" y="285.40" width="1.88" height="19.67" fill="#f6b19b"/>
<rect x="370.77" y="304.77" width="1.88" height="19.67" fill="#faded3"/>
<rect x="370.77" y="324.13" width="1.88" height="19.67" fill="#f9d5c7"/>
<rect x="370.77" y="343.50" width="1.88" height="19.67" fill="#f08569"/>
<rect x="370.77" y="362.87" width="1.88" height="19.67" fill="#ee7f63"/>
<rect x="370.77" y="382.23" width="1.88" height="19.37" fill="#f4a890"/>
<defs><linearGradient id="gmGCB" x1="0" x2="1" y1="0" y2="0"><stop offset="0.000" stop-color="#f4a28a"/><stop offset="0.042" stop-color="#f4a48c"/><stop offset="0.083" stop-color="#f4a58d"/><stop offset="0.125" stop-color="#f4a78f"/><stop offset="0.167" stop-color="#f4a890"/><stop offset="0.208" stop-color="#f5a992"/><stop offset="0.250" stop-color="#f5ab93"/><stop offset="0.292" stop-color="#f5ac95"/><stop offset="0.333" stop-color="#f5ad96"/><stop offset="0.375" stop-color="#f5af98"/><stop offset="0.417" stop-color="#f6b7a2"/><stop offset="0.458" stop-color="#f8cbbb"/><stop offset="0.500" stop-color="#faded3"/><stop offset="0.542" stop-color="#f9eceb"/><stop offset="0.583" stop-color="#ebe3f1"/><stop offset="0.625" stop-color="#d5c7e8"/><stop offset="0.667" stop-color="#c0afde"/><stop offset="0.708" stop-color="#ac96d3"/><stop offset="0.750" stop-color="#9b84ca"/><stop offset="0.792" stop-color="#8a73c1"/><stop offset="0.833" stop-color="#7a62b9"/><stop offset="0.875" stop-color="#6d52af"/><stop offset="0.917" stop-color="#6043a6"/><stop offset="0.958" stop-color="#54369d"/><stop offset="1.000" stop-color="#4b2c96"/></linearGradient></defs>
<rect x="305.00" y="227.30" width="67.30" height="19.67" fill="url(#gmGCB)"/>
<rect x="374.50" y="203.00" width="41.30" height="9.80" fill="#3ba7de"/>
<text x="395.15" y="197.7" font-size="7.85" text-anchor="middle" fill="#2b2b2b">ABC–DLBCL</text>
<rect x="374.50" y="215.00" width="1.83" height="9.60" fill="#1e5d96"/>
<rect x="374.50" y="246.67" width="1.83" height="19.67" fill="#f4a890"/>
<rect x="374.50" y="266.03" width="1.83" height="19.67" fill="#f2987e"/>
<rect x="374.50" y="285.40" width="1.83" height="19.67" fill="#f7beab"/>
<rect x="374.50" y="304.77" width="1.83" height="19.67" fill="#d2c4e7"/>
<rect x="374.50" y="324.13" width="1.83" height="19.67" fill="#f2967c"/>
<rect x="374.50" y="343.50" width="1.83" height="19.67" fill="#f6b49e"/>
<rect x="374.50" y="362.87" width="1.83" height="19.67" fill="#b7a4d9"/>
<rect x="374.50" y="382.23" width="1.83" height="19.37" fill="#f8c6b4"/>
<rect x="375.98" y="215.00" width="1.83" height="9.60" fill="#1e5d96"/>
<rect x="375.98" y="246.67" width="1.83" height="19.67" fill="#f8c7b6"/>
<rect x="375.98" y="266.03" width="1.83" height="19.67" fill="#f9eae9"/>
<rect x="375.98" y="285.40" width="1.83" height="19.67" fill="#f08a6e"/>
<rect x="375.98" y="304.77" width="1.83" height="19.67" fill="#ede5f2"/>
<rect x="375.98" y="324.13" width="1.83" height="19.67" fill="#f7c3b1"/>
<rect x="375.98" y="343.50" width="1.83" height="19.67" fill="#fae1d9"/>
<rect x="375.98" y="362.87" width="1.83" height="19.67" fill="#dccfeb"/>
<rect x="375.98" y="382.23" width="1.83" height="19.37" fill="#fae1d9"/>
<rect x="377.45" y="215.00" width="1.83" height="9.60" fill="#1e5d96"/>
<rect x="377.45" y="246.67" width="1.83" height="19.67" fill="#f7bba7"/>
<rect x="377.45" y="266.03" width="1.83" height="19.67" fill="#f4a48c"/>
<rect x="377.45" y="285.40" width="1.83" height="19.67" fill="#f0896d"/>
<rect x="377.45" y="304.77" width="1.83" height="19.67" fill="#f7b9a5"/>
<rect x="377.45" y="324.13" width="1.83" height="19.67" fill="#f4a890"/>
<rect x="377.45" y="343.50" width="1.83" height="19.67" fill="#f4a289"/>
<rect x="377.45" y="362.87" width="1.83" height="19.67" fill="#c6b6e1"/>
<rect x="377.45" y="382.23" width="1.83" height="19.37" fill="#f5b099"/>
<rect x="378.93" y="215.00" width="1.83" height="9.60" fill="#1e5d96"/>
<rect x="378.93" y="246.67" width="1.83" height="19.67" fill="#f9cdbd"/>
<rect x="378.93" y="266.03" width="1.83" height="19.67" fill="#f4a68e"/>
<rect x="378.93" y="285.40" width="1.83" height="19.67" fill="#f5ae97"/>
<rect x="378.93" y="304.77" width="1.83" height="19.67" fill="#faded4"/>
<rect x="378.93" y="324.13" width="1.83" height="19.67" fill="#f19278"/>
<rect x="378.93" y="343.50" width="1.83" height="19.67" fill="#f9eceb"/>
<rect x="378.93" y="362.87" width="1.83" height="19.67" fill="#a790d0"/>
<rect x="378.93" y="382.23" width="1.83" height="19.37" fill="#f9e6e1"/>
<rect x="380.40" y="215.00" width="1.83" height="9.60" fill="#1e5d96"/>
<rect x="380.40" y="246.67" width="1.83" height="19.67" fill="#f5ad96"/>
<rect x="380.40" y="266.03" width="1.83" height="19.67" fill="#f9eae8"/>
<rect x="380.40" y="285.40" width="1.83" height="19.67" fill="#f8cbbb"/>
<rect x="380.40" y="304.77" width="1.83" height="19.67" fill="#fad9cc"/>
<rect x="380.40" y="324.13" width="1.83" height="19.67" fill="#f5ad96"/>
<rect x="380.40" y="343.50" width="1.83" height="19.67" fill="#fae0d7"/>
<rect x="380.40" y="362.87" width="1.83" height="19.67" fill="#b29ed6"/>
<rect x="380.40" y="382.23" width="1.83" height="19.37" fill="#f8f1f4"/>
<rect x="381.88" y="215.00" width="1.83" height="9.60" fill="#1e5d96"/>
<rect x="381.88" y="246.67" width="1.83" height="19.67" fill="#f6b49e"/>
<rect x="381.88" y="266.03" width="1.83" height="19.67" fill="#faded4"/>
<rect x="381.88" y="285.40" width="1.83" height="19.67" fill="#faded3"/>
<rect x="381.88" y="304.77" width="1.83" height="19.67" fill="#f9e8e5"/>
<rect x="381.88" y="324.13" width="1.83" height="19.67" fill="#f7baa6"/>
<rect x="381.88" y="343.50" width="1.83" height="19.67" fill="#f18f74"/>
<rect x="381.88" y="362.87" width="1.83" height="19.67" fill="#dbcfeb"/>
<rect x="381.88" y="382.23" width="1.83" height="19.37" fill="#f5ae97"/>
<rect x="383.35" y="215.00" width="1.83" height="9.60" fill="#1e5d96"/>
<rect x="383.35" y="246.67" width="1.83" height="19.67" fill="#f19176"/>
<rect x="383.35" y="266.03" width="1.83" height="19.67" fill="#f2987e"/>
<rect x="383.35" y="285.40" width="1.83" height="19.67" fill="#e96247"/>
<rect x="383.35" y="304.77" width="1.83" height="19.67" fill="#ea684d"/>
<rect x="383.35" y="324.13" width="1.83" height="19.67" fill="#f6b19a"/>
<rect x="383.35" y="343.50" width="1.83" height="19.67" fill="#ed785d"/>
<rect x="383.35" y="362.87" width="1.83" height="19.67" fill="#f1eaf3"/>
<rect x="383.35" y="382.23" width="1.83" height="19.37" fill="#f4a289"/>
<rect x="384.82" y="215.00" width="1.83" height="9.60" fill="#1e5d96"/>
<rect x="384.82" y="246.67" width="1.83" height="19.67" fill="#f08b70"/>
<rect x="384.82" y="266.03" width="1.83" height="19.67" fill="#f7bba6"/>
<rect x="384.82" y="285.40" width="1.83" height="19.67" fill="#f08a6f"/>
<rect x="384.82" y="304.77" width="1.83" height="19.67" fill="#f9e7e3"/>
<rect x="384.82" y="324.13" width="1.83" height="19.67" fill="#f5af99"/>
<rect x="384.82" y="343.50" width="1.83" height="19.67" fill="#f6b7a2"/>
<rect x="384.82" y="362.87" width="1.83" height="19.67" fill="#bba8db"/>
<rect x="384.82" y="382.23" width="1.83" height="19.37" fill="#f7c0ad"/>
<rect x="386.30" y="215.00" width="1.83" height="9.60" fill="#1e5d96"/>
<rect x="386.30" y="246.67" width="1.83" height="19.67" fill="#f7c0ad"/>
<rect x="386.30" y="266.03" width="1.83" height="19.67" fill="#f4a58d"/>
<rect x="386.30" y="285.40" width="1.83" height="19.67" fill="#faddd2"/>
<rect x="386.30" y="304.77" width="1.83" height="19.67" fill="#f8c5b4"/>
<rect x="386.30" y="324.13" width="1.83" height="19.67" fill="#f3a087"/>
<rect x="386.30" y="343.50" width="1.83" height="19.67" fill="#f7bfac"/>
<rect x="386.30" y="362.87" width="1.83" height="19.67" fill="#856ebf"/>
<rect x="386.30" y="382.23" width="1.83" height="19.37" fill="#f8eff1"/>
<rect x="387.77" y="215.00" width="1.83" height="9.60" fill="#1e5d96"/>
<rect x="387.77" y="246.67" width="1.83" height="19.67" fill="#f9d6c8"/>
<rect x="387.77" y="266.03" width="1.83" height="19.67" fill="#f2997f"/>
<rect x="387.77" y="285.40" width="1.83" height="19.67" fill="#ea6a4f"/>
<rect x="387.77" y="304.77" width="1.83" height="19.67" fill="#f9e6e2"/>
<rect x="387.77" y="324.13" width="1.83" height="19.67" fill="#eb7054"/>
<rect x="387.77" y="343.50" width="1.83" height="19.67" fill="#f9d3c5"/>
<rect x="387.77" y="362.87" width="1.83" height="19.67" fill="#e5daef"/>
<rect x="387.77" y="382.23" width="1.83" height="19.37" fill="#f1eaf3"/>
<rect x="389.25" y="215.00" width="1.83" height="9.60" fill="#1e5d96"/>
<rect x="389.25" y="246.67" width="1.83" height="19.67" fill="#f9e3dc"/>
<rect x="389.25" y="266.03" width="1.83" height="19.67" fill="#f8f1f5"/>
<rect x="389.25" y="285.40" width="1.83" height="19.67" fill="#f8f2f6"/>
<rect x="389.25" y="304.77" width="1.83" height="19.67" fill="#d5c7e8"/>
<rect x="389.25" y="324.13" width="1.83" height="19.67" fill="#f4a790"/>
<rect x="389.25" y="343.50" width="1.83" height="19.67" fill="#f8c5b3"/>
<rect x="389.25" y="362.87" width="1.83" height="19.67" fill="#b5a1d8"/>
<rect x="389.25" y="382.23" width="1.83" height="19.37" fill="#fae1d9"/>
<rect x="390.73" y="215.00" width="1.83" height="9.60" fill="#1e5d96"/>
<rect x="390.73" y="246.67" width="1.83" height="19.67" fill="#f5a992"/>
<rect x="390.73" y="266.03" width="1.83" height="19.67" fill="#f5af99"/>
<rect x="390.73" y="285.40" width="1.83" height="19.67" fill="#f18f74"/>
<rect x="390.73" y="304.77" width="1.83" height="19.67" fill="#fae1d9"/>
<rect x="390.73" y="324.13" width="1.83" height="19.67" fill="#f8c4b2"/>
<rect x="390.73" y="343.50" width="1.83" height="19.67" fill="#f6b59f"/>
<rect x="390.73" y="362.87" width="1.83" height="19.67" fill="#cfc0e6"/>
<rect x="390.73" y="382.23" width="1.83" height="19.37" fill="#f9ebe9"/>
<rect x="392.20" y="215.00" width="1.83" height="9.60" fill="#1e5d96"/>
<rect x="392.20" y="246.67" width="1.83" height="19.67" fill="#ee7d61"/>
<rect x="392.20" y="266.03" width="1.83" height="19.67" fill="#f7baa5"/>
<rect x="392.20" y="285.40" width="1.83" height="19.67" fill="#f7baa5"/>
<rect x="392.20" y="304.77" width="1.83" height="19.67" fill="#f4a48c"/>
<rect x="392.20" y="324.13" width="1.83" height="19.67" fill="#f4a38b"/>
<rect x="392.20" y="343.50" width="1.83" height="19.67" fill="#f5ae97"/>
<rect x="392.20" y="362.87" width="1.83" height="19.67" fill="#cfc0e5"/>
<rect x="392.20" y="382.23" width="1.83" height="19.37" fill="#f9d1c2"/>
<rect x="393.68" y="215.00" width="1.83" height="9.60" fill="#1e5d96"/>
<rect x="393.68" y="246.67" width="1.83" height="19.67" fill="#faded4"/>
<rect x="393.68" y="266.03" width="1.83" height="19.67" fill="#f9e8e5"/>
<rect x="393.68" y="285.40" width="1.83" height="19.67" fill="#f7beaa"/>
<rect x="393.68" y="304.77" width="1.83" height="19.67" fill="#f29479"/>
<rect x="393.68" y="324.13" width="1.83" height="19.67" fill="#f6b8a3"/>
<rect x="393.68" y="343.50" width="1.83" height="19.67" fill="#f7c2b0"/>
<rect x="393.68" y="362.87" width="1.83" height="19.67" fill="#b39fd7"/>
<rect x="393.68" y="382.23" width="1.83" height="19.37" fill="#f6b7a1"/>
<rect x="395.15" y="215.00" width="1.83" height="9.60" fill="#1e5d96"/>
<rect x="395.15" y="246.67" width="1.83" height="19.67" fill="#f9d7ca"/>
<rect x="395.15" y="266.03" width="1.83" height="19.67" fill="#fadcd1"/>
<rect x="395.15" y="285.40" width="1.83" height="19.67" fill="#f9d3c4"/>
<rect x="395.15" y="304.77" width="1.83" height="19.67" fill="#fad8cb"/>
<rect x="395.15" y="324.13" width="1.83" height="19.67" fill="#f5ac95"/>
<rect x="395.15" y="343.50" width="1.83" height="19.67" fill="#fad7ca"/>
<rect x="395.15" y="362.87" width="1.83" height="19.67" fill="#bba8db"/>
<rect x="395.15" y="382.23" width="1.83" height="19.37" fill="#f6b9a4"/>
<rect x="396.62" y="215.00" width="1.83" height="9.60" fill="#1e5d96"/>
<rect x="396.62" y="246.67" width="1.83" height="19.67" fill="#f7c0ad"/>
<rect x="396.62" y="266.03" width="1.83" height="19.67" fill="#f9e6e2"/>
<rect x="396.62" y="285.40" width="1.83" height="19.67" fill="#f19176"/>
<rect x="396.62" y="304.77" width="1.83" height="19.67" fill="#f6b5a0"/>
<rect x="396.62" y="324.13" width="1.83" height="19.67" fill="#f6b6a1"/>
<rect x="396.62" y="343.50" width="1.83" height="19.67" fill="#f6b59f"/>
<rect x="396.62" y="362.87" width="1.83" height="19.67" fill="#8870c0"/>
<rect x="396.62" y="382.23" width="1.83" height="19.37" fill="#f3a088"/>
<rect x="398.10" y="215.00" width="1.83" height="9.60" fill="#1e5d96"/>
<rect x="398.10" y="246.67" width="1.83" height="19.67" fill="#f7bba6"/>
<rect x="398.10" y="266.03" width="1.83" height="19.67" fill="#fad8cc"/>
<rect x="398.10" y="285.40" width="1.83" height="19.67" fill="#f4a891"/>
<rect x="398.10" y="304.77" width="1.83" height="19.67" fill="#f6b59f"/>
<rect x="398.10" y="324.13" width="1.83" height="19.67" fill="#f7c0ad"/>
<rect x="398.10" y="343.50" width="1.83" height="19.67" fill="#f9eae9"/>
<rect x="398.10" y="362.87" width="1.83" height="19.67" fill="#b5a1d8"/>
<rect x="398.10" y="382.23" width="1.83" height="19.37" fill="#f2ebf4"/>
<rect x="399.57" y="215.00" width="1.83" height="9.60" fill="#1e5d96"/>
<rect x="399.57" y="246.67" width="1.83" height="19.67" fill="#e6dcef"/>
<rect x="399.57" y="266.03" width="1.83" height="19.67" fill="#f9cfc0"/>
<rect x="399.57" y="285.40" width="1.83" height="19.67" fill="#f4a891"/>
<rect x="399.57" y="304.77" width="1.83" height="19.67" fill="#fadfd5"/>
<rect x="399.57" y="324.13" width="1.83" height="19.67" fill="#f8cdbd"/>
<rect x="399.57" y="343.50" width="1.83" height="19.67" fill="#f9d0c1"/>
<rect x="399.57" y="362.87" width="1.83" height="19.67" fill="#baa7da"/>
<rect x="399.57" y="382.23" width="1.83" height="19.37" fill="#f9e7e2"/>
<rect x="401.05" y="215.00" width="1.83" height="9.60" fill="#c7203c"/>
<rect x="401.05" y="246.67" width="1.83" height="19.67" fill="#f2987e"/>
<rect x="401.05" y="266.03" width="1.83" height="19.67" fill="#f7baa5"/>
<rect x="401.05" y="285.40" width="1.83" height="19.67" fill="#f29479"/>
<rect x="401.05" y="304.77" width="1.83" height="19.67" fill="#f7baa6"/>
<rect x="401.05" y="324.13" width="1.83" height="19.67" fill="#f5ac95"/>
<rect x="401.05" y="343.50" width="1.83" height="19.67" fill="#f9ebeb"/>
<rect x="401.05" y="362.87" width="1.83" height="19.67" fill="#d3c5e7"/>
<rect x="401.05" y="382.23" width="1.83" height="19.37" fill="#f4a58d"/>
<rect x="402.52" y="215.00" width="1.83" height="9.60" fill="#dc6078"/>
<rect x="402.52" y="246.67" width="1.83" height="19.67" fill="#f29a80"/>
<rect x="402.52" y="266.03" width="1.83" height="19.67" fill="#f7c1ae"/>
<rect x="402.52" y="285.40" width="1.83" height="19.67" fill="#f6b49e"/>
<rect x="402.52" y="304.77" width="1.83" height="19.67" fill="#f5af99"/>
<rect x="402.52" y="324.13" width="1.83" height="19.67" fill="#f5af98"/>
<rect x="402.52" y="343.50" width="1.83" height="19.67" fill="#ec7559"/>
<rect x="402.52" y="362.87" width="1.83" height="19.67" fill="#d5c8e9"/>
<rect x="402.52" y="382.23" width="1.83" height="19.37" fill="#f6b59f"/>
<rect x="404.00" y="215.00" width="1.83" height="9.60" fill="#c7203c"/>
<rect x="404.00" y="246.67" width="1.83" height="19.67" fill="#f6b6a0"/>
<rect x="404.00" y="266.03" width="1.83" height="19.67" fill="#f5ae98"/>
<rect x="404.00" y="285.40" width="1.83" height="19.67" fill="#f9d1c3"/>
<rect x="404.00" y="304.77" width="1.83" height="19.67" fill="#f8c9b9"/>
<rect x="404.00" y="324.13" width="1.83" height="19.67" fill="#f9d6c8"/>
<rect x="404.00" y="343.50" width="1.83" height="19.67" fill="#f9d0c0"/>
<rect x="404.00" y="362.87" width="1.83" height="19.67" fill="#947dc6"/>
<rect x="404.00" y="382.23" width="1.83" height="19.37" fill="#f9d0c1"/>
<rect x="405.48" y="215.00" width="1.83" height="9.60" fill="#c7203c"/>
<rect x="405.48" y="246.67" width="1.83" height="19.67" fill="#f9d6c9"/>
<rect x="405.48" y="266.03" width="1.83" height="19.67" fill="#f2987f"/>
<rect x="405.48" y="285.40" width="1.83" height="19.67" fill="#f29a80"/>
<rect x="405.48" y="304.77" width="1.83" height="19.67" fill="#fadfd6"/>
<rect x="405.48" y="324.13" width="1.83" height="19.67" fill="#f4a68e"/>
<rect x="405.48" y="343.50" width="1.83" height="19.67" fill="#f5af99"/>
<rect x="405.48" y="362.87" width="1.83" height="19.67" fill="#ac97d3"/>
<rect x="405.48" y="382.23" width="1.83" height="19.37" fill="#fad9cc"/>
<rect x="406.95" y="215.00" width="1.83" height="9.60" fill="#dc6078"/>
<rect x="406.95" y="246.67" width="1.83" height="19.67" fill="#f9e2da"/>
<rect x="406.95" y="266.03" width="1.83" height="19.67" fill="#fad9cd"/>
<rect x="406.95" y="285.40" width="1.83" height="19.67" fill="#f7bda9"/>
<rect x="406.95" y="304.77" width="1.83" height="19.67" fill="#f6b9a4"/>
<rect x="406.95" y="324.13" width="1.83" height="19.67" fill="#e85d42"/>
<rect x="406.95" y="343.50" width="1.83" height="19.67" fill="#f9d3c5"/>
<rect x="406.95" y="362.87" width="1.83" height="19.67" fill="#efe8f3"/>
<rect x="406.95" y="382.23" width="1.83" height="19.37" fill="#f6b7a2"/>
<rect x="408.43" y="215.00" width="1.83" height="9.60" fill="#c7203c"/>
<rect x="408.43" y="246.67" width="1.83" height="19.67" fill="#f5a992"/>
<rect x="408.43" y="266.03" width="1.83" height="19.67" fill="#f2967c"/>
<rect x="408.43" y="285.40" width="1.83" height="19.67" fill="#f5b09a"/>
<rect x="408.43" y="304.77" width="1.83" height="19.67" fill="#f7bfac"/>
<rect x="408.43" y="324.13" width="1.83" height="19.67" fill="#f4a48b"/>
<rect x="408.43" y="343.50" width="1.83" height="19.67" fill="#f18d72"/>
<rect x="408.43" y="362.87" width="1.83" height="19.67" fill="#a38dce"/>
<rect x="408.43" y="382.23" width="1.83" height="19.37" fill="#f8c7b5"/>
<rect x="409.90" y="215.00" width="1.83" height="9.60" fill="#c7203c"/>
<rect x="409.90" y="246.67" width="1.83" height="19.67" fill="#c5b4e0"/>
<rect x="409.90" y="266.03" width="1.83" height="19.67" fill="#f7bda9"/>
<rect x="409.90" y="285.40" width="1.83" height="19.67" fill="#f7baa6"/>
<rect x="409.90" y="304.77" width="1.83" height="19.67" fill="#f39d83"/>
<rect x="409.90" y="324.13" width="1.83" height="19.67" fill="#f8c9b8"/>
<rect x="409.90" y="343.50" width="1.83" height="19.67" fill="#f5ad96"/>
<rect x="409.90" y="362.87" width="1.83" height="19.67" fill="#af9ad5"/>
<rect x="409.90" y="382.23" width="1.83" height="19.37" fill="#fae0d6"/>
<rect x="411.38" y="215.00" width="1.83" height="9.60" fill="#c7203c"/>
<rect x="411.38" y="246.67" width="1.83" height="19.67" fill="#b7a4d9"/>
<rect x="411.38" y="266.03" width="1.83" height="19.67" fill="#f4a890"/>
<rect x="411.38" y="285.40" width="1.83" height="19.67" fill="#f8c5b3"/>
<rect x="411.38" y="304.77" width="1.83" height="19.67" fill="#f6b7a2"/>
<rect x="411.38" y="324.13" width="1.83" height="19.67" fill="#f2967c"/>
<rect x="411.38" y="343.50" width="1.83" height="19.67" fill="#f8c4b2"/>
<rect x="411.38" y="362.87" width="1.83" height="19.67" fill="#f1eaf3"/>
<rect x="411.38" y="382.23" width="1.83" height="19.37" fill="#fad9cd"/>
<rect x="412.85" y="215.00" width="1.83" height="9.60" fill="#eab0bc"/>
<rect x="412.85" y="246.67" width="1.83" height="19.67" fill="#e0d4ec"/>
<rect x="412.85" y="266.03" width="1.83" height="19.67" fill="#f7c0ad"/>
<rect x="412.85" y="285.40" width="1.83" height="19.67" fill="#f39b82"/>
<rect x="412.85" y="304.77" width="1.83" height="19.67" fill="#f29379"/>
<rect x="412.85" y="324.13" width="1.83" height="19.67" fill="#f4a991"/>
<rect x="412.85" y="343.50" width="1.83" height="19.67" fill="#f2997f"/>
<rect x="412.85" y="362.87" width="1.83" height="19.67" fill="#e2d7ed"/>
<rect x="412.85" y="382.23" width="1.83" height="19.37" fill="#f0856a"/>
<rect x="414.32" y="215.00" width="1.83" height="9.60" fill="#c7203c"/>
<rect x="414.32" y="246.67" width="1.83" height="19.67" fill="#c2b0de"/>
<rect x="414.32" y="266.03" width="1.83" height="19.67" fill="#f2997f"/>
<rect x="414.32" y="285.40" width="1.83" height="19.67" fill="#f9e5e0"/>
<rect x="414.32" y="304.77" width="1.83" height="19.67" fill="#f7baa5"/>
<rect x="414.32" y="324.13" width="1.83" height="19.67" fill="#f7c0ad"/>
<rect x="414.32" y="343.50" width="1.83" height="19.67" fill="#f6b9a4"/>
<rect x="414.32" y="362.87" width="1.83" height="19.67" fill="#e5daee"/>
<rect x="414.32" y="382.23" width="1.83" height="19.37" fill="#f7bda9"/>
<defs><linearGradient id="gmABC" x1="0" x2="1" y1="0" y2="0"><stop offset="0.000" stop-color="#ee7a5f"/><stop offset="0.042" stop-color="#ee7c61"/><stop offset="0.083" stop-color="#ee7e62"/><stop offset="0.125" stop-color="#ee7f64"/><stop offset="0.167" stop-color="#ef8165"/><stop offset="0.208" stop-color="#ef8267"/><stop offset="0.250" stop-color="#ef8468"/><stop offset="0.292" stop-color="#f0856a"/><stop offset="0.333" stop-color="#f0876b"/><stop offset="0.375" stop-color="#f0896d"/><stop offset="0.417" stop-color="#f08a6e"/><stop offset="0.458" stop-color="#f08c70"/><stop offset="0.500" stop-color="#f18d72"/><stop offset="0.542" stop-color="#f18f74"/><stop offset="0.583" stop-color="#f19075"/><stop offset="0.625" stop-color="#f2997f"/><stop offset="0.667" stop-color="#f4a68e"/><stop offset="0.708" stop-color="#f6b39d"/><stop offset="0.750" stop-color="#f7c0ae"/><stop offset="0.792" stop-color="#f9cebe"/><stop offset="0.833" stop-color="#fadbcf"/><stop offset="0.875" stop-color="#f9e9e6"/><stop offset="0.917" stop-color="#eee5f2"/><stop offset="0.958" stop-color="#d4c6e8"/><stop offset="1.000" stop-color="#bdaadc"/></linearGradient></defs>
<rect x="374.50" y="227.30" width="41.30" height="19.67" fill="url(#gmABC)"/>
<text x="70.8" y="239.88" font-size="8.2" font-style="italic" text-anchor="end" fill="#231f20">IGHM</text>
<text x="70.8" y="259.25" font-size="8.2" font-style="italic" text-anchor="end" fill="#231f20">IGHD</text>
<text x="70.8" y="278.62" font-size="8.2" font-style="italic" text-anchor="end" fill="#231f20">IGHG3</text>
<text x="70.8" y="297.98" font-size="8.2" font-style="italic" text-anchor="end" fill="#231f20">IGHG1</text>
<text x="70.8" y="317.35" font-size="8.2" font-style="italic" text-anchor="end" fill="#231f20">IGHA1</text>
<text x="70.8" y="336.72" font-size="8.2" font-style="italic" text-anchor="end" fill="#231f20">IGHG2</text>
<text x="70.8" y="356.08" font-size="8.2" font-style="italic" text-anchor="end" fill="#231f20">IGHG4</text>
<text x="70.8" y="375.45" font-size="8.2" font-style="italic" text-anchor="end" fill="#231f20">IGHE</text>
<text x="70.8" y="394.82" font-size="8.2" font-style="italic" text-anchor="end" fill="#231f20">IGHA2</text>
<text x="417.40" y="222.90" font-size="7.8" fill="#2b2b2b">CSR</text>
<defs><linearGradient id="gC" x1="0" x2="0" y1="0" y2="1"><stop offset="0" stop-color="#e01a1a"/><stop offset="0.2" stop-color="#e2261c"/><stop offset="0.25" stop-color="#e6462a"/><stop offset="0.33" stop-color="#f08e70"/><stop offset="0.42" stop-color="#f8d2c4"/><stop offset="0.5" stop-color="#f4f0f4"/><stop offset="0.58" stop-color="#c4b6e0"/><stop offset="0.67" stop-color="#7a64c0"/><stop offset="0.74" stop-color="#3e2c9c"/><stop offset="1" stop-color="#36259a"/></linearGradient></defs>
<rect x="429.00" y="260.40" width="9.00" height="108.00" fill="url(#gC)"/>
<line x1="429.00" y1="262.70" x2="430.60" y2="262.70" stroke="#ffffff" stroke-width="0.8"/>
<line x1="436.40" y1="262.70" x2="438.00" y2="262.70" stroke="#ffffff" stroke-width="0.8"/>
<text x="439.60" y="265.70" font-size="8.2" fill="#231f20">4</text>
<line x1="429.00" y1="288.65" x2="430.60" y2="288.65" stroke="#ffffff" stroke-width="0.8"/>
<line x1="436.40" y1="288.65" x2="438.00" y2="288.65" stroke="#ffffff" stroke-width="0.8"/>
<text x="439.60" y="291.65" font-size="8.2" fill="#231f20">2</text>
<line x1="429.00" y1="314.60" x2="430.60" y2="314.60" stroke="#ffffff" stroke-width="0.8"/>
<line x1="436.40" y1="314.60" x2="438.00" y2="314.60" stroke="#ffffff" stroke-width="0.8"/>
<text x="439.60" y="317.60" font-size="8.2" fill="#231f20">0</text>
<line x1="429.00" y1="340.55" x2="430.60" y2="340.55" stroke="#ffffff" stroke-width="0.8"/>
<line x1="436.40" y1="340.55" x2="438.00" y2="340.55" stroke="#ffffff" stroke-width="0.8"/>
<text x="439.60" y="343.55" font-size="8.2" fill="#231f20">−2</text>
<line x1="429.00" y1="366.50" x2="430.60" y2="366.50" stroke="#ffffff" stroke-width="0.8"/>
<line x1="436.40" y1="366.50" x2="438.00" y2="366.50" stroke="#ffffff" stroke-width="0.8"/>
<text x="439.60" y="369.50" font-size="8.2" fill="#231f20">−4</text>
<text transform="translate(424.9,313.5) rotate(-90)" font-size="8.2" text-anchor="middle" textLength="77" lengthAdjust="spacingAndGlyphs" fill="#231f20">Normalized expression</text>
<text x="454.40" y="266.00" font-size="8.0" fill="#2b2b2b">CSR</text>
<rect x="454.30" y="272.00" width="6.00" height="6.00" fill="#1e5d96"/>
<text x="463.60" y="278.00" font-size="8.2" fill="#231f20">No</text>
<rect x="454.30" y="283.50" width="6.00" height="6.00" fill="#c7203c"/>
<text x="463.60" y="289.50" font-size="8.2" fill="#231f20">Yes</text>
<text x="7.20" y="425.80" font-size="11.4" font-weight="bold" fill="#000" stroke="#000" stroke-width="0.35">D</text>
<line x1="32.60" y1="434.25" x2="35.20" y2="434.25" stroke="#231f20" stroke-width="0.9"/>
<text x="29.20" y="437.25" font-size="8.4" text-anchor="end" fill="#231f20">20</text>
<line x1="33.60" y1="447.42" x2="35.20" y2="447.42" stroke="#231f20" stroke-width="0.9"/>
<line x1="32.60" y1="460.58" x2="35.20" y2="460.58" stroke="#231f20" stroke-width="0.9"/>
<text x="29.20" y="463.58" font-size="8.4" text-anchor="end" fill="#231f20">15</text>
<line x1="33.60" y1="473.75" x2="35.20" y2="473.75" stroke="#231f20" stroke-width="0.9"/>
<line x1="32.60" y1="486.92" x2="35.20" y2="486.92" stroke="#231f20" stroke-width="0.9"/>
<text x="29.20" y="489.92" font-size="8.4" text-anchor="end" fill="#231f20">10</text>
<line x1="33.60" y1="500.09" x2="35.20" y2="500.09" stroke="#231f20" stroke-width="0.9"/>
<line x1="32.60" y1="513.25" x2="35.20" y2="513.25" stroke="#231f20" stroke-width="0.9"/>
<text x="29.20" y="516.25" font-size="8.4" text-anchor="end" fill="#231f20">5</text>
<rect x="35.20" y="429.70" width="87.80" height="94.80" fill="none" stroke="#231f20" stroke-width="1.1"/>
<text x="79.75" y="425.6" font-size="9.3" font-style="italic" text-anchor="middle" textLength="29.3" lengthAdjust="spacingAndGlyphs" fill="#231f20">AICDA</text>
<line x1="96.20" y1="433.50" x2="112.90" y2="433.50" stroke="#58595b" stroke-width="1.0"/>
<text x="104.55" y="434.10" font-size="7.4" text-anchor="middle" fill="#3a3a3a">****</text>
<line x1="79.50" y1="438.50" x2="112.90" y2="438.50" stroke="#58595b" stroke-width="1.0"/>
<text x="96.20" y="439.10" font-size="7.4" text-anchor="middle" fill="#3a3a3a">****</text>
<line x1="62.50" y1="444.50" x2="112.90" y2="444.50" stroke="#58595b" stroke-width="1.0"/>
<text x="87.70" y="445.10" font-size="7.4" text-anchor="middle" fill="#3a3a3a">****</text>
<line x1="45.70" y1="454.50" x2="112.90" y2="454.50" stroke="#58595b" stroke-width="1.0"/>
<text x="79.30" y="455.10" font-size="7.4" text-anchor="middle" fill="#3a3a3a">*</text>
<line x1="45.70" y1="458.50" x2="96.20" y2="458.50" stroke="#58595b" stroke-width="1.0"/>
<text x="70.95" y="459.10" font-size="7.4" text-anchor="middle" fill="#3a3a3a">****</text>
<line x1="45.70" y1="462.50" x2="79.50" y2="462.50" stroke="#58595b" stroke-width="1.0"/>
<text x="62.60" y="463.10" font-size="7.4" text-anchor="middle" fill="#3a3a3a">****</text>
<line x1="45.70" y1="466.50" x2="62.50" y2="466.50" stroke="#58595b" stroke-width="1.0"/>
<text x="54.10" y="467.10" font-size="7.4" text-anchor="middle" fill="#3a3a3a">****</text>
<rect x="39.00" y="485.00" width="12.90" height="8.60" fill="#c9b2e2"/>
<line x1="45.70" y1="476.00" x2="45.70" y2="507.40" stroke="#6a4a9a" stroke-width="1.0"/>
<circle cx="45.8" cy="476.7" r="0.85" fill="#8d60c4"/>
<circle cx="45.8" cy="478.1" r="0.85" fill="#8d60c4"/>
<circle cx="46.6" cy="478.1" r="0.85" fill="#8d60c4"/>
<circle cx="43.7" cy="479.0" r="0.85" fill="#8d60c4"/>
<circle cx="45.5" cy="479.2" r="0.85" fill="#8d60c4"/>
<circle cx="47.6" cy="479.1" r="0.85" fill="#8d60c4"/>
<circle cx="42.4" cy="480.7" r="0.85" fill="#8d60c4"/>
<circle cx="44.1" cy="480.4" r="0.85" fill="#8d60c4"/>
<circle cx="45.5" cy="480.3" r="0.85" fill="#8d60c4"/>
<circle cx="47.3" cy="480.4" r="0.85" fill="#8d60c4"/>
<circle cx="50.0" cy="480.9" r="0.85" fill="#8d60c4"/>
<circle cx="40.3" cy="481.8" r="0.85" fill="#8d60c4"/>
<circle cx="42.1" cy="482.2" r="0.85" fill="#8d60c4"/>
<circle cx="43.7" cy="481.9" r="0.85" fill="#8d60c4"/>
<circle cx="45.5" cy="481.7" r="0.85" fill="#8d60c4"/>
<circle cx="47.6" cy="481.6" r="0.85" fill="#8d60c4"/>
<circle cx="49.3" cy="481.8" r="0.85" fill="#8d60c4"/>
<circle cx="51.2" cy="481.8" r="0.85" fill="#8d60c4"/>
<circle cx="40.6" cy="483.0" r="0.85" fill="#8d60c4"/>
<circle cx="44.1" cy="483.5" r="0.85" fill="#8d60c4"/>
<circle cx="45.9" cy="483.2" r="0.85" fill="#8d60c4"/>
<circle cx="47.2" cy="483.0" r="0.85" fill="#8d60c4"/>
<circle cx="49.5" cy="483.1" r="0.85" fill="#8d60c4"/>
<circle cx="51.2" cy="483.6" r="0.85" fill="#8d60c4"/>
<circle cx="51.8" cy="483.3" r="0.85" fill="#8d60c4"/>
<circle cx="39.2" cy="484.8" r="0.85" fill="#8d60c4"/>
<circle cx="41.5" cy="484.4" r="0.85" fill="#8d60c4"/>
<circle cx="42.8" cy="484.6" r="0.85" fill="#8d60c4"/>
<circle cx="45.1" cy="484.6" r="0.85" fill="#8d60c4"/>
<circle cx="46.6" cy="484.5" r="0.85" fill="#8d60c4"/>
<circle cx="48.2" cy="484.4" r="0.85" fill="#8d60c4"/>
<circle cx="50.3" cy="485.0" r="0.85" fill="#8d60c4"/>
<circle cx="51.7" cy="485.0" r="0.85" fill="#8d60c4"/>
<circle cx="40.2" cy="485.9" r="0.85" fill="#8d60c4"/>
<circle cx="42.3" cy="486.0" r="0.85" fill="#8d60c4"/>
<circle cx="43.6" cy="486.3" r="0.85" fill="#8d60c4"/>
<circle cx="45.7" cy="486.2" r="0.85" fill="#8d60c4"/>
<circle cx="47.6" cy="486.3" r="0.85" fill="#8d60c4"/>
<circle cx="49.5" cy="485.8" r="0.85" fill="#8d60c4"/>
<circle cx="50.9" cy="486.2" r="0.85" fill="#8d60c4"/>
<circle cx="52.0" cy="486.3" r="0.85" fill="#8d60c4"/>
<circle cx="39.8" cy="487.4" r="0.85" fill="#8d60c4"/>
<circle cx="41.5" cy="487.4" r="0.85" fill="#8d60c4"/>
<circle cx="43.0" cy="487.2" r="0.85" fill="#8d60c4"/>
<circle cx="45.1" cy="487.7" r="0.85" fill="#8d60c4"/>
<circle cx="46.6" cy="487.3" r="0.85" fill="#8d60c4"/>
<circle cx="48.2" cy="487.5" r="0.85" fill="#8d60c4"/>
<circle cx="50.0" cy="487.6" r="0.85" fill="#8d60c4"/>
<circle cx="52.0" cy="487.5" r="0.85" fill="#8d60c4"/>
<circle cx="40.7" cy="488.9" r="0.85" fill="#8d60c4"/>
<circle cx="42.8" cy="488.9" r="0.85" fill="#8d60c4"/>
<circle cx="44.6" cy="489.0" r="0.85" fill="#8d60c4"/>
<circle cx="46.7" cy="488.4" r="0.85" fill="#8d60c4"/>
<circle cx="48.5" cy="488.8" r="0.85" fill="#8d60c4"/>
<circle cx="50.8" cy="488.8" r="0.85" fill="#8d60c4"/>
<circle cx="51.5" cy="488.8" r="0.85" fill="#8d60c4"/>
<circle cx="40.3" cy="490.0" r="0.85" fill="#8d60c4"/>
<circle cx="42.2" cy="490.2" r="0.85" fill="#8d60c4"/>
<circle cx="47.6" cy="489.9" r="0.85" fill="#8d60c4"/>
<circle cx="49.7" cy="490.1" r="0.85" fill="#8d60c4"/>
<circle cx="51.4" cy="490.2" r="0.85" fill="#8d60c4"/>
<circle cx="41.5" cy="491.5" r="0.85" fill="#8d60c4"/>
<circle cx="43.0" cy="491.5" r="0.85" fill="#8d60c4"/>
<circle cx="44.9" cy="491.6" r="0.85" fill="#8d60c4"/>
<circle cx="46.4" cy="491.4" r="0.85" fill="#8d60c4"/>
<circle cx="48.2" cy="491.6" r="0.85" fill="#8d60c4"/>
<circle cx="49.8" cy="491.4" r="0.85" fill="#8d60c4"/>
<circle cx="50.7" cy="491.2" r="0.85" fill="#8d60c4"/>
<circle cx="40.9" cy="492.6" r="0.85" fill="#8d60c4"/>
<circle cx="42.9" cy="492.7" r="0.85" fill="#8d60c4"/>
<circle cx="44.8" cy="492.7" r="0.85" fill="#8d60c4"/>
<circle cx="46.3" cy="492.8" r="0.85" fill="#8d60c4"/>
<circle cx="48.4" cy="492.6" r="0.85" fill="#8d60c4"/>
<circle cx="50.3" cy="492.5" r="0.85" fill="#8d60c4"/>
<circle cx="42.5" cy="494.2" r="0.85" fill="#8d60c4"/>
<circle cx="44.8" cy="494.5" r="0.85" fill="#8d60c4"/>
<circle cx="46.6" cy="494.4" r="0.85" fill="#8d60c4"/>
<circle cx="48.6" cy="494.0" r="0.85" fill="#8d60c4"/>
<circle cx="49.7" cy="494.5" r="0.85" fill="#8d60c4"/>
<circle cx="44.6" cy="495.8" r="0.85" fill="#8d60c4"/>
<circle cx="46.5" cy="495.6" r="0.85" fill="#8d60c4"/>
<circle cx="48.7" cy="495.6" r="0.85" fill="#8d60c4"/>
<circle cx="43.9" cy="496.9" r="0.85" fill="#8d60c4"/>
<circle cx="45.6" cy="497.2" r="0.85" fill="#8d60c4"/>
<circle cx="47.8" cy="497.1" r="0.85" fill="#8d60c4"/>
<circle cx="48.2" cy="497.2" r="0.85" fill="#8d60c4"/>
<circle cx="43.7" cy="498.2" r="0.85" fill="#8d60c4"/>
<circle cx="47.5" cy="498.2" r="0.85" fill="#8d60c4"/>
<circle cx="45.8" cy="499.6" r="0.85" fill="#8d60c4"/>
<circle cx="47.0" cy="499.8" r="0.85" fill="#8d60c4"/>
<circle cx="45.7" cy="500.8" r="0.85" fill="#8d60c4"/>
<circle cx="45.9" cy="502.2" r="0.85" fill="#8d60c4"/>
<circle cx="45.5" cy="504.0" r="0.85" fill="#8d60c4"/>
<circle cx="45.8" cy="505.0" r="0.85" fill="#8d60c4"/>
<circle cx="45.8" cy="506.6" r="0.85" fill="#8d60c4"/>
<line x1="39.00" y1="488.40" x2="51.90" y2="488.40" stroke="#6a44a8" stroke-width="1.0"/>
<rect x="56.20" y="492.70" width="12.60" height="13.00" fill="#f7c0ae"/>
<line x1="62.50" y1="480.60" x2="62.50" y2="520.00" stroke="#7a3a2a" stroke-width="1.0"/>
<circle cx="57.0" cy="493.4" r="0.6" fill="#e8785c"/>
<circle cx="59.2" cy="493.5" r="0.6" fill="#e8785c"/>
<circle cx="62.0" cy="493.6" r="0.6" fill="#e8785c"/>
<circle cx="63.0" cy="493.5" r="0.6" fill="#e8785c"/>
<circle cx="68.3" cy="493.5" r="0.6" fill="#e8785c"/>
<circle cx="63.7" cy="494.7" r="0.6" fill="#e8785c"/>
<circle cx="64.9" cy="494.7" r="0.6" fill="#e8785c"/>
<circle cx="66.5" cy="494.6" r="0.6" fill="#e8785c"/>
<circle cx="67.4" cy="494.7" r="0.6" fill="#e8785c"/>
<circle cx="56.8" cy="495.6" r="0.6" fill="#e8785c"/>
<circle cx="59.1" cy="495.6" r="0.6" fill="#e8785c"/>
<circle cx="61.7" cy="495.7" r="0.6" fill="#e8785c"/>
<circle cx="65.8" cy="495.8" r="0.6" fill="#e8785c"/>
<circle cx="57.7" cy="496.4" r="0.6" fill="#e8785c"/>
<circle cx="62.4" cy="496.8" r="0.6" fill="#e8785c"/>
<circle cx="63.8" cy="496.5" r="0.6" fill="#e8785c"/>
<circle cx="65.1" cy="496.3" r="0.6" fill="#e8785c"/>
<circle cx="66.2" cy="496.3" r="0.6" fill="#e8785c"/>
<circle cx="67.6" cy="496.7" r="0.6" fill="#e8785c"/>
<circle cx="56.8" cy="497.5" r="0.6" fill="#e8785c"/>
<circle cx="61.6" cy="497.7" r="0.6" fill="#e8785c"/>
<circle cx="63.2" cy="497.6" r="0.6" fill="#e8785c"/>
<circle cx="68.2" cy="497.4" r="0.6" fill="#e8785c"/>
<circle cx="59.8" cy="498.5" r="0.6" fill="#e8785c"/>
<circle cx="62.6" cy="498.7" r="0.6" fill="#e8785c"/>
<circle cx="63.9" cy="498.4" r="0.6" fill="#e8785c"/>
<circle cx="65.1" cy="498.4" r="0.6" fill="#e8785c"/>
<circle cx="68.3" cy="498.3" r="0.6" fill="#e8785c"/>
<circle cx="57.9" cy="499.9" r="0.6" fill="#e8785c"/>
<circle cx="60.4" cy="499.9" r="0.6" fill="#e8785c"/>
<circle cx="64.5" cy="499.5" r="0.6" fill="#e8785c"/>
<circle cx="65.5" cy="499.7" r="0.6" fill="#e8785c"/>
<circle cx="66.8" cy="499.4" r="0.6" fill="#e8785c"/>
<circle cx="60.2" cy="500.7" r="0.6" fill="#e8785c"/>
<circle cx="64.8" cy="500.4" r="0.6" fill="#e8785c"/>
<circle cx="66.0" cy="500.9" r="0.6" fill="#e8785c"/>
<circle cx="56.8" cy="501.9" r="0.6" fill="#e8785c"/>
<circle cx="59.3" cy="501.4" r="0.6" fill="#e8785c"/>
<circle cx="60.4" cy="501.6" r="0.6" fill="#e8785c"/>
<circle cx="62.1" cy="501.5" r="0.6" fill="#e8785c"/>
<circle cx="63.0" cy="501.5" r="0.6" fill="#e8785c"/>
<circle cx="64.2" cy="501.6" r="0.6" fill="#e8785c"/>
<circle cx="65.9" cy="501.6" r="0.6" fill="#e8785c"/>
<circle cx="61.3" cy="502.6" r="0.6" fill="#e8785c"/>
<circle cx="64.8" cy="502.4" r="0.6" fill="#e8785c"/>
<circle cx="66.0" cy="502.6" r="0.6" fill="#e8785c"/>
<circle cx="68.1" cy="502.7" r="0.6" fill="#e8785c"/>
<circle cx="57.0" cy="503.8" r="0.6" fill="#e8785c"/>
<circle cx="57.9" cy="503.8" r="0.6" fill="#e8785c"/>
<circle cx="62.2" cy="503.4" r="0.6" fill="#e8785c"/>
<circle cx="63.3" cy="503.6" r="0.6" fill="#e8785c"/>
<circle cx="64.4" cy="504.0" r="0.6" fill="#e8785c"/>
<circle cx="66.7" cy="503.4" r="0.6" fill="#e8785c"/>
<circle cx="59.8" cy="504.5" r="0.6" fill="#e8785c"/>
<circle cx="61.0" cy="504.6" r="0.6" fill="#e8785c"/>
<circle cx="62.4" cy="504.5" r="0.6" fill="#e8785c"/>
<circle cx="64.0" cy="504.5" r="0.6" fill="#e8785c"/>
<circle cx="66.3" cy="504.5" r="0.6" fill="#e8785c"/>
<circle cx="67.3" cy="504.7" r="0.6" fill="#e8785c"/>
<circle cx="63.0" cy="482.3" r="0.6" fill="#e8785c"/>
<circle cx="64.1" cy="483.5" r="0.6" fill="#e8785c"/>
<circle cx="62.5" cy="484.7" r="0.6" fill="#e8785c"/>
<circle cx="63.6" cy="484.4" r="0.6" fill="#e8785c"/>
<circle cx="64.7" cy="484.7" r="0.6" fill="#e8785c"/>
<circle cx="60.0" cy="485.4" r="0.6" fill="#e8785c"/>
<circle cx="61.5" cy="485.6" r="0.6" fill="#e8785c"/>
<circle cx="64.5" cy="485.8" r="0.6" fill="#e8785c"/>
<circle cx="60.3" cy="486.7" r="0.6" fill="#e8785c"/>
<circle cx="61.6" cy="486.8" r="0.6" fill="#e8785c"/>
<circle cx="63.3" cy="486.8" r="0.6" fill="#e8785c"/>
<circle cx="62.7" cy="488.0" r="0.6" fill="#e8785c"/>
<circle cx="61.4" cy="489.0" r="0.6" fill="#e8785c"/>
<circle cx="62.2" cy="488.9" r="0.6" fill="#e8785c"/>
<circle cx="63.9" cy="489.0" r="0.6" fill="#e8785c"/>
<circle cx="65.2" cy="489.1" r="0.6" fill="#e8785c"/>
<circle cx="65.5" cy="488.9" r="0.6" fill="#e8785c"/>
<circle cx="59.2" cy="490.5" r="0.6" fill="#e8785c"/>
<circle cx="61.8" cy="490.1" r="0.6" fill="#e8785c"/>
<circle cx="62.9" cy="490.3" r="0.6" fill="#e8785c"/>
<circle cx="59.3" cy="491.2" r="0.6" fill="#e8785c"/>
<circle cx="62.1" cy="491.5" r="0.6" fill="#e8785c"/>
<circle cx="63.0" cy="491.6" r="0.6" fill="#e8785c"/>
<circle cx="65.7" cy="491.5" r="0.6" fill="#e8785c"/>
<circle cx="62.7" cy="506.9" r="0.6" fill="#e8785c"/>
<circle cx="64.1" cy="506.6" r="0.6" fill="#e8785c"/>
<circle cx="60.9" cy="507.9" r="0.6" fill="#e8785c"/>
<circle cx="62.5" cy="508.0" r="0.6" fill="#e8785c"/>
<circle cx="65.3" cy="507.9" r="0.6" fill="#e8785c"/>
<circle cx="63.0" cy="509.4" r="0.6" fill="#e8785c"/>
<circle cx="65.7" cy="508.9" r="0.6" fill="#e8785c"/>
<circle cx="62.7" cy="510.2" r="0.6" fill="#e8785c"/>
<circle cx="60.8" cy="511.5" r="0.6" fill="#e8785c"/>
<circle cx="63.9" cy="511.4" r="0.6" fill="#e8785c"/>
<circle cx="65.3" cy="511.4" r="0.6" fill="#e8785c"/>
<circle cx="63.5" cy="512.8" r="0.6" fill="#e8785c"/>
<circle cx="63.8" cy="513.8" r="0.6" fill="#e8785c"/>
<circle cx="60.8" cy="514.6" r="0.6" fill="#e8785c"/>
<circle cx="62.5" cy="515.0" r="0.6" fill="#e8785c"/>
<circle cx="64.9" cy="514.7" r="0.6" fill="#e8785c"/>
<circle cx="62.0" cy="516.1" r="0.6" fill="#e8785c"/>
<circle cx="63.3" cy="518.5" r="0.6" fill="#e8785c"/>
<circle cx="62.8" cy="519.5" r="0.6" fill="#e8785c"/>
<line x1="56.20" y1="500.90" x2="68.80" y2="500.90" stroke="#140808" stroke-width="1.5"/>
<rect x="73.20" y="490.40" width="12.70" height="15.90" fill="#f8c270"/>
<line x1="79.50" y1="474.50" x2="79.50" y2="520.00" stroke="#7a4a10" stroke-width="1.0"/>
<circle cx="73.5" cy="491.1" r="0.62" fill="#f4a032"/>
<circle cx="75.1" cy="491.4" r="0.62" fill="#f4a032"/>
<circle cx="78.6" cy="491.3" r="0.62" fill="#f4a032"/>
<circle cx="80.3" cy="491.1" r="0.62" fill="#f4a032"/>
<circle cx="82.6" cy="491.1" r="0.62" fill="#f4a032"/>
<circle cx="74.5" cy="492.4" r="0.62" fill="#f4a032"/>
<circle cx="75.4" cy="492.3" r="0.62" fill="#f4a032"/>
<circle cx="80.7" cy="492.3" r="0.62" fill="#f4a032"/>
<circle cx="83.2" cy="492.3" r="0.62" fill="#f4a032"/>
<circle cx="84.9" cy="492.0" r="0.62" fill="#f4a032"/>
<circle cx="73.8" cy="493.1" r="0.62" fill="#f4a032"/>
<circle cx="75.1" cy="493.4" r="0.62" fill="#f4a032"/>
<circle cx="78.9" cy="493.5" r="0.62" fill="#f4a032"/>
<circle cx="81.6" cy="493.4" r="0.62" fill="#f4a032"/>
<circle cx="84.1" cy="493.5" r="0.62" fill="#f4a032"/>
<circle cx="85.0" cy="493.1" r="0.62" fill="#f4a032"/>
<circle cx="74.2" cy="494.2" r="0.62" fill="#f4a032"/>
<circle cx="77.1" cy="494.5" r="0.62" fill="#f4a032"/>
<circle cx="73.5" cy="495.2" r="0.62" fill="#f4a032"/>
<circle cx="75.0" cy="495.4" r="0.62" fill="#f4a032"/>
<circle cx="78.8" cy="495.4" r="0.62" fill="#f4a032"/>
<circle cx="79.9" cy="495.5" r="0.62" fill="#f4a032"/>
<circle cx="81.5" cy="495.4" r="0.62" fill="#f4a032"/>
<circle cx="85.4" cy="495.5" r="0.62" fill="#f4a032"/>
<circle cx="74.2" cy="496.5" r="0.62" fill="#f4a032"/>
<circle cx="75.8" cy="496.7" r="0.62" fill="#f4a032"/>
<circle cx="76.8" cy="496.5" r="0.62" fill="#f4a032"/>
<circle cx="80.6" cy="496.4" r="0.62" fill="#f4a032"/>
<circle cx="83.0" cy="496.4" r="0.62" fill="#f4a032"/>
<circle cx="84.7" cy="496.2" r="0.62" fill="#f4a032"/>
<circle cx="85.0" cy="496.5" r="0.62" fill="#f4a032"/>
<circle cx="75.0" cy="497.8" r="0.62" fill="#f4a032"/>
<circle cx="76.2" cy="497.7" r="0.62" fill="#f4a032"/>
<circle cx="77.8" cy="497.4" r="0.62" fill="#f4a032"/>
<circle cx="78.7" cy="497.5" r="0.62" fill="#f4a032"/>
<circle cx="80.1" cy="497.3" r="0.62" fill="#f4a032"/>
<circle cx="81.7" cy="497.5" r="0.62" fill="#f4a032"/>
<circle cx="82.4" cy="497.4" r="0.62" fill="#f4a032"/>
<circle cx="74.2" cy="498.5" r="0.62" fill="#f4a032"/>
<circle cx="77.0" cy="498.8" r="0.62" fill="#f4a032"/>
<circle cx="80.5" cy="498.7" r="0.62" fill="#f4a032"/>
<circle cx="82.3" cy="498.8" r="0.62" fill="#f4a032"/>
<circle cx="84.9" cy="498.7" r="0.62" fill="#f4a032"/>
<circle cx="74.0" cy="499.6" r="0.62" fill="#f4a032"/>
<circle cx="77.5" cy="499.5" r="0.62" fill="#f4a032"/>
<circle cx="78.7" cy="499.7" r="0.62" fill="#f4a032"/>
<circle cx="79.9" cy="499.6" r="0.62" fill="#f4a032"/>
<circle cx="81.3" cy="499.9" r="0.62" fill="#f4a032"/>
<circle cx="83.7" cy="499.8" r="0.62" fill="#f4a032"/>
<circle cx="74.2" cy="500.5" r="0.62" fill="#f4a032"/>
<circle cx="78.0" cy="500.6" r="0.62" fill="#f4a032"/>
<circle cx="79.7" cy="500.6" r="0.62" fill="#f4a032"/>
<circle cx="82.1" cy="501.0" r="0.62" fill="#f4a032"/>
<circle cx="84.3" cy="500.8" r="0.62" fill="#f4a032"/>
<circle cx="85.1" cy="500.7" r="0.62" fill="#f4a032"/>
<circle cx="74.1" cy="501.6" r="0.62" fill="#f4a032"/>
<circle cx="74.9" cy="501.8" r="0.62" fill="#f4a032"/>
<circle cx="77.6" cy="501.9" r="0.62" fill="#f4a032"/>
<circle cx="79.0" cy="501.7" r="0.62" fill="#f4a032"/>
<circle cx="80.2" cy="501.9" r="0.62" fill="#f4a032"/>
<circle cx="81.4" cy="501.5" r="0.62" fill="#f4a032"/>
<circle cx="82.6" cy="501.5" r="0.62" fill="#f4a032"/>
<circle cx="83.9" cy="501.8" r="0.62" fill="#f4a032"/>
<circle cx="74.4" cy="502.9" r="0.62" fill="#f4a032"/>
<circle cx="79.3" cy="503.1" r="0.62" fill="#f4a032"/>
<circle cx="80.7" cy="502.9" r="0.62" fill="#f4a032"/>
<circle cx="82.0" cy="503.0" r="0.62" fill="#f4a032"/>
<circle cx="83.3" cy="503.0" r="0.62" fill="#f4a032"/>
<circle cx="84.5" cy="502.8" r="0.62" fill="#f4a032"/>
<circle cx="85.0" cy="502.8" r="0.62" fill="#f4a032"/>
<circle cx="73.5" cy="503.8" r="0.62" fill="#f4a032"/>
<circle cx="75.3" cy="503.7" r="0.62" fill="#f4a032"/>
<circle cx="76.5" cy="504.0" r="0.62" fill="#f4a032"/>
<circle cx="77.8" cy="503.9" r="0.62" fill="#f4a032"/>
<circle cx="78.9" cy="503.7" r="0.62" fill="#f4a032"/>
<circle cx="80.4" cy="503.8" r="0.62" fill="#f4a032"/>
<circle cx="82.5" cy="503.6" r="0.62" fill="#f4a032"/>
<circle cx="84.9" cy="503.6" r="0.62" fill="#f4a032"/>
<circle cx="75.9" cy="504.6" r="0.62" fill="#f4a032"/>
<circle cx="76.7" cy="505.0" r="0.62" fill="#f4a032"/>
<circle cx="81.0" cy="504.7" r="0.62" fill="#f4a032"/>
<circle cx="82.2" cy="504.7" r="0.62" fill="#f4a032"/>
<circle cx="83.3" cy="505.0" r="0.62" fill="#f4a032"/>
<circle cx="79.6" cy="475.2" r="0.62" fill="#f4a032"/>
<circle cx="79.7" cy="476.0" r="0.62" fill="#f4a032"/>
<circle cx="80.0" cy="476.3" r="0.62" fill="#f4a032"/>
<circle cx="78.0" cy="478.4" r="0.62" fill="#f4a032"/>
<circle cx="80.6" cy="478.4" r="0.62" fill="#f4a032"/>
<circle cx="81.5" cy="478.6" r="0.62" fill="#f4a032"/>
<circle cx="78.6" cy="479.7" r="0.62" fill="#f4a032"/>
<circle cx="81.7" cy="480.0" r="0.62" fill="#f4a032"/>
<circle cx="77.8" cy="480.9" r="0.62" fill="#f4a032"/>
<circle cx="78.4" cy="482.3" r="0.62" fill="#f4a032"/>
<circle cx="79.3" cy="481.9" r="0.62" fill="#f4a032"/>
<circle cx="81.0" cy="481.9" r="0.62" fill="#f4a032"/>
<circle cx="80.4" cy="483.1" r="0.62" fill="#f4a032"/>
<circle cx="81.7" cy="483.5" r="0.62" fill="#f4a032"/>
<circle cx="76.8" cy="484.4" r="0.62" fill="#f4a032"/>
<circle cx="80.9" cy="484.3" r="0.62" fill="#f4a032"/>
<circle cx="82.2" cy="484.6" r="0.62" fill="#f4a032"/>
<circle cx="77.1" cy="485.3" r="0.62" fill="#f4a032"/>
<circle cx="78.0" cy="485.9" r="0.62" fill="#f4a032"/>
<circle cx="82.7" cy="485.4" r="0.62" fill="#f4a032"/>
<circle cx="76.1" cy="486.7" r="0.62" fill="#f4a032"/>
<circle cx="77.5" cy="487.0" r="0.62" fill="#f4a032"/>
<circle cx="81.7" cy="486.5" r="0.62" fill="#f4a032"/>
<circle cx="76.9" cy="488.0" r="0.62" fill="#f4a032"/>
<circle cx="77.9" cy="488.0" r="0.62" fill="#f4a032"/>
<circle cx="80.8" cy="488.0" r="0.62" fill="#f4a032"/>
<circle cx="83.2" cy="488.2" r="0.62" fill="#f4a032"/>
<circle cx="75.8" cy="489.2" r="0.62" fill="#f4a032"/>
<circle cx="76.7" cy="489.4" r="0.62" fill="#f4a032"/>
<circle cx="79.8" cy="489.2" r="0.62" fill="#f4a032"/>
<circle cx="82.2" cy="489.0" r="0.62" fill="#f4a032"/>
<circle cx="78.0" cy="507.6" r="0.62" fill="#f4a032"/>
<circle cx="81.1" cy="507.3" r="0.62" fill="#f4a032"/>
<circle cx="81.8" cy="507.5" r="0.62" fill="#f4a032"/>
<circle cx="78.2" cy="508.4" r="0.62" fill="#f4a032"/>
<circle cx="80.8" cy="508.4" r="0.62" fill="#f4a032"/>
<circle cx="83.2" cy="508.6" r="0.62" fill="#f4a032"/>
<circle cx="82.7" cy="510.1" r="0.62" fill="#f4a032"/>
<circle cx="77.2" cy="511.0" r="0.62" fill="#f4a032"/>
<circle cx="80.3" cy="511.2" r="0.62" fill="#f4a032"/>
<circle cx="82.8" cy="510.9" r="0.62" fill="#f4a032"/>
<circle cx="79.7" cy="512.3" r="0.62" fill="#f4a032"/>
<circle cx="81.0" cy="512.2" r="0.62" fill="#f4a032"/>
<circle cx="80.1" cy="513.1" r="0.62" fill="#f4a032"/>
<circle cx="78.8" cy="514.6" r="0.62" fill="#f4a032"/>
<circle cx="80.1" cy="514.9" r="0.62" fill="#f4a032"/>
<circle cx="78.3" cy="515.8" r="0.62" fill="#f4a032"/>
<circle cx="79.6" cy="515.6" r="0.62" fill="#f4a032"/>
<circle cx="80.6" cy="515.8" r="0.62" fill="#f4a032"/>
<circle cx="81.1" cy="517.1" r="0.62" fill="#f4a032"/>
<circle cx="79.6" cy="518.3" r="0.62" fill="#f4a032"/>
<circle cx="80.5" cy="517.8" r="0.62" fill="#f4a032"/>
<circle cx="79.7" cy="519.1" r="0.62" fill="#f4a032"/>
<line x1="73.20" y1="496.70" x2="85.90" y2="496.70" stroke="#2a1404" stroke-width="1.5"/>
<rect x="90.10" y="487.20" width="12.20" height="20.10" fill="#b25a5a"/>
<line x1="96.20" y1="467.60" x2="96.20" y2="522.00" stroke="#4a0a0a" stroke-width="1.0"/>
<circle cx="90.5" cy="488.2" r="0.62" fill="#8c1a1a"/>
<circle cx="92.1" cy="488.0" r="0.62" fill="#8c1a1a"/>
<circle cx="94.9" cy="487.7" r="0.62" fill="#8c1a1a"/>
<circle cx="99.1" cy="488.1" r="0.62" fill="#8c1a1a"/>
<circle cx="91.2" cy="489.3" r="0.62" fill="#8c1a1a"/>
<circle cx="93.9" cy="489.0" r="0.62" fill="#8c1a1a"/>
<circle cx="95.4" cy="488.8" r="0.62" fill="#8c1a1a"/>
<circle cx="96.6" cy="489.0" r="0.62" fill="#8c1a1a"/>
<circle cx="98.4" cy="489.0" r="0.62" fill="#8c1a1a"/>
<circle cx="99.9" cy="489.3" r="0.62" fill="#8c1a1a"/>
<circle cx="101.6" cy="489.0" r="0.62" fill="#8c1a1a"/>
<circle cx="90.5" cy="490.1" r="0.62" fill="#8c1a1a"/>
<circle cx="91.6" cy="491.3" r="0.62" fill="#8c1a1a"/>
<circle cx="95.3" cy="491.1" r="0.62" fill="#8c1a1a"/>
<circle cx="97.0" cy="491.3" r="0.62" fill="#8c1a1a"/>
<circle cx="98.3" cy="491.4" r="0.62" fill="#8c1a1a"/>
<circle cx="99.3" cy="491.2" r="0.62" fill="#8c1a1a"/>
<circle cx="100.7" cy="491.0" r="0.62" fill="#8c1a1a"/>
<circle cx="101.4" cy="491.1" r="0.62" fill="#8c1a1a"/>
<circle cx="90.5" cy="492.2" r="0.62" fill="#8c1a1a"/>
<circle cx="95.1" cy="492.0" r="0.62" fill="#8c1a1a"/>
<circle cx="95.9" cy="492.0" r="0.62" fill="#8c1a1a"/>
<circle cx="97.7" cy="492.2" r="0.62" fill="#8c1a1a"/>
<circle cx="100.5" cy="492.3" r="0.62" fill="#8c1a1a"/>
<circle cx="101.4" cy="492.2" r="0.62" fill="#8c1a1a"/>
<circle cx="91.6" cy="493.1" r="0.62" fill="#8c1a1a"/>
<circle cx="93.0" cy="493.0" r="0.62" fill="#8c1a1a"/>
<circle cx="94.0" cy="493.4" r="0.62" fill="#8c1a1a"/>
<circle cx="95.3" cy="493.4" r="0.62" fill="#8c1a1a"/>
<circle cx="96.8" cy="493.5" r="0.62" fill="#8c1a1a"/>
<circle cx="99.7" cy="493.0" r="0.62" fill="#8c1a1a"/>
<circle cx="100.7" cy="493.4" r="0.62" fill="#8c1a1a"/>
<circle cx="90.5" cy="494.3" r="0.62" fill="#8c1a1a"/>
<circle cx="92.1" cy="494.1" r="0.62" fill="#8c1a1a"/>
<circle cx="93.5" cy="494.1" r="0.62" fill="#8c1a1a"/>
<circle cx="96.1" cy="494.1" r="0.62" fill="#8c1a1a"/>
<circle cx="97.8" cy="494.2" r="0.62" fill="#8c1a1a"/>
<circle cx="98.8" cy="494.6" r="0.62" fill="#8c1a1a"/>
<circle cx="100.2" cy="494.1" r="0.62" fill="#8c1a1a"/>
<circle cx="91.2" cy="495.6" r="0.62" fill="#8c1a1a"/>
<circle cx="92.9" cy="495.3" r="0.62" fill="#8c1a1a"/>
<circle cx="95.4" cy="495.2" r="0.62" fill="#8c1a1a"/>
<circle cx="97.1" cy="495.4" r="0.62" fill="#8c1a1a"/>
<circle cx="98.2" cy="495.6" r="0.62" fill="#8c1a1a"/>
<circle cx="99.6" cy="495.5" r="0.62" fill="#8c1a1a"/>
<circle cx="100.9" cy="495.3" r="0.62" fill="#8c1a1a"/>
<circle cx="101.6" cy="495.6" r="0.62" fill="#8c1a1a"/>
<circle cx="90.7" cy="496.5" r="0.62" fill="#8c1a1a"/>
<circle cx="91.9" cy="496.4" r="0.62" fill="#8c1a1a"/>
<circle cx="94.6" cy="496.6" r="0.62" fill="#8c1a1a"/>
<circle cx="97.3" cy="496.5" r="0.62" fill="#8c1a1a"/>
<circle cx="99.0" cy="496.2" r="0.62" fill="#8c1a1a"/>
<circle cx="100.1" cy="496.3" r="0.62" fill="#8c1a1a"/>
<circle cx="91.7" cy="497.7" r="0.62" fill="#8c1a1a"/>
<circle cx="93.0" cy="497.3" r="0.62" fill="#8c1a1a"/>
<circle cx="94.1" cy="497.6" r="0.62" fill="#8c1a1a"/>
<circle cx="95.8" cy="497.4" r="0.62" fill="#8c1a1a"/>
<circle cx="101.2" cy="497.8" r="0.62" fill="#8c1a1a"/>
<circle cx="101.8" cy="497.6" r="0.62" fill="#8c1a1a"/>
<circle cx="90.6" cy="498.3" r="0.62" fill="#8c1a1a"/>
<circle cx="92.4" cy="498.5" r="0.62" fill="#8c1a1a"/>
<circle cx="93.6" cy="498.5" r="0.62" fill="#8c1a1a"/>
<circle cx="94.8" cy="498.4" r="0.62" fill="#8c1a1a"/>
<circle cx="96.4" cy="498.6" r="0.62" fill="#8c1a1a"/>
<circle cx="97.6" cy="498.6" r="0.62" fill="#8c1a1a"/>
<circle cx="99.2" cy="498.7" r="0.62" fill="#8c1a1a"/>
<circle cx="100.2" cy="498.6" r="0.62" fill="#8c1a1a"/>
<circle cx="101.9" cy="498.3" r="0.62" fill="#8c1a1a"/>
<circle cx="91.3" cy="499.6" r="0.62" fill="#8c1a1a"/>
<circle cx="92.6" cy="499.9" r="0.62" fill="#8c1a1a"/>
<circle cx="95.5" cy="499.3" r="0.62" fill="#8c1a1a"/>
<circle cx="96.7" cy="499.9" r="0.62" fill="#8c1a1a"/>
<circle cx="98.1" cy="499.3" r="0.62" fill="#8c1a1a"/>
<circle cx="99.9" cy="499.7" r="0.62" fill="#8c1a1a"/>
<circle cx="91.9" cy="500.5" r="0.62" fill="#8c1a1a"/>
<circle cx="93.3" cy="500.8" r="0.62" fill="#8c1a1a"/>
<circle cx="94.6" cy="500.5" r="0.62" fill="#8c1a1a"/>
<circle cx="91.4" cy="501.7" r="0.62" fill="#8c1a1a"/>
<circle cx="92.5" cy="501.6" r="0.62" fill="#8c1a1a"/>
<circle cx="93.9" cy="501.5" r="0.62" fill="#8c1a1a"/>
<circle cx="95.4" cy="502.0" r="0.62" fill="#8c1a1a"/>
<circle cx="97.1" cy="501.8" r="0.62" fill="#8c1a1a"/>
<circle cx="98.1" cy="501.6" r="0.62" fill="#8c1a1a"/>
<circle cx="99.7" cy="501.9" r="0.62" fill="#8c1a1a"/>
<circle cx="101.4" cy="501.4" r="0.62" fill="#8c1a1a"/>
<circle cx="90.6" cy="502.5" r="0.62" fill="#8c1a1a"/>
<circle cx="92.0" cy="502.6" r="0.62" fill="#8c1a1a"/>
<circle cx="94.7" cy="502.9" r="0.62" fill="#8c1a1a"/>
<circle cx="96.5" cy="502.5" r="0.62" fill="#8c1a1a"/>
<circle cx="97.7" cy="502.9" r="0.62" fill="#8c1a1a"/>
<circle cx="99.1" cy="502.8" r="0.62" fill="#8c1a1a"/>
<circle cx="101.4" cy="502.7" r="0.62" fill="#8c1a1a"/>
<circle cx="91.2" cy="504.0" r="0.62" fill="#8c1a1a"/>
<circle cx="92.8" cy="503.8" r="0.62" fill="#8c1a1a"/>
<circle cx="95.6" cy="503.9" r="0.62" fill="#8c1a1a"/>
<circle cx="98.1" cy="503.8" r="0.62" fill="#8c1a1a"/>
<circle cx="99.7" cy="503.6" r="0.62" fill="#8c1a1a"/>
<circle cx="101.0" cy="503.6" r="0.62" fill="#8c1a1a"/>
<circle cx="101.9" cy="503.5" r="0.62" fill="#8c1a1a"/>
<circle cx="90.7" cy="504.6" r="0.62" fill="#8c1a1a"/>
<circle cx="91.9" cy="504.8" r="0.62" fill="#8c1a1a"/>
<circle cx="94.8" cy="505.0" r="0.62" fill="#8c1a1a"/>
<circle cx="95.9" cy="504.7" r="0.62" fill="#8c1a1a"/>
<circle cx="97.8" cy="504.8" r="0.62" fill="#8c1a1a"/>
<circle cx="98.9" cy="504.9" r="0.62" fill="#8c1a1a"/>
<circle cx="100.4" cy="505.0" r="0.62" fill="#8c1a1a"/>
<circle cx="101.6" cy="505.0" r="0.62" fill="#8c1a1a"/>
<circle cx="92.5" cy="505.9" r="0.62" fill="#8c1a1a"/>
<circle cx="95.6" cy="505.8" r="0.62" fill="#8c1a1a"/>
<circle cx="96.9" cy="506.0" r="0.62" fill="#8c1a1a"/>
<circle cx="96.3" cy="468.2" r="0.62" fill="#8c1a1a"/>
<circle cx="96.4" cy="469.1" r="0.62" fill="#8c1a1a"/>
<circle cx="97.6" cy="471.9" r="0.62" fill="#8c1a1a"/>
<circle cx="98.3" cy="471.9" r="0.62" fill="#8c1a1a"/>
<circle cx="94.3" cy="472.9" r="0.62" fill="#8c1a1a"/>
<circle cx="94.7" cy="474.1" r="0.62" fill="#8c1a1a"/>
<circle cx="95.4" cy="475.4" r="0.62" fill="#8c1a1a"/>
<circle cx="94.4" cy="476.4" r="0.62" fill="#8c1a1a"/>
<circle cx="94.3" cy="478.6" r="0.62" fill="#8c1a1a"/>
<circle cx="96.7" cy="479.0" r="0.62" fill="#8c1a1a"/>
<circle cx="98.2" cy="478.9" r="0.62" fill="#8c1a1a"/>
<circle cx="99.1" cy="478.7" r="0.62" fill="#8c1a1a"/>
<circle cx="96.1" cy="479.8" r="0.62" fill="#8c1a1a"/>
<circle cx="97.5" cy="479.7" r="0.62" fill="#8c1a1a"/>
<circle cx="99.3" cy="480.1" r="0.62" fill="#8c1a1a"/>
<circle cx="93.5" cy="480.9" r="0.62" fill="#8c1a1a"/>
<circle cx="97.5" cy="480.9" r="0.62" fill="#8c1a1a"/>
<circle cx="98.9" cy="480.8" r="0.62" fill="#8c1a1a"/>
<circle cx="99.6" cy="481.1" r="0.62" fill="#8c1a1a"/>
<circle cx="94.5" cy="482.0" r="0.62" fill="#8c1a1a"/>
<circle cx="96.6" cy="482.1" r="0.62" fill="#8c1a1a"/>
<circle cx="96.1" cy="483.4" r="0.62" fill="#8c1a1a"/>
<circle cx="100.0" cy="483.4" r="0.62" fill="#8c1a1a"/>
<circle cx="92.4" cy="484.5" r="0.62" fill="#8c1a1a"/>
<circle cx="97.2" cy="484.6" r="0.62" fill="#8c1a1a"/>
<circle cx="98.5" cy="484.4" r="0.62" fill="#8c1a1a"/>
<circle cx="99.6" cy="484.4" r="0.62" fill="#8c1a1a"/>
<circle cx="99.8" cy="485.5" r="0.62" fill="#8c1a1a"/>
<circle cx="92.3" cy="508.2" r="0.62" fill="#8c1a1a"/>
<circle cx="94.8" cy="508.4" r="0.62" fill="#8c1a1a"/>
<circle cx="97.7" cy="508.5" r="0.62" fill="#8c1a1a"/>
<circle cx="98.5" cy="508.7" r="0.62" fill="#8c1a1a"/>
<circle cx="93.5" cy="509.4" r="0.62" fill="#8c1a1a"/>
<circle cx="99.0" cy="509.9" r="0.62" fill="#8c1a1a"/>
<circle cx="92.7" cy="510.6" r="0.62" fill="#8c1a1a"/>
<circle cx="95.5" cy="511.1" r="0.62" fill="#8c1a1a"/>
<circle cx="93.9" cy="512.3" r="0.62" fill="#8c1a1a"/>
<circle cx="97.8" cy="511.9" r="0.62" fill="#8c1a1a"/>
<circle cx="96.1" cy="513.3" r="0.62" fill="#8c1a1a"/>
<circle cx="94.1" cy="514.3" r="0.62" fill="#8c1a1a"/>
<circle cx="95.4" cy="514.4" r="0.62" fill="#8c1a1a"/>
<circle cx="96.7" cy="514.3" r="0.62" fill="#8c1a1a"/>
<circle cx="97.2" cy="515.3" r="0.62" fill="#8c1a1a"/>
<circle cx="98.7" cy="515.7" r="0.62" fill="#8c1a1a"/>
<circle cx="98.2" cy="516.6" r="0.62" fill="#8c1a1a"/>
<circle cx="93.9" cy="518.2" r="0.62" fill="#8c1a1a"/>
<circle cx="96.8" cy="517.8" r="0.62" fill="#8c1a1a"/>
<circle cx="97.2" cy="519.4" r="0.62" fill="#8c1a1a"/>
<circle cx="97.8" cy="518.9" r="0.62" fill="#8c1a1a"/>
<circle cx="96.9" cy="520.2" r="0.62" fill="#8c1a1a"/>
<line x1="90.10" y1="498.60" x2="102.30" y2="498.60" stroke="#140808" stroke-width="1.5"/>
<rect x="106.50" y="478.80" width="12.70" height="16.90" fill="#9fd0f2"/>
<line x1="112.90" y1="468.20" x2="112.90" y2="515.80" stroke="#2a5a8a" stroke-width="1.0"/>
<circle cx="107.2" cy="479.7" r="0.62" fill="#3aa4e2"/>
<circle cx="108.7" cy="479.6" r="0.62" fill="#3aa4e2"/>
<circle cx="113.7" cy="479.7" r="0.62" fill="#3aa4e2"/>
<circle cx="114.8" cy="479.4" r="0.62" fill="#3aa4e2"/>
<circle cx="116.2" cy="479.5" r="0.62" fill="#3aa4e2"/>
<circle cx="117.1" cy="479.3" r="0.62" fill="#3aa4e2"/>
<circle cx="107.8" cy="480.8" r="0.62" fill="#3aa4e2"/>
<circle cx="111.9" cy="480.5" r="0.62" fill="#3aa4e2"/>
<circle cx="113.0" cy="480.5" r="0.62" fill="#3aa4e2"/>
<circle cx="118.2" cy="480.5" r="0.62" fill="#3aa4e2"/>
<circle cx="108.3" cy="481.6" r="0.62" fill="#3aa4e2"/>
<circle cx="112.3" cy="481.8" r="0.62" fill="#3aa4e2"/>
<circle cx="113.3" cy="481.5" r="0.62" fill="#3aa4e2"/>
<circle cx="114.9" cy="482.0" r="0.62" fill="#3aa4e2"/>
<circle cx="107.8" cy="482.7" r="0.62" fill="#3aa4e2"/>
<circle cx="109.2" cy="482.8" r="0.62" fill="#3aa4e2"/>
<circle cx="110.6" cy="482.8" r="0.62" fill="#3aa4e2"/>
<circle cx="113.0" cy="482.8" r="0.62" fill="#3aa4e2"/>
<circle cx="113.9" cy="482.9" r="0.62" fill="#3aa4e2"/>
<circle cx="115.2" cy="483.0" r="0.62" fill="#3aa4e2"/>
<circle cx="118.4" cy="482.9" r="0.62" fill="#3aa4e2"/>
<circle cx="107.3" cy="483.9" r="0.62" fill="#3aa4e2"/>
<circle cx="108.2" cy="483.9" r="0.62" fill="#3aa4e2"/>
<circle cx="111.3" cy="483.7" r="0.62" fill="#3aa4e2"/>
<circle cx="113.6" cy="483.7" r="0.62" fill="#3aa4e2"/>
<circle cx="114.8" cy="483.9" r="0.62" fill="#3aa4e2"/>
<circle cx="118.7" cy="483.9" r="0.62" fill="#3aa4e2"/>
<circle cx="107.7" cy="485.0" r="0.62" fill="#3aa4e2"/>
<circle cx="108.8" cy="484.7" r="0.62" fill="#3aa4e2"/>
<circle cx="110.5" cy="485.0" r="0.62" fill="#3aa4e2"/>
<circle cx="111.8" cy="484.8" r="0.62" fill="#3aa4e2"/>
<circle cx="113.1" cy="485.0" r="0.62" fill="#3aa4e2"/>
<circle cx="114.4" cy="484.6" r="0.62" fill="#3aa4e2"/>
<circle cx="115.7" cy="485.1" r="0.62" fill="#3aa4e2"/>
<circle cx="116.9" cy="484.9" r="0.62" fill="#3aa4e2"/>
<circle cx="118.7" cy="485.0" r="0.62" fill="#3aa4e2"/>
<circle cx="108.4" cy="485.7" r="0.62" fill="#3aa4e2"/>
<circle cx="111.2" cy="485.7" r="0.62" fill="#3aa4e2"/>
<circle cx="112.5" cy="485.9" r="0.62" fill="#3aa4e2"/>
<circle cx="114.7" cy="485.8" r="0.62" fill="#3aa4e2"/>
<circle cx="117.6" cy="486.2" r="0.62" fill="#3aa4e2"/>
<circle cx="108.0" cy="487.2" r="0.62" fill="#3aa4e2"/>
<circle cx="108.9" cy="487.0" r="0.62" fill="#3aa4e2"/>
<circle cx="111.4" cy="486.8" r="0.62" fill="#3aa4e2"/>
<circle cx="113.9" cy="486.9" r="0.62" fill="#3aa4e2"/>
<circle cx="115.4" cy="486.7" r="0.62" fill="#3aa4e2"/>
<circle cx="116.8" cy="486.9" r="0.62" fill="#3aa4e2"/>
<circle cx="118.0" cy="487.2" r="0.62" fill="#3aa4e2"/>
<circle cx="118.7" cy="487.0" r="0.62" fill="#3aa4e2"/>
<circle cx="108.2" cy="488.3" r="0.62" fill="#3aa4e2"/>
<circle cx="111.2" cy="488.1" r="0.62" fill="#3aa4e2"/>
<circle cx="114.6" cy="488.2" r="0.62" fill="#3aa4e2"/>
<circle cx="117.2" cy="488.0" r="0.62" fill="#3aa4e2"/>
<circle cx="107.6" cy="489.4" r="0.62" fill="#3aa4e2"/>
<circle cx="110.2" cy="489.2" r="0.62" fill="#3aa4e2"/>
<circle cx="111.6" cy="489.2" r="0.62" fill="#3aa4e2"/>
<circle cx="113.0" cy="488.9" r="0.62" fill="#3aa4e2"/>
<circle cx="114.2" cy="489.0" r="0.62" fill="#3aa4e2"/>
<circle cx="117.0" cy="488.9" r="0.62" fill="#3aa4e2"/>
<circle cx="117.7" cy="489.0" r="0.62" fill="#3aa4e2"/>
<circle cx="107.4" cy="490.4" r="0.62" fill="#3aa4e2"/>
<circle cx="109.7" cy="489.9" r="0.62" fill="#3aa4e2"/>
<circle cx="110.9" cy="489.9" r="0.62" fill="#3aa4e2"/>
<circle cx="113.4" cy="490.0" r="0.62" fill="#3aa4e2"/>
<circle cx="114.6" cy="490.1" r="0.62" fill="#3aa4e2"/>
<circle cx="116.1" cy="490.0" r="0.62" fill="#3aa4e2"/>
<circle cx="118.8" cy="490.4" r="0.62" fill="#3aa4e2"/>
<circle cx="109.3" cy="491.2" r="0.62" fill="#3aa4e2"/>
<circle cx="111.7" cy="491.0" r="0.62" fill="#3aa4e2"/>
<circle cx="114.4" cy="491.3" r="0.62" fill="#3aa4e2"/>
<circle cx="115.2" cy="491.1" r="0.62" fill="#3aa4e2"/>
<circle cx="116.6" cy="491.2" r="0.62" fill="#3aa4e2"/>
<circle cx="118.0" cy="491.4" r="0.62" fill="#3aa4e2"/>
<circle cx="113.5" cy="492.5" r="0.62" fill="#3aa4e2"/>
<circle cx="114.9" cy="492.1" r="0.62" fill="#3aa4e2"/>
<circle cx="117.6" cy="492.5" r="0.62" fill="#3aa4e2"/>
<circle cx="108.8" cy="493.2" r="0.62" fill="#3aa4e2"/>
<circle cx="111.5" cy="493.1" r="0.62" fill="#3aa4e2"/>
<circle cx="112.7" cy="493.1" r="0.62" fill="#3aa4e2"/>
<circle cx="115.2" cy="493.4" r="0.62" fill="#3aa4e2"/>
<circle cx="116.9" cy="493.4" r="0.62" fill="#3aa4e2"/>
<circle cx="108.4" cy="494.3" r="0.62" fill="#3aa4e2"/>
<circle cx="110.0" cy="494.3" r="0.62" fill="#3aa4e2"/>
<circle cx="113.4" cy="494.4" r="0.62" fill="#3aa4e2"/>
<circle cx="115.9" cy="494.3" r="0.62" fill="#3aa4e2"/>
<circle cx="117.3" cy="494.6" r="0.62" fill="#3aa4e2"/>
<circle cx="112.8" cy="468.7" r="0.62" fill="#3aa4e2"/>
<circle cx="112.8" cy="469.6" r="0.62" fill="#3aa4e2"/>
<circle cx="111.5" cy="472.3" r="0.62" fill="#3aa4e2"/>
<circle cx="112.9" cy="472.2" r="0.62" fill="#3aa4e2"/>
<circle cx="114.3" cy="472.4" r="0.62" fill="#3aa4e2"/>
<circle cx="110.2" cy="473.5" r="0.62" fill="#3aa4e2"/>
<circle cx="112.9" cy="473.4" r="0.62" fill="#3aa4e2"/>
<circle cx="110.8" cy="474.6" r="0.62" fill="#3aa4e2"/>
<circle cx="113.5" cy="474.8" r="0.62" fill="#3aa4e2"/>
<circle cx="115.1" cy="474.4" r="0.62" fill="#3aa4e2"/>
<circle cx="110.7" cy="476.0" r="0.62" fill="#3aa4e2"/>
<circle cx="112.0" cy="475.9" r="0.62" fill="#3aa4e2"/>
<circle cx="113.4" cy="475.9" r="0.62" fill="#3aa4e2"/>
<circle cx="116.3" cy="475.7" r="0.62" fill="#3aa4e2"/>
<circle cx="115.7" cy="477.1" r="0.62" fill="#3aa4e2"/>
<circle cx="116.2" cy="477.2" r="0.62" fill="#3aa4e2"/>
<circle cx="111.7" cy="497.2" r="0.62" fill="#3aa4e2"/>
<circle cx="115.6" cy="497.2" r="0.62" fill="#3aa4e2"/>
<circle cx="109.8" cy="498.3" r="0.62" fill="#3aa4e2"/>
<circle cx="114.1" cy="498.2" r="0.62" fill="#3aa4e2"/>
<circle cx="115.8" cy="497.9" r="0.62" fill="#3aa4e2"/>
<circle cx="112.2" cy="499.2" r="0.62" fill="#3aa4e2"/>
<circle cx="115.0" cy="499.5" r="0.62" fill="#3aa4e2"/>
<circle cx="110.3" cy="500.6" r="0.62" fill="#3aa4e2"/>
<circle cx="111.8" cy="500.7" r="0.62" fill="#3aa4e2"/>
<circle cx="113.0" cy="500.4" r="0.62" fill="#3aa4e2"/>
<circle cx="112.4" cy="501.5" r="0.62" fill="#3aa4e2"/>
<circle cx="113.7" cy="501.7" r="0.62" fill="#3aa4e2"/>
<circle cx="115.1" cy="501.6" r="0.62" fill="#3aa4e2"/>
<circle cx="112.2" cy="502.8" r="0.62" fill="#3aa4e2"/>
<circle cx="113.7" cy="503.1" r="0.62" fill="#3aa4e2"/>
<circle cx="116.0" cy="502.9" r="0.62" fill="#3aa4e2"/>
<circle cx="110.1" cy="503.9" r="0.62" fill="#3aa4e2"/>
<circle cx="113.1" cy="503.8" r="0.62" fill="#3aa4e2"/>
<circle cx="114.2" cy="503.7" r="0.62" fill="#3aa4e2"/>
<circle cx="112.1" cy="505.4" r="0.62" fill="#3aa4e2"/>
<circle cx="114.9" cy="505.1" r="0.62" fill="#3aa4e2"/>
<circle cx="115.5" cy="505.1" r="0.62" fill="#3aa4e2"/>
<circle cx="110.0" cy="506.4" r="0.62" fill="#3aa4e2"/>
<circle cx="111.8" cy="506.6" r="0.62" fill="#3aa4e2"/>
<circle cx="114.4" cy="506.2" r="0.62" fill="#3aa4e2"/>
<circle cx="111.1" cy="507.7" r="0.62" fill="#3aa4e2"/>
<circle cx="114.6" cy="507.4" r="0.62" fill="#3aa4e2"/>
<circle cx="110.5" cy="508.6" r="0.62" fill="#3aa4e2"/>
<circle cx="112.4" cy="508.5" r="0.62" fill="#3aa4e2"/>
<circle cx="113.4" cy="508.6" r="0.62" fill="#3aa4e2"/>
<circle cx="115.0" cy="509.6" r="0.62" fill="#3aa4e2"/>
<circle cx="113.4" cy="511.2" r="0.62" fill="#3aa4e2"/>
<circle cx="114.4" cy="512.0" r="0.62" fill="#3aa4e2"/>
<circle cx="115.0" cy="512.4" r="0.62" fill="#3aa4e2"/>
<circle cx="111.4" cy="513.5" r="0.62" fill="#3aa4e2"/>
<circle cx="112.9" cy="513.7" r="0.62" fill="#3aa4e2"/>
<circle cx="114.6" cy="513.6" r="0.62" fill="#3aa4e2"/>
<circle cx="113.4" cy="514.5" r="0.62" fill="#3aa4e2"/>
<line x1="106.50" y1="486.70" x2="119.20" y2="486.70" stroke="#140808" stroke-width="1.5"/>
<line x1="129.00" y1="434.25" x2="131.60" y2="434.25" stroke="#231f20" stroke-width="0.9"/>
<line x1="130.00" y1="447.42" x2="131.60" y2="447.42" stroke="#231f20" stroke-width="0.9"/>
<line x1="129.00" y1="460.58" x2="131.60" y2="460.58" stroke="#231f20" stroke-width="0.9"/>
<line x1="130.00" y1="473.75" x2="131.60" y2="473.75" stroke="#231f20" stroke-width="0.9"/>
<line x1="129.00" y1="486.92" x2="131.60" y2="486.92" stroke="#231f20" stroke-width="0.9"/>
<line x1="130.00" y1="500.09" x2="131.60" y2="500.09" stroke="#231f20" stroke-width="0.9"/>
<line x1="129.00" y1="513.25" x2="131.60" y2="513.25" stroke="#231f20" stroke-width="0.9"/>
<rect x="131.60" y="429.70" width="87.90" height="94.80" fill="none" stroke="#231f20" stroke-width="1.1"/>
<text x="176.2" y="425.6" font-size="9.3" font-style="italic" text-anchor="middle" textLength="24.6" lengthAdjust="spacingAndGlyphs" fill="#231f20">POLH</text>
<line x1="192.60" y1="437.50" x2="209.30" y2="437.50" stroke="#58595b" stroke-width="1.0"/>
<text x="200.95" y="438.10" font-size="7.4" text-anchor="middle" fill="#3a3a3a">***</text>
<line x1="175.90" y1="440.50" x2="209.30" y2="440.50" stroke="#58595b" stroke-width="1.0"/>
<text x="192.60" y="441.10" font-size="7.4" text-anchor="middle" fill="#3a3a3a">*</text>
<line x1="158.90" y1="447.50" x2="209.30" y2="447.50" stroke="#58595b" stroke-width="1.0"/>
<text x="184.10" y="448.10" font-size="7.4" text-anchor="middle" fill="#3a3a3a">*</text>
<line x1="142.10" y1="455.50" x2="209.30" y2="455.50" stroke="#58595b" stroke-width="1.0"/>
<text x="175.70" y="456.10" font-size="7.4" text-anchor="middle" fill="#3a3a3a">****</text>
<line x1="142.10" y1="459.50" x2="192.60" y2="459.50" stroke="#58595b" stroke-width="1.0"/>
<text x="167.35" y="460.10" font-size="7.4" text-anchor="middle" fill="#3a3a3a">****</text>
<line x1="142.10" y1="463.50" x2="175.90" y2="463.50" stroke="#58595b" stroke-width="1.0"/>
<text x="159.00" y="464.10" font-size="7.4" text-anchor="middle" fill="#3a3a3a">****</text>
<line x1="142.10" y1="467.50" x2="158.90" y2="467.50" stroke="#58595b" stroke-width="1.0"/>
<text x="150.50" y="468.10" font-size="7.4" text-anchor="middle" fill="#3a3a3a">****</text>
<line x1="141.60" y1="471.20" x2="141.60" y2="486.00" stroke="#8a5cc0" stroke-width="1.0"/>
<rect x="134.75" y="476.20" width="13.70" height="1.6" fill="#8a5cc0"/>
<path d="M142.39,473.20 L144.36,474.40 L146.28,475.60 L145.29,476.80 L146.56,478.00 L144.77,479.20 L143.78,480.40 L142.23,481.50 L140.98,481.50 L139.45,480.40 L138.48,479.20 L136.69,478.00 L138.14,476.80 L137.08,475.60 L138.87,474.40 L140.82,473.20 Z" fill="#8a5cc0"/>
<circle cx="141.6" cy="487.6" r="0.65" fill="#8a5cc0"/>
<line x1="158.40" y1="476.00" x2="158.40" y2="487.50" stroke="#ef7f62" stroke-width="1.0"/>
<rect x="152.00" y="480.60" width="12.80" height="1.6" fill="#ef7f62"/>
<path d="M159.16,478.00 L161.40,479.20 L162.99,480.40 L162.37,481.60 L162.26,482.80 L160.27,484.00 L159.15,484.80 L157.68,484.80 L156.57,484.00 L154.67,482.80 L154.43,481.60 L154.12,480.40 L155.42,479.20 L157.69,478.00 Z" fill="#ef7f62"/>
<circle cx="158.4" cy="492.0" r="0.65" fill="#ef7f62"/>
<line x1="175.50" y1="472.50" x2="175.50" y2="488.00" stroke="#f59a1e" stroke-width="1.0"/>
<rect x="168.80" y="480.00" width="13.40" height="1.6" fill="#f59a1e"/>
<path d="M176.22,476.00 L177.59,477.20 L179.40,478.40 L179.77,479.60 L180.88,480.80 L179.96,482.00 L178.78,483.20 L177.46,484.40 L176.25,485.20 L174.77,485.20 L173.65,484.40 L172.36,483.20 L171.10,482.00 L170.14,480.80 L171.45,479.60 L171.82,478.40 L173.45,477.20 L174.78,476.00 Z" fill="#f59a1e"/>
<line x1="192.60" y1="472.50" x2="192.60" y2="489.40" stroke="#8a1414" stroke-width="1.0"/>
<rect x="185.90" y="479.20" width="13.40" height="1.6" fill="#8a1414"/>
<path d="M193.37,475.00 L195.24,476.20 L196.39,477.40 L196.70,478.60 L198.04,479.80 L196.96,481.00 L197.07,482.20 L195.17,483.40 L194.59,484.60 L193.22,485.80 L193.37,485.80 L191.83,485.80 L192.00,485.80 L190.63,484.60 L190.11,483.40 L188.14,482.20 L188.52,481.00 L187.44,479.80 L188.62,478.60 L188.87,477.40 L190.03,476.20 L191.85,475.00 Z" fill="#8a1414"/>
<line x1="209.40" y1="474.00" x2="209.40" y2="488.00" stroke="#33a2e0" stroke-width="1.0"/>
<rect x="202.80" y="481.00" width="13.20" height="1.6" fill="#33a2e0"/>
<path d="M210.12,478.20 L211.83,479.40 L214.14,480.60 L214.29,481.80 L213.72,483.00 L212.02,484.20 L210.12,485.20 L208.69,485.20 L206.80,484.20 L205.21,483.00 L204.60,481.80 L204.76,480.60 L207.04,479.40 L208.72,478.20 Z" fill="#33a2e0"/>
<line x1="32.60" y1="546.75" x2="35.20" y2="546.75" stroke="#231f20" stroke-width="0.9"/>
<text x="29.20" y="549.75" font-size="8.4" text-anchor="end" fill="#231f20">20</text>
<line x1="33.60" y1="560.00" x2="35.20" y2="560.00" stroke="#231f20" stroke-width="0.9"/>
<line x1="32.60" y1="573.25" x2="35.20" y2="573.25" stroke="#231f20" stroke-width="0.9"/>
<text x="29.20" y="576.25" font-size="8.4" text-anchor="end" fill="#231f20">15</text>
<line x1="33.60" y1="586.50" x2="35.20" y2="586.50" stroke="#231f20" stroke-width="0.9"/>
<line x1="32.60" y1="599.75" x2="35.20" y2="599.75" stroke="#231f20" stroke-width="0.9"/>
<text x="29.20" y="602.75" font-size="8.4" text-anchor="end" fill="#231f20">10</text>
<line x1="33.60" y1="613.00" x2="35.20" y2="613.00" stroke="#231f20" stroke-width="0.9"/>
<line x1="32.60" y1="626.25" x2="35.20" y2="626.25" stroke="#231f20" stroke-width="0.9"/>
<text x="29.20" y="629.25" font-size="8.4" text-anchor="end" fill="#231f20">5</text>
<rect x="35.20" y="542.80" width="87.80" height="91.50" fill="none" stroke="#231f20" stroke-width="1.1"/>
<text x="79.8" y="539.1" font-size="9.3" font-style="italic" text-anchor="middle" textLength="28.8" lengthAdjust="spacingAndGlyphs" fill="#231f20">STAT6</text>
<line x1="62.50" y1="550.50" x2="112.90" y2="550.50" stroke="#58595b" stroke-width="1.0"/>
<text x="87.70" y="551.10" font-size="7.4" text-anchor="middle" fill="#3a3a3a">***</text>
<line x1="62.50" y1="554.50" x2="96.20" y2="554.50" stroke="#58595b" stroke-width="1.0"/>
<text x="79.35" y="555.10" font-size="7.4" text-anchor="middle" fill="#3a3a3a">****</text>
<line x1="62.50" y1="558.50" x2="79.50" y2="558.50" stroke="#58595b" stroke-width="1.0"/>
<text x="71.00" y="559.10" font-size="7.4" text-anchor="middle" fill="#3a3a3a">****</text>
<line x1="45.70" y1="563.50" x2="112.90" y2="563.50" stroke="#58595b" stroke-width="1.0"/>
<text x="79.30" y="564.10" font-size="7.4" text-anchor="middle" fill="#3a3a3a">****</text>
<line x1="45.70" y1="567.50" x2="96.20" y2="567.50" stroke="#58595b" stroke-width="1.0"/>
<text x="70.95" y="568.10" font-size="7.4" text-anchor="middle" fill="#3a3a3a">****</text>
<line x1="45.70" y1="571.50" x2="79.50" y2="571.50" stroke="#58595b" stroke-width="1.0"/>
<text x="62.60" y="572.10" font-size="7.4" text-anchor="middle" fill="#3a3a3a">****</text>
<line x1="45.70" y1="576.50" x2="62.50" y2="576.50" stroke="#58595b" stroke-width="1.0"/>
<text x="54.10" y="577.10" font-size="7.4" text-anchor="middle" fill="#3a3a3a">****</text>
<line x1="45.60" y1="585.20" x2="45.60" y2="598.60" stroke="#8a5cc0" stroke-width="1.0"/>
<rect x="39.00" y="591.00" width="13.20" height="1.6" fill="#8a5cc0"/>
<path d="M46.38,587.50 L48.55,588.70 L49.86,589.90 L50.27,591.10 L50.53,592.30 L49.86,593.50 L48.71,594.70 L46.66,595.90 L46.32,596.50 L44.90,596.50 L44.61,595.90 L42.70,594.70 L41.54,593.50 L40.93,592.30 L41.24,591.10 L41.49,589.90 L42.74,588.70 L44.84,587.50 Z" fill="#8a5cc0"/>
<circle cx="45.6" cy="604.2" r="0.65" fill="#8a5cc0"/>
<line x1="62.40" y1="577.00" x2="62.40" y2="591.80" stroke="#ef7f62" stroke-width="1.0"/>
<rect x="56.10" y="581.90" width="12.60" height="1.6" fill="#ef7f62"/>
<path d="M63.19,578.40 L64.82,579.60 L66.38,580.80 L66.84,582.00 L66.90,583.20 L66.15,584.40 L65.38,585.60 L63.92,586.80 L63.17,587.50 L61.65,587.50 L60.89,586.80 L59.61,585.60 L58.67,584.40 L58.16,583.20 L58.05,582.00 L58.69,580.80 L60.14,579.60 L61.64,578.40 Z" fill="#ef7f62"/>
<line x1="79.20" y1="578.60" x2="79.20" y2="596.80" stroke="#f59a1e" stroke-width="1.0"/>
<rect x="72.70" y="583.60" width="13.00" height="1.6" fill="#f59a1e"/>
<path d="M79.92,580.80 L82.32,582.00 L83.88,583.20 L83.38,584.40 L83.73,585.60 L82.28,586.80 L82.38,588.00 L81.12,589.20 L80.07,590.40 L79.99,590.50 L78.44,590.50 L78.37,590.40 L77.38,589.20 L76.09,588.00 L76.23,586.80 L74.83,585.60 L75.02,584.40 L74.69,583.20 L76.20,582.00 L78.50,580.80 Z" fill="#f59a1e"/>
<line x1="95.80" y1="576.10" x2="95.80" y2="591.80" stroke="#8a1414" stroke-width="1.0"/>
<rect x="89.10" y="582.80" width="13.40" height="1.6" fill="#8a1414"/>
<path d="M96.52,578.80 L98.31,580.00 L99.71,581.20 L100.22,582.40 L101.14,583.60 L100.09,584.80 L100.10,586.00 L98.97,587.20 L97.95,588.40 L96.76,589.60 L96.54,589.80 L95.07,589.80 L94.87,589.60 L93.80,588.40 L92.75,587.20 L91.61,586.00 L91.60,584.80 L90.58,583.60 L91.51,582.40 L92.02,581.20 L93.39,580.00 L95.11,578.80 Z" fill="#8a1414"/>
<circle cx="95.8" cy="600.8" r="0.65" fill="#8a1414"/>
<circle cx="95.8" cy="603.5" r="0.65" fill="#8a1414"/>
<circle cx="95.8" cy="606.5" r="0.65" fill="#8a1414"/>
<circle cx="95.8" cy="609.0" r="0.65" fill="#8a1414"/>
<circle cx="95.8" cy="612.4" r="0.65" fill="#8a1414"/>
<circle cx="95.8" cy="615.4" r="0.65" fill="#8a1414"/>
<line x1="112.90" y1="577.80" x2="112.90" y2="595.10" stroke="#33a2e0" stroke-width="1.0"/>
<rect x="106.50" y="583.60" width="12.80" height="1.6" fill="#33a2e0"/>
<path d="M113.63,580.60 L115.03,581.80 L117.44,583.00 L116.64,584.20 L117.40,585.40 L115.12,586.60 L114.30,587.80 L113.50,588.20 L112.34,588.20 L111.54,587.80 L110.80,586.60 L108.67,585.40 L109.37,584.20 L108.63,583.00 L110.89,581.80 L112.18,580.60 Z" fill="#33a2e0"/>
<line x1="129.00" y1="546.75" x2="131.60" y2="546.75" stroke="#231f20" stroke-width="0.9"/>
<line x1="130.00" y1="560.00" x2="131.60" y2="560.00" stroke="#231f20" stroke-width="0.9"/>
<line x1="129.00" y1="573.25" x2="131.60" y2="573.25" stroke="#231f20" stroke-width="0.9"/>
<line x1="130.00" y1="586.50" x2="131.60" y2="586.50" stroke="#231f20" stroke-width="0.9"/>
<line x1="129.00" y1="599.75" x2="131.60" y2="599.75" stroke="#231f20" stroke-width="0.9"/>
<line x1="130.00" y1="613.00" x2="131.60" y2="613.00" stroke="#231f20" stroke-width="0.9"/>
<line x1="129.00" y1="626.25" x2="131.60" y2="626.25" stroke="#231f20" stroke-width="0.9"/>
<rect x="131.60" y="542.80" width="87.90" height="91.50" fill="none" stroke="#231f20" stroke-width="1.1"/>
<text x="176.0" y="539.1" font-size="9.3" font-style="italic" text-anchor="middle" textLength="21.2" lengthAdjust="spacingAndGlyphs" fill="#231f20">UNG</text>
<line x1="192.60" y1="550.50" x2="209.30" y2="550.50" stroke="#58595b" stroke-width="1.0"/>
<text x="200.95" y="551.10" font-size="7.4" text-anchor="middle" fill="#3a3a3a">*</text>
<line x1="175.90" y1="555.50" x2="209.30" y2="555.50" stroke="#58595b" stroke-width="1.0"/>
<text x="192.60" y="556.10" font-size="7.4" text-anchor="middle" fill="#3a3a3a">**</text>
<line x1="158.90" y1="561.50" x2="209.30" y2="561.50" stroke="#58595b" stroke-width="1.0"/>
<text x="184.10" y="562.10" font-size="7.4" text-anchor="middle" fill="#3a3a3a">****</text>
<line x1="158.90" y1="566.50" x2="192.60" y2="566.50" stroke="#58595b" stroke-width="1.0"/>
<text x="175.75" y="567.10" font-size="7.4" text-anchor="middle" fill="#3a3a3a">****</text>
<line x1="158.90" y1="570.50" x2="175.90" y2="570.50" stroke="#58595b" stroke-width="1.0"/>
<text x="167.40" y="571.10" font-size="7.4" text-anchor="middle" fill="#3a3a3a">****</text>
<line x1="142.10" y1="574.50" x2="209.30" y2="574.50" stroke="#58595b" stroke-width="1.0"/>
<text x="175.70" y="575.10" font-size="7.4" text-anchor="middle" fill="#3a3a3a">****</text>
<line x1="142.10" y1="578.50" x2="192.60" y2="578.50" stroke="#58595b" stroke-width="1.0"/>
<text x="167.35" y="579.10" font-size="7.4" text-anchor="middle" fill="#3a3a3a">****</text>
<line x1="142.10" y1="582.50" x2="175.90" y2="582.50" stroke="#58595b" stroke-width="1.0"/>
<text x="159.00" y="583.10" font-size="7.4" text-anchor="middle" fill="#3a3a3a">****</text>
<line x1="142.10" y1="587.50" x2="158.90" y2="587.50" stroke="#58595b" stroke-width="1.0"/>
<text x="150.50" y="588.10" font-size="7.4" text-anchor="middle" fill="#3a3a3a">****</text>
<line x1="141.60" y1="589.50" x2="141.60" y2="610.20" stroke="#8a5cc0" stroke-width="1.0"/>
<rect x="134.90" y="597.70" width="13.40" height="1.6" fill="#8a5cc0"/>
<path d="M142.35,592.50 L143.59,593.70 L145.04,594.90 L144.87,596.10 L146.80,597.30 L147.04,598.50 L146.40,599.70 L144.83,600.90 L144.89,602.10 L143.46,603.30 L142.87,604.50 L142.27,605.00 L140.95,605.00 L140.34,604.50 L139.78,603.30 L138.46,602.10 L138.43,600.90 L136.88,599.70 L136.30,598.50 L136.60,597.30 L138.48,596.10 L138.20,594.90 L139.68,593.70 L140.87,592.50 Z" fill="#8a5cc0"/>
<circle cx="141.6" cy="612.6" r="0.65" fill="#8a5cc0"/>
<circle cx="141.6" cy="614.6" r="0.65" fill="#8a5cc0"/>
<circle cx="141.6" cy="622.0" r="0.65" fill="#8a5cc0"/>
<line x1="158.40" y1="601.50" x2="158.40" y2="616.20" stroke="#ef7f62" stroke-width="1.0"/>
<rect x="152.40" y="607.10" width="12.00" height="1.6" fill="#ef7f62"/>
<path d="M159.18,603.50 L160.70,604.70 L162.02,605.90 L162.13,607.10 L163.02,608.30 L161.24,609.50 L161.30,610.70 L159.88,611.90 L159.17,612.50 L157.67,612.50 L156.98,611.90 L155.61,610.70 L155.75,609.50 L153.85,608.30 L154.81,607.10 L154.90,605.90 L156.14,604.70 L157.63,603.50 Z" fill="#ef7f62"/>
<circle cx="158.4" cy="629.9" r="0.65" fill="#ef7f62"/>
<line x1="175.50" y1="592.50" x2="175.50" y2="616.00" stroke="#f59a1e" stroke-width="1.0"/>
<rect x="169.20" y="601.70" width="12.60" height="1.6" fill="#f59a1e"/>
<path d="M176.23,595.50 L176.93,596.70 L178.65,597.90 L178.44,599.10 L180.17,600.30 L179.49,601.50 L180.26,602.70 L178.87,603.90 L179.66,605.10 L178.18,606.30 L178.20,607.50 L177.14,608.70 L176.36,609.90 L176.12,610.00 L174.88,610.00 L174.66,609.90 L173.94,608.70 L172.85,607.50 L172.94,606.30 L171.38,605.10 L172.27,603.90 L170.79,602.70 L171.52,601.50 L171.03,600.30 L172.68,599.10 L172.43,597.90 L174.15,596.70 L174.79,595.50 Z" fill="#f59a1e"/>
<line x1="192.60" y1="589.50" x2="192.60" y2="615.30" stroke="#8a1414" stroke-width="1.0"/>
<rect x="185.90" y="600.80" width="13.40" height="1.6" fill="#8a1414"/>
<path d="M193.35,594.00 L194.06,595.20 L195.76,596.40 L196.22,597.60 L197.37,598.80 L196.47,600.00 L197.55,601.20 L197.81,602.40 L197.36,603.60 L196.92,604.80 L196.01,606.00 L194.79,607.20 L194.28,608.40 L193.15,609.50 L192.08,609.50 L191.02,608.40 L190.41,607.20 L189.32,606.00 L188.50,604.80 L188.08,603.60 L187.65,602.40 L187.70,601.20 L188.89,600.00 L188.15,598.80 L189.19,597.60 L189.44,596.40 L191.23,595.20 L191.88,594.00 Z" fill="#8a1414"/>
<circle cx="192.6" cy="629.9" r="0.65" fill="#8a1414"/>
<line x1="209.40" y1="593.00" x2="209.40" y2="611.00" stroke="#33a2e0" stroke-width="1.0"/>
<rect x="202.90" y="600.50" width="13.00" height="1.6" fill="#33a2e0"/>
<path d="M210.15,596.00 L211.19,597.20 L213.05,598.40 L213.66,599.60 L214.29,600.80 L213.75,602.00 L213.77,603.20 L212.42,604.40 L211.69,605.60 L210.27,606.80 L210.14,607.00 L208.70,607.00 L208.57,606.80 L207.16,605.60 L206.49,604.40 L205.08,603.20 L205.34,602.00 L204.75,600.80 L205.23,599.60 L205.98,598.40 L207.62,597.20 L208.68,596.00 Z" fill="#33a2e0"/>
<circle cx="209.4" cy="629.9" r="0.65" fill="#33a2e0"/>
<text transform="translate(13.9,527.4) rotate(-90)" font-size="8.8" text-anchor="middle" textLength="77" lengthAdjust="spacingAndGlyphs" fill="#231f20">Normalized expression</text>
<line x1="45.70" y1="634.30" x2="45.70" y2="636.80" stroke="#231f20" stroke-width="0.9"/>
<text transform="translate(48.90,642.6) rotate(-45)" font-size="7.75" text-anchor="end" fill="#231f20">BL</text>
<line x1="62.50" y1="634.30" x2="62.50" y2="636.80" stroke="#231f20" stroke-width="0.9"/>
<text transform="translate(65.70,642.6) rotate(-45)" font-size="7.75" text-anchor="end" fill="#231f20">FL</text>
<line x1="79.50" y1="634.30" x2="79.50" y2="636.80" stroke="#231f20" stroke-width="0.9"/>
<text transform="translate(82.70,642.6) rotate(-45)" font-size="7.75" text-anchor="end" fill="#231f20">GCB–DLBCL</text>
<line x1="96.20" y1="634.30" x2="96.20" y2="636.80" stroke="#231f20" stroke-width="0.9"/>
<text transform="translate(99.40,642.6) rotate(-45)" font-size="7.75" text-anchor="end" fill="#231f20">HGBCL–DH–BCL2</text>
<line x1="112.90" y1="634.30" x2="112.90" y2="636.80" stroke="#231f20" stroke-width="0.9"/>
<text transform="translate(116.10,642.6) rotate(-45)" font-size="7.75" text-anchor="end" fill="#231f20">ABC–DLBCL</text>
<line x1="142.10" y1="634.30" x2="142.10" y2="636.80" stroke="#231f20" stroke-width="0.9"/>
<text transform="translate(145.30,642.6) rotate(-45)" font-size="7.75" text-anchor="end" fill="#231f20">BL</text>
<line x1="158.90" y1="634.30" x2="158.90" y2="636.80" stroke="#231f20" stroke-width="0.9"/>
<text transform="translate(162.10,642.6) rotate(-45)" font-size="7.75" text-anchor="end" fill="#231f20">FL</text>
<line x1="175.90" y1="634.30" x2="175.90" y2="636.80" stroke="#231f20" stroke-width="0.9"/>
<text transform="translate(179.10,642.6) rotate(-45)" font-size="7.75" text-anchor="end" fill="#231f20">GCB–DLBCL</text>
<line x1="192.60" y1="634.30" x2="192.60" y2="636.80" stroke="#231f20" stroke-width="0.9"/>
<text transform="translate(195.80,642.6) rotate(-45)" font-size="7.75" text-anchor="end" fill="#231f20">HGBCL–DH–BCL2</text>
<line x1="209.30" y1="634.30" x2="209.30" y2="636.80" stroke="#231f20" stroke-width="0.9"/>
<text transform="translate(212.50,642.6) rotate(-45)" font-size="7.75" text-anchor="end" fill="#231f20">ABC–DLBCL</text>
<text x="235.50" y="425.90" font-size="11.4" font-weight="bold" fill="#000" stroke="#000" stroke-width="0.35">E</text>
<line x1="260.90" y1="484.00" x2="263.50" y2="484.00" stroke="#231f20" stroke-width="0.9"/>
<text x="257.30" y="487.00" font-size="8.4" text-anchor="end" fill="#231f20">0</text>
<line x1="261.90" y1="475.75" x2="263.50" y2="475.75" stroke="#231f20" stroke-width="0.9"/>
<line x1="260.90" y1="467.50" x2="263.50" y2="467.50" stroke="#231f20" stroke-width="0.9"/>
<text x="257.30" y="470.50" font-size="8.4" text-anchor="end" fill="#231f20">20</text>
<line x1="261.90" y1="459.25" x2="263.50" y2="459.25" stroke="#231f20" stroke-width="0.9"/>
<line x1="260.90" y1="451.00" x2="263.50" y2="451.00" stroke="#231f20" stroke-width="0.9"/>
<text x="257.30" y="454.00" font-size="8.4" text-anchor="end" fill="#231f20">40</text>
<line x1="261.90" y1="442.75" x2="263.50" y2="442.75" stroke="#231f20" stroke-width="0.9"/>
<line x1="260.90" y1="434.50" x2="263.50" y2="434.50" stroke="#231f20" stroke-width="0.9"/>
<text x="257.30" y="437.50" font-size="8.4" text-anchor="end" fill="#231f20">60</text>
<rect x="263.50" y="427.50" width="176.00" height="59.50" fill="none" stroke="#231f20" stroke-width="1.1"/>
<text x="351.5" y="424.70" font-size="9.2" text-anchor="middle" fill="#231f20">BL</text>
<text x="278.40" y="435.50" font-size="6.2" text-anchor="middle" fill="#3a3a3a">n = 89</text>
<text x="278.40" y="442.25" font-size="6.2" text-anchor="middle" fill="#3a3a3a">99%</text>
<text x="278.40" y="449.00" font-size="6.2" text-anchor="middle" fill="#3a3a3a">REF</text>
<text x="302.77" y="435.50" font-size="6.2" text-anchor="middle" fill="#3a3a3a">n = 77</text>
<text x="302.77" y="442.25" font-size="6.2" text-anchor="middle" fill="#3a3a3a">100%</text>
<text x="302.77" y="449.00" font-size="6.2" text-anchor="middle" fill="#3a3a3a">ns</text>
<text x="327.14" y="435.50" font-size="6.2" text-anchor="middle" fill="#3a3a3a">n = 37</text>
<text x="327.14" y="442.25" font-size="6.2" text-anchor="middle" fill="#3a3a3a">97%</text>
<text x="327.14" y="449.00" font-size="6.2" text-anchor="middle" fill="#3a3a3a">ns</text>
<text x="424.62" y="435.50" font-size="6.2" text-anchor="middle" fill="#3a3a3a">n = 4</text>
<text x="424.62" y="442.25" font-size="6.2" text-anchor="middle" fill="#3a3a3a">80%</text>
<text x="424.62" y="449.00" font-size="6.2" text-anchor="middle" fill="#3a3a3a">ns</text>
<rect x="269.60" y="466.20" width="17.60" height="10.00" fill="#ef9a8a"/>
<line x1="269.60" y1="472.80" x2="287.20" y2="472.80" stroke="#1a0a0a" stroke-width="1.5"/>
<circle cx="278.5" cy="456.1" r="1.25" fill="#c8102e"/>
<circle cx="278.3" cy="458.2" r="1.25" fill="#c8102e"/>
<circle cx="276.5" cy="459.8" r="1.25" fill="#c8102e"/>
<circle cx="280.3" cy="460.2" r="1.25" fill="#c8102e"/>
<circle cx="277.1" cy="461.9" r="1.25" fill="#c8102e"/>
<circle cx="280.0" cy="461.9" r="1.25" fill="#c8102e"/>
<circle cx="281.4" cy="462.2" r="1.25" fill="#c8102e"/>
<circle cx="276.5" cy="464.3" r="1.25" fill="#c8102e"/>
<circle cx="279.8" cy="463.8" r="1.25" fill="#c8102e"/>
<circle cx="282.8" cy="464.0" r="1.25" fill="#c8102e"/>
<circle cx="273.6" cy="466.0" r="1.25" fill="#c8102e"/>
<circle cx="277.1" cy="466.2" r="1.25" fill="#c8102e"/>
<circle cx="279.9" cy="465.8" r="1.25" fill="#c8102e"/>
<circle cx="282.6" cy="466.2" r="1.25" fill="#c8102e"/>
<circle cx="284.7" cy="465.9" r="1.25" fill="#c8102e"/>
<circle cx="271.5" cy="467.8" r="1.25" fill="#c8102e"/>
<circle cx="274.2" cy="467.8" r="1.25" fill="#c8102e"/>
<circle cx="277.0" cy="468.1" r="1.25" fill="#c8102e"/>
<circle cx="279.9" cy="467.8" r="1.25" fill="#c8102e"/>
<circle cx="282.3" cy="468.2" r="1.25" fill="#c8102e"/>
<circle cx="285.1" cy="467.7" r="1.25" fill="#c8102e"/>
<circle cx="272.0" cy="469.8" r="1.25" fill="#c8102e"/>
<circle cx="274.8" cy="469.9" r="1.25" fill="#c8102e"/>
<circle cx="277.0" cy="470.2" r="1.25" fill="#c8102e"/>
<circle cx="280.0" cy="470.0" r="1.25" fill="#c8102e"/>
<circle cx="282.3" cy="469.7" r="1.25" fill="#c8102e"/>
<circle cx="285.1" cy="470.2" r="1.25" fill="#c8102e"/>
<circle cx="286.2" cy="470.2" r="1.25" fill="#c8102e"/>
<circle cx="270.5" cy="471.8" r="1.25" fill="#c8102e"/>
<circle cx="275.5" cy="472.3" r="1.25" fill="#c8102e"/>
<circle cx="278.2" cy="472.2" r="1.25" fill="#c8102e"/>
<circle cx="281.1" cy="472.2" r="1.25" fill="#c8102e"/>
<circle cx="283.6" cy="472.0" r="1.25" fill="#c8102e"/>
<circle cx="286.5" cy="472.0" r="1.25" fill="#c8102e"/>
<circle cx="271.3" cy="473.8" r="1.25" fill="#c8102e"/>
<circle cx="274.6" cy="474.2" r="1.25" fill="#c8102e"/>
<circle cx="277.1" cy="474.2" r="1.25" fill="#c8102e"/>
<circle cx="279.7" cy="474.2" r="1.25" fill="#c8102e"/>
<circle cx="282.6" cy="474.0" r="1.25" fill="#c8102e"/>
<circle cx="285.3" cy="474.2" r="1.25" fill="#c8102e"/>
<circle cx="270.2" cy="475.7" r="1.25" fill="#c8102e"/>
<circle cx="275.8" cy="476.0" r="1.25" fill="#c8102e"/>
<circle cx="278.6" cy="475.8" r="1.25" fill="#c8102e"/>
<circle cx="281.4" cy="476.2" r="1.25" fill="#c8102e"/>
<circle cx="284.1" cy="476.0" r="1.25" fill="#c8102e"/>
<circle cx="287.1" cy="475.9" r="1.25" fill="#c8102e"/>
<circle cx="271.3" cy="477.8" r="1.25" fill="#c8102e"/>
<circle cx="276.7" cy="477.7" r="1.25" fill="#c8102e"/>
<circle cx="279.5" cy="477.8" r="1.25" fill="#c8102e"/>
<circle cx="285.6" cy="477.8" r="1.25" fill="#c8102e"/>
<circle cx="286.6" cy="477.8" r="1.25" fill="#c8102e"/>
<circle cx="272.5" cy="479.7" r="1.25" fill="#c8102e"/>
<circle cx="275.4" cy="479.8" r="1.25" fill="#c8102e"/>
<circle cx="278.5" cy="479.9" r="1.25" fill="#c8102e"/>
<circle cx="281.0" cy="480.0" r="1.25" fill="#c8102e"/>
<circle cx="284.4" cy="480.3" r="1.25" fill="#c8102e"/>
<circle cx="287.0" cy="479.9" r="1.25" fill="#c8102e"/>
<circle cx="271.6" cy="482.1" r="1.25" fill="#c8102e"/>
<circle cx="274.2" cy="482.1" r="1.25" fill="#c8102e"/>
<circle cx="276.9" cy="481.8" r="1.25" fill="#c8102e"/>
<circle cx="280.0" cy="481.9" r="1.25" fill="#c8102e"/>
<circle cx="282.2" cy="482.3" r="1.25" fill="#c8102e"/>
<circle cx="285.4" cy="481.8" r="1.25" fill="#c8102e"/>
<circle cx="286.8" cy="481.9" r="1.25" fill="#c8102e"/>
<circle cx="270.5" cy="484.2" r="1.25" fill="#c8102e"/>
<circle cx="272.9" cy="483.9" r="1.25" fill="#c8102e"/>
<circle cx="278.1" cy="484.2" r="1.25" fill="#c8102e"/>
<circle cx="281.0" cy="484.1" r="1.25" fill="#c8102e"/>
<circle cx="283.8" cy="483.8" r="1.25" fill="#c8102e"/>
<circle cx="286.5" cy="484.2" r="1.25" fill="#c8102e"/>
<rect x="293.60" y="467.80" width="18.20" height="6.20" fill="#ef9a8a"/>
<line x1="293.60" y1="470.80" x2="311.80" y2="470.80" stroke="#1a0a0a" stroke-width="1.5"/>
<circle cx="302.7" cy="458.3" r="1.25" fill="#c8102e"/>
<circle cx="300.9" cy="462.2" r="1.25" fill="#c8102e"/>
<circle cx="304.6" cy="461.8" r="1.25" fill="#c8102e"/>
<circle cx="299.9" cy="463.9" r="1.25" fill="#c8102e"/>
<circle cx="302.8" cy="464.1" r="1.25" fill="#c8102e"/>
<circle cx="305.7" cy="463.9" r="1.25" fill="#c8102e"/>
<circle cx="297.4" cy="466.2" r="1.25" fill="#c8102e"/>
<circle cx="303.0" cy="466.2" r="1.25" fill="#c8102e"/>
<circle cx="305.5" cy="466.3" r="1.25" fill="#c8102e"/>
<circle cx="307.8" cy="466.2" r="1.25" fill="#c8102e"/>
<circle cx="297.5" cy="468.2" r="1.25" fill="#c8102e"/>
<circle cx="299.9" cy="467.9" r="1.25" fill="#c8102e"/>
<circle cx="302.9" cy="468.0" r="1.25" fill="#c8102e"/>
<circle cx="305.7" cy="467.7" r="1.25" fill="#c8102e"/>
<circle cx="308.2" cy="468.3" r="1.25" fill="#c8102e"/>
<circle cx="309.2" cy="468.1" r="1.25" fill="#c8102e"/>
<circle cx="295.6" cy="470.2" r="1.25" fill="#c8102e"/>
<circle cx="298.5" cy="469.9" r="1.25" fill="#c8102e"/>
<circle cx="301.0" cy="469.8" r="1.25" fill="#c8102e"/>
<circle cx="303.9" cy="470.2" r="1.25" fill="#c8102e"/>
<circle cx="307.1" cy="469.9" r="1.25" fill="#c8102e"/>
<circle cx="310.1" cy="469.8" r="1.25" fill="#c8102e"/>
<circle cx="296.7" cy="471.8" r="1.25" fill="#c8102e"/>
<circle cx="298.7" cy="471.8" r="1.25" fill="#c8102e"/>
<circle cx="301.8" cy="472.3" r="1.25" fill="#c8102e"/>
<circle cx="304.3" cy="472.0" r="1.25" fill="#c8102e"/>
<circle cx="306.9" cy="471.8" r="1.25" fill="#c8102e"/>
<circle cx="309.3" cy="472.1" r="1.25" fill="#c8102e"/>
<circle cx="310.3" cy="472.1" r="1.25" fill="#c8102e"/>
<circle cx="295.8" cy="474.1" r="1.25" fill="#c8102e"/>
<circle cx="298.7" cy="474.3" r="1.25" fill="#c8102e"/>
<circle cx="301.4" cy="473.9" r="1.25" fill="#c8102e"/>
<circle cx="304.0" cy="473.8" r="1.25" fill="#c8102e"/>
<circle cx="307.0" cy="474.0" r="1.25" fill="#c8102e"/>
<circle cx="310.1" cy="474.0" r="1.25" fill="#c8102e"/>
<circle cx="298.7" cy="475.7" r="1.25" fill="#c8102e"/>
<circle cx="304.0" cy="476.0" r="1.25" fill="#c8102e"/>
<circle cx="307.2" cy="476.3" r="1.25" fill="#c8102e"/>
<circle cx="308.7" cy="476.0" r="1.25" fill="#c8102e"/>
<circle cx="298.5" cy="478.3" r="1.25" fill="#c8102e"/>
<circle cx="301.3" cy="477.7" r="1.25" fill="#c8102e"/>
<circle cx="307.3" cy="478.1" r="1.25" fill="#c8102e"/>
<circle cx="301.0" cy="479.9" r="1.25" fill="#c8102e"/>
<circle cx="304.3" cy="479.9" r="1.25" fill="#c8102e"/>
<circle cx="306.2" cy="480.3" r="1.25" fill="#c8102e"/>
<circle cx="300.8" cy="482.1" r="1.25" fill="#c8102e"/>
<circle cx="304.8" cy="481.8" r="1.25" fill="#c8102e"/>
<circle cx="302.8" cy="447.8" r="1.2" fill="#c8102e"/>
<circle cx="302.8" cy="450.6" r="1.2" fill="#c8102e"/>
<circle cx="301.8" cy="453.2" r="1.2" fill="#c8102e"/>
<rect x="318.40" y="464.70" width="18.10" height="11.50" fill="#f6c3b5"/>
<line x1="327.14" y1="458.00" x2="327.14" y2="483.00" stroke="#d88070" stroke-width="0.7"/>
<circle cx="327.2" cy="458.4" r="0.75" fill="#e8806e"/>
<circle cx="324.9" cy="461.4" r="0.75" fill="#e8806e"/>
<circle cx="328.2" cy="461.4" r="0.75" fill="#e8806e"/>
<circle cx="329.4" cy="461.2" r="0.75" fill="#e8806e"/>
<circle cx="326.5" cy="462.5" r="0.75" fill="#e8806e"/>
<circle cx="329.8" cy="462.4" r="0.75" fill="#e8806e"/>
<circle cx="330.9" cy="462.6" r="0.75" fill="#e8806e"/>
<circle cx="322.5" cy="463.8" r="0.75" fill="#e8806e"/>
<circle cx="328.7" cy="463.5" r="0.75" fill="#e8806e"/>
<circle cx="332.1" cy="463.8" r="0.75" fill="#e8806e"/>
<circle cx="332.8" cy="465.2" r="0.75" fill="#e8806e"/>
<circle cx="332.3" cy="466.4" r="0.75" fill="#e8806e"/>
<circle cx="320.6" cy="467.5" r="0.75" fill="#e8806e"/>
<circle cx="331.8" cy="468.0" r="0.75" fill="#e8806e"/>
<circle cx="334.0" cy="467.9" r="0.75" fill="#e8806e"/>
<circle cx="328.2" cy="468.9" r="0.75" fill="#e8806e"/>
<circle cx="329.5" cy="469.0" r="0.75" fill="#e8806e"/>
<circle cx="320.1" cy="470.4" r="0.75" fill="#e8806e"/>
<circle cx="326.6" cy="470.5" r="0.75" fill="#e8806e"/>
<circle cx="328.1" cy="470.0" r="0.75" fill="#e8806e"/>
<circle cx="332.3" cy="470.2" r="0.75" fill="#e8806e"/>
<circle cx="321.0" cy="471.5" r="0.75" fill="#e8806e"/>
<circle cx="322.3" cy="471.4" r="0.75" fill="#e8806e"/>
<circle cx="323.7" cy="471.9" r="0.75" fill="#e8806e"/>
<circle cx="332.1" cy="471.5" r="0.75" fill="#e8806e"/>
<circle cx="322.1" cy="473.0" r="0.75" fill="#e8806e"/>
<circle cx="332.6" cy="473.1" r="0.75" fill="#e8806e"/>
<circle cx="334.4" cy="473.1" r="0.75" fill="#e8806e"/>
<circle cx="334.7" cy="473.0" r="0.75" fill="#e8806e"/>
<circle cx="323.2" cy="474.3" r="0.75" fill="#e8806e"/>
<circle cx="326.0" cy="474.0" r="0.75" fill="#e8806e"/>
<circle cx="329.4" cy="474.1" r="0.75" fill="#e8806e"/>
<circle cx="331.1" cy="474.1" r="0.75" fill="#e8806e"/>
<circle cx="333.6" cy="475.5" r="0.75" fill="#e8806e"/>
<circle cx="324.1" cy="476.7" r="0.75" fill="#e8806e"/>
<circle cx="325.6" cy="476.9" r="0.75" fill="#e8806e"/>
<circle cx="326.9" cy="477.1" r="0.75" fill="#e8806e"/>
<circle cx="328.9" cy="477.1" r="0.75" fill="#e8806e"/>
<circle cx="324.2" cy="478.2" r="0.75" fill="#e8806e"/>
<circle cx="331.1" cy="478.3" r="0.75" fill="#e8806e"/>
<circle cx="327.4" cy="481.0" r="0.75" fill="#e8806e"/>
<circle cx="325.7" cy="481.8" r="0.75" fill="#e8806e"/>
<line x1="318.40" y1="472.40" x2="336.50" y2="472.40" stroke="#140808" stroke-width="1.6"/>
<rect x="415.20" y="477.70" width="18.60" height="6.30" fill="#9ca4b6"/>
<circle cx="419.5" cy="482.5" r="0.8" fill="#1c1c2c"/>
<circle cx="428.0" cy="483.0" r="0.8" fill="#1c1c2c"/>
<circle cx="425.6" cy="476.5" r="0.8" fill="#1c1c2c"/>
<circle cx="425.6" cy="468.0" r="0.8" fill="#1c1c2c"/>
<line x1="415.20" y1="479.40" x2="433.80" y2="479.40" stroke="#111118" stroke-width="1.4"/>
<line x1="260.90" y1="557.90" x2="263.50" y2="557.90" stroke="#231f20" stroke-width="0.9"/>
<text x="257.30" y="560.90" font-size="8.4" text-anchor="end" fill="#231f20">0</text>
<line x1="261.90" y1="549.58" x2="263.50" y2="549.58" stroke="#231f20" stroke-width="0.9"/>
<line x1="260.90" y1="541.27" x2="263.50" y2="541.27" stroke="#231f20" stroke-width="0.9"/>
<text x="257.30" y="544.27" font-size="8.4" text-anchor="end" fill="#231f20">20</text>
<line x1="261.90" y1="532.95" x2="263.50" y2="532.95" stroke="#231f20" stroke-width="0.9"/>
<line x1="260.90" y1="524.63" x2="263.50" y2="524.63" stroke="#231f20" stroke-width="0.9"/>
<text x="257.30" y="527.63" font-size="8.4" text-anchor="end" fill="#231f20">40</text>
<line x1="261.90" y1="516.32" x2="263.50" y2="516.32" stroke="#231f20" stroke-width="0.9"/>
<line x1="260.90" y1="508.00" x2="263.50" y2="508.00" stroke="#231f20" stroke-width="0.9"/>
<text x="257.30" y="511.00" font-size="8.4" text-anchor="end" fill="#231f20">60</text>
<rect x="263.50" y="501.00" width="176.00" height="59.90" fill="none" stroke="#231f20" stroke-width="1.1"/>
<text x="351.5" y="498.20" font-size="9.2" text-anchor="middle" fill="#231f20">DLBCL</text>
<text x="278.40" y="509.00" font-size="6.2" text-anchor="middle" fill="#3a3a3a">n = 19</text>
<text x="278.40" y="515.75" font-size="6.2" text-anchor="middle" fill="#3a3a3a">79%</text>
<text x="278.40" y="522.50" font-size="6.2" text-anchor="middle" fill="#3a3a3a">REF</text>
<text x="302.77" y="509.00" font-size="6.2" text-anchor="middle" fill="#3a3a3a">n = 11</text>
<text x="302.77" y="515.75" font-size="6.2" text-anchor="middle" fill="#3a3a3a">73%</text>
<text x="302.77" y="522.50" font-size="6.2" text-anchor="middle" fill="#3a3a3a">ns</text>
<text x="327.14" y="509.00" font-size="6.2" text-anchor="middle" fill="#3a3a3a">n = 3</text>
<text x="327.14" y="515.75" font-size="6.2" text-anchor="middle" fill="#3a3a3a">100%</text>
<text x="327.14" y="522.50" font-size="6.2" text-anchor="middle" fill="#3a3a3a">ND</text>
<text x="351.51" y="509.00" font-size="6.2" text-anchor="middle" fill="#3a3a3a">n = 1</text>
<text x="351.51" y="515.75" font-size="6.2" text-anchor="middle" fill="#3a3a3a">25%</text>
<text x="351.51" y="522.50" font-size="6.2" text-anchor="middle" fill="#3a3a3a">ND</text>
<text x="375.88" y="509.00" font-size="6.2" text-anchor="middle" fill="#3a3a3a">n = 1</text>
<text x="375.88" y="515.75" font-size="6.2" text-anchor="middle" fill="#3a3a3a">14%</text>
<text x="375.88" y="522.50" font-size="6.2" text-anchor="middle" fill="#3a3a3a">*</text>
<text x="400.25" y="509.00" font-size="6.2" text-anchor="middle" fill="#3a3a3a">n = 31</text>
<text x="400.25" y="515.75" font-size="6.2" text-anchor="middle" fill="#3a3a3a">17%</text>
<text x="400.25" y="522.50" font-size="6.2" text-anchor="middle" fill="#3a3a3a">****</text>
<text x="424.62" y="509.00" font-size="6.2" text-anchor="middle" fill="#3a3a3a">n = 5</text>
<text x="424.62" y="515.75" font-size="6.2" text-anchor="middle" fill="#3a3a3a">50%</text>
<text x="424.62" y="522.50" font-size="6.2" text-anchor="middle" fill="#3a3a3a">ns</text>
<rect x="269.00" y="538.20" width="18.80" height="19.90" fill="#ef9a8a"/>
<line x1="278.40" y1="523.80" x2="278.40" y2="538.20" stroke="#b01028" stroke-width="0.8"/>
<circle cx="280.1" cy="536.3" r="1.2" fill="#c8102e"/>
<circle cx="277.4" cy="538.7" r="1.2" fill="#c8102e"/>
<circle cx="282.2" cy="539.1" r="1.2" fill="#c8102e"/>
<circle cx="284.1" cy="541.2" r="1.2" fill="#c8102e"/>
<circle cx="274.3" cy="543.7" r="1.2" fill="#c8102e"/>
<circle cx="285.0" cy="543.6" r="1.2" fill="#c8102e"/>
<circle cx="273.0" cy="546.2" r="1.2" fill="#c8102e"/>
<circle cx="281.2" cy="546.2" r="1.2" fill="#c8102e"/>
<circle cx="276.8" cy="548.3" r="1.2" fill="#c8102e"/>
<circle cx="279.5" cy="548.3" r="1.2" fill="#c8102e"/>
<circle cx="278.7" cy="551.0" r="1.2" fill="#c8102e"/>
<circle cx="283.5" cy="550.6" r="1.2" fill="#c8102e"/>
<circle cx="271.3" cy="553.3" r="1.2" fill="#c8102e"/>
<circle cx="277.3" cy="553.6" r="1.2" fill="#c8102e"/>
<circle cx="274.4" cy="555.5" r="1.2" fill="#c8102e"/>
<circle cx="277.1" cy="555.8" r="1.2" fill="#c8102e"/>
<circle cx="279.4" cy="555.6" r="1.2" fill="#c8102e"/>
<line x1="269.00" y1="547.10" x2="287.80" y2="547.10" stroke="#1a0a0a" stroke-width="1.5"/>
<rect x="293.30" y="537.00" width="18.70" height="15.40" fill="#ef9a8a"/>
<circle cx="301.7" cy="536.5" r="1.2" fill="#c8102e"/>
<circle cx="298.9" cy="539.1" r="1.2" fill="#c8102e"/>
<circle cx="304.3" cy="539.0" r="1.2" fill="#c8102e"/>
<circle cx="306.6" cy="539.4" r="1.2" fill="#c8102e"/>
<circle cx="302.8" cy="541.7" r="1.2" fill="#c8102e"/>
<circle cx="306.8" cy="542.1" r="1.2" fill="#c8102e"/>
<circle cx="297.6" cy="544.3" r="1.2" fill="#c8102e"/>
<circle cx="307.9" cy="544.5" r="1.2" fill="#c8102e"/>
<circle cx="298.3" cy="546.8" r="1.2" fill="#c8102e"/>
<circle cx="308.6" cy="547.2" r="1.2" fill="#c8102e"/>
<circle cx="298.6" cy="549.7" r="1.2" fill="#c8102e"/>
<circle cx="301.5" cy="549.7" r="1.2" fill="#c8102e"/>
<circle cx="303.8" cy="549.4" r="1.2" fill="#c8102e"/>
<circle cx="302.8" cy="552.0" r="1.2" fill="#c8102e"/>
<circle cx="305.7" cy="552.1" r="1.2" fill="#c8102e"/>
<circle cx="298.8" cy="554.9" r="1.2" fill="#c8102e"/>
<circle cx="301.2" cy="554.7" r="1.2" fill="#c8102e"/>
<line x1="293.30" y1="551.30" x2="312.00" y2="551.30" stroke="#1a0a0a" stroke-width="1.5"/>
<rect x="318.30" y="552.30" width="18.00" height="1.30" fill="#f6c3b5"/>
<circle cx="323.1" cy="553.8" r="0.8" fill="#e8806e"/>
<circle cx="332.1" cy="551.5" r="0.8" fill="#e8806e"/>
<line x1="318.30" y1="553.00" x2="336.30" y2="553.00" stroke="#140808" stroke-width="1.4"/>
<rect x="341.60" y="556.40" width="19.70" height="2.40" fill="#0d5e4e"/>
<circle cx="351.5" cy="555.2" r="1.0" fill="#0d5e4e"/>
<rect x="366.40" y="556.60" width="19.00" height="2.00" fill="#c4d488"/>
<circle cx="375.9" cy="553.5" r="0.9" fill="#a8bc60"/>
<line x1="390.30" y1="557.60" x2="410.40" y2="557.60" stroke="#c4c4c4" stroke-width="1.6"/>
<line x1="400.25" y1="557.60" x2="400.25" y2="546.50" stroke="#c4c4c4" stroke-width="1.2"/>
<rect x="415.70" y="549.30" width="18.30" height="8.20" fill="#9ca4b6"/>
<circle cx="419.6" cy="557.0" r="0.75" fill="#1c2040"/>
<circle cx="427.6" cy="556.5" r="0.75" fill="#1c2040"/>
<circle cx="423.6" cy="553.0" r="0.75" fill="#1c2040"/>
<circle cx="429.6" cy="551.0" r="0.75" fill="#1c2040"/>
<circle cx="424.6" cy="549.5" r="0.75" fill="#1c2040"/>
<circle cx="418.6" cy="555.0" r="0.75" fill="#1c2040"/>
<circle cx="424.6" cy="524.3" r="0.8" fill="#1c1c2c"/>
<circle cx="424.6" cy="529.6" r="0.8" fill="#1c1c2c"/>
<line x1="415.70" y1="555.00" x2="434.00" y2="555.00" stroke="#111118" stroke-width="1.4"/>
<line x1="260.90" y1="631.80" x2="263.50" y2="631.80" stroke="#231f20" stroke-width="0.9"/>
<text x="257.30" y="634.80" font-size="8.4" text-anchor="end" fill="#231f20">0</text>
<line x1="261.90" y1="623.53" x2="263.50" y2="623.53" stroke="#231f20" stroke-width="0.9"/>
<line x1="260.90" y1="615.27" x2="263.50" y2="615.27" stroke="#231f20" stroke-width="0.9"/>
<text x="257.30" y="618.27" font-size="8.4" text-anchor="end" fill="#231f20">20</text>
<line x1="261.90" y1="607.00" x2="263.50" y2="607.00" stroke="#231f20" stroke-width="0.9"/>
<line x1="260.90" y1="598.73" x2="263.50" y2="598.73" stroke="#231f20" stroke-width="0.9"/>
<text x="257.30" y="601.73" font-size="8.4" text-anchor="end" fill="#231f20">40</text>
<line x1="261.90" y1="590.47" x2="263.50" y2="590.47" stroke="#231f20" stroke-width="0.9"/>
<line x1="260.90" y1="582.20" x2="263.50" y2="582.20" stroke="#231f20" stroke-width="0.9"/>
<text x="257.30" y="585.20" font-size="8.4" text-anchor="end" fill="#231f20">60</text>
<rect x="263.50" y="575.20" width="176.00" height="59.60" fill="none" stroke="#231f20" stroke-width="1.1"/>
<text x="351.5" y="572.40" font-size="9.2" text-anchor="middle" fill="#231f20">HGBCL–DH–BCL2</text>
<text x="278.40" y="583.20" font-size="6.2" text-anchor="middle" fill="#3a3a3a">n = 42</text>
<text x="278.40" y="589.95" font-size="6.2" text-anchor="middle" fill="#3a3a3a">86%</text>
<text x="278.40" y="596.70" font-size="6.2" text-anchor="middle" fill="#3a3a3a">REF</text>
<text x="302.77" y="583.20" font-size="6.2" text-anchor="middle" fill="#3a3a3a">n = 3</text>
<text x="302.77" y="589.95" font-size="6.2" text-anchor="middle" fill="#3a3a3a">75%</text>
<text x="302.77" y="596.70" font-size="6.2" text-anchor="middle" fill="#3a3a3a">ND</text>
<text x="327.14" y="583.20" font-size="6.2" text-anchor="middle" fill="#3a3a3a">n = 32</text>
<text x="327.14" y="589.95" font-size="6.2" text-anchor="middle" fill="#3a3a3a">76%</text>
<text x="327.14" y="596.70" font-size="6.2" text-anchor="middle" fill="#3a3a3a">ns</text>
<text x="351.51" y="583.20" font-size="6.2" text-anchor="middle" fill="#3a3a3a">n = 15</text>
<text x="351.51" y="589.95" font-size="6.2" text-anchor="middle" fill="#3a3a3a">29%</text>
<text x="351.51" y="596.70" font-size="6.2" text-anchor="middle" fill="#3a3a3a">****</text>
<text x="375.88" y="583.20" font-size="6.2" text-anchor="middle" fill="#3a3a3a">n = 11</text>
<text x="375.88" y="589.95" font-size="6.2" text-anchor="middle" fill="#3a3a3a">21%</text>
<text x="375.88" y="596.70" font-size="6.2" text-anchor="middle" fill="#3a3a3a">****</text>
<text x="424.62" y="583.20" font-size="6.2" text-anchor="middle" fill="#3a3a3a">n = 9</text>
<text x="424.62" y="589.95" font-size="6.2" text-anchor="middle" fill="#3a3a3a">33%</text>
<text x="424.62" y="596.70" font-size="6.2" text-anchor="middle" fill="#3a3a3a">****</text>
<rect x="269.10" y="619.20" width="19.40" height="13.60" fill="#ef9a8a"/>
<line x1="269.10" y1="625.30" x2="288.50" y2="625.30" stroke="#1a0a0a" stroke-width="1.5"/>
<circle cx="278.1" cy="584.6" r="1.3" fill="#c8102e"/>
<circle cx="278.4" cy="586.9" r="1.3" fill="#c8102e"/>
<circle cx="278.5" cy="589.2" r="1.3" fill="#c8102e"/>
<circle cx="278.6" cy="591.4" r="1.3" fill="#c8102e"/>
<circle cx="278.7" cy="598.1" r="1.3" fill="#c8102e"/>
<circle cx="278.5" cy="600.8" r="1.3" fill="#c8102e"/>
<circle cx="278.3" cy="602.7" r="1.3" fill="#c8102e"/>
<circle cx="278.1" cy="605.0" r="1.3" fill="#c8102e"/>
<circle cx="277.0" cy="607.7" r="1.3" fill="#c8102e"/>
<circle cx="278.2" cy="610.0" r="1.3" fill="#c8102e"/>
<circle cx="280.0" cy="610.0" r="1.3" fill="#c8102e"/>
<circle cx="276.3" cy="612.2" r="1.3" fill="#c8102e"/>
<circle cx="280.6" cy="612.2" r="1.3" fill="#c8102e"/>
<circle cx="274.1" cy="616.3" r="1.3" fill="#c8102e"/>
<circle cx="279.8" cy="616.7" r="1.3" fill="#c8102e"/>
<circle cx="282.6" cy="616.6" r="1.3" fill="#c8102e"/>
<circle cx="273.8" cy="618.5" r="1.3" fill="#c8102e"/>
<circle cx="276.8" cy="618.8" r="1.3" fill="#c8102e"/>
<circle cx="282.9" cy="618.9" r="1.3" fill="#c8102e"/>
<circle cx="284.7" cy="618.8" r="1.3" fill="#c8102e"/>
<circle cx="273.9" cy="621.0" r="1.3" fill="#c8102e"/>
<circle cx="272.8" cy="622.9" r="1.3" fill="#c8102e"/>
<circle cx="275.4" cy="622.8" r="1.3" fill="#c8102e"/>
<circle cx="278.4" cy="622.9" r="1.3" fill="#c8102e"/>
<circle cx="284.4" cy="623.3" r="1.3" fill="#c8102e"/>
<circle cx="273.9" cy="625.4" r="1.3" fill="#c8102e"/>
<circle cx="276.8" cy="625.3" r="1.3" fill="#c8102e"/>
<circle cx="279.6" cy="625.2" r="1.3" fill="#c8102e"/>
<circle cx="283.1" cy="625.6" r="1.3" fill="#c8102e"/>
<circle cx="278.5" cy="627.2" r="1.3" fill="#c8102e"/>
<circle cx="286.2" cy="627.3" r="1.3" fill="#c8102e"/>
<circle cx="273.0" cy="629.5" r="1.3" fill="#c8102e"/>
<circle cx="281.1" cy="629.6" r="1.3" fill="#c8102e"/>
<circle cx="274.3" cy="632.2" r="1.3" fill="#c8102e"/>
<circle cx="277.1" cy="631.8" r="1.3" fill="#c8102e"/>
<circle cx="279.6" cy="632.2" r="1.3" fill="#c8102e"/>
<circle cx="282.4" cy="632.1" r="1.3" fill="#c8102e"/>
<circle cx="284.8" cy="632.0" r="1.3" fill="#c8102e"/>
<rect x="293.60" y="628.60" width="14.60" height="2.80" fill="#5a0a14"/>
<circle cx="297.8" cy="630.6" r="0.85" fill="#c8102e"/>
<circle cx="301.8" cy="630.6" r="0.85" fill="#c8102e"/>
<circle cx="305.8" cy="630.6" r="0.85" fill="#c8102e"/>
<circle cx="308.8" cy="630.6" r="0.85" fill="#c8102e"/>
<circle cx="299.8" cy="627.0" r="0.85" fill="#c8102e"/>
<rect x="317.40" y="618.50" width="18.70" height="13.60" fill="#f6c3b5"/>
<line x1="327.14" y1="605.00" x2="327.14" y2="632.00" stroke="#d88070" stroke-width="0.7"/>
<circle cx="327.4" cy="606.2" r="0.75" fill="#e8806e"/>
<circle cx="327.4" cy="614.0" r="0.75" fill="#e8806e"/>
<circle cx="328.5" cy="613.6" r="0.75" fill="#e8806e"/>
<circle cx="324.1" cy="615.4" r="0.75" fill="#e8806e"/>
<circle cx="327.4" cy="614.9" r="0.75" fill="#e8806e"/>
<circle cx="329.0" cy="615.0" r="0.75" fill="#e8806e"/>
<circle cx="322.3" cy="618.0" r="0.75" fill="#e8806e"/>
<circle cx="323.8" cy="617.7" r="0.75" fill="#e8806e"/>
<circle cx="326.8" cy="617.8" r="0.75" fill="#e8806e"/>
<circle cx="326.8" cy="619.4" r="0.75" fill="#e8806e"/>
<circle cx="329.0" cy="619.4" r="0.75" fill="#e8806e"/>
<circle cx="333.3" cy="619.3" r="0.75" fill="#e8806e"/>
<circle cx="324.3" cy="620.6" r="0.75" fill="#e8806e"/>
<circle cx="328.2" cy="620.3" r="0.75" fill="#e8806e"/>
<circle cx="329.7" cy="620.4" r="0.75" fill="#e8806e"/>
<circle cx="324.7" cy="621.7" r="0.75" fill="#e8806e"/>
<circle cx="332.7" cy="622.0" r="0.75" fill="#e8806e"/>
<circle cx="334.4" cy="621.7" r="0.75" fill="#e8806e"/>
<circle cx="325.6" cy="623.4" r="0.75" fill="#e8806e"/>
<circle cx="320.1" cy="625.7" r="0.75" fill="#e8806e"/>
<circle cx="323.1" cy="625.8" r="0.75" fill="#e8806e"/>
<circle cx="324.8" cy="625.5" r="0.75" fill="#e8806e"/>
<circle cx="326.7" cy="625.7" r="0.75" fill="#e8806e"/>
<circle cx="329.2" cy="625.7" r="0.75" fill="#e8806e"/>
<circle cx="322.4" cy="626.8" r="0.75" fill="#e8806e"/>
<circle cx="332.0" cy="626.9" r="0.75" fill="#e8806e"/>
<circle cx="324.9" cy="628.1" r="0.75" fill="#e8806e"/>
<circle cx="331.1" cy="628.2" r="0.75" fill="#e8806e"/>
<circle cx="334.7" cy="628.4" r="0.75" fill="#e8806e"/>
<circle cx="322.4" cy="629.5" r="0.75" fill="#e8806e"/>
<circle cx="328.6" cy="629.5" r="0.75" fill="#e8806e"/>
<circle cx="330.3" cy="629.9" r="0.75" fill="#e8806e"/>
<circle cx="324.7" cy="630.8" r="0.75" fill="#e8806e"/>
<circle cx="330.8" cy="631.2" r="0.75" fill="#e8806e"/>
<circle cx="327.1" cy="600.5" r="0.8" fill="#e8806e"/>
<line x1="317.40" y1="628.70" x2="336.10" y2="628.70" stroke="#140808" stroke-width="1.6"/>
<rect x="341.20" y="629.40" width="20.40" height="3.00" fill="#0d5e4e"/>
<circle cx="351.5" cy="626.0" r="1.2" fill="#0d5e4e"/>
<circle cx="352.0" cy="628.4" r="1.1" fill="#0d5e4e"/>
<rect x="365.00" y="629.80" width="21.10" height="2.40" fill="#c4d488"/>
<circle cx="373.9" cy="629.4" r="0.9" fill="#a8bc60"/>
<circle cx="378.9" cy="629.2" r="0.9" fill="#a8bc60"/>
<rect x="414.40" y="628.70" width="20.40" height="3.40" fill="#9ca4b6"/>
<circle cx="419.6" cy="631.0" r="0.75" fill="#2a3050"/>
<circle cx="427.6" cy="630.5" r="0.75" fill="#2a3050"/>
<circle cx="423.6" cy="628.0" r="0.75" fill="#2a3050"/>
<circle cx="424.6" cy="626.0" r="0.75" fill="#2a3050"/>
<circle cx="425.6" cy="624.0" r="0.75" fill="#2a3050"/>
<circle cx="424.6" cy="621.6" r="0.75" fill="#2a3050"/>
<line x1="414.40" y1="630.60" x2="434.80" y2="630.60" stroke="#2a3050" stroke-width="1.2"/>
<text transform="translate(243.0,518.7) rotate(-90)" font-size="8.4" text-anchor="middle" fill="#231f20" textLength="67.4" lengthAdjust="spacingAndGlyphs"><tspan font-style="italic">MYC</tspan> mutation count</text>
<line x1="278.40" y1="634.80" x2="278.40" y2="637.30" stroke="#231f20" stroke-width="0.9"/>
<text transform="translate(281.40,643.2) rotate(-45)" font-size="8.0" text-anchor="end" fill="#231f20">IGH–CSR</text>
<line x1="302.77" y1="634.80" x2="302.77" y2="637.30" stroke="#231f20" stroke-width="0.9"/>
<text transform="translate(305.77,643.2) rotate(-45)" font-size="8.0" text-anchor="end" fill="#231f20">IGH–SHM</text>
<line x1="327.14" y1="634.80" x2="327.14" y2="637.30" stroke="#231f20" stroke-width="0.9"/>
<text transform="translate(330.14,643.2) rotate(-45)" font-size="8.0" text-anchor="end" fill="#231f20">IGK/L</text>
<line x1="351.51" y1="634.80" x2="351.51" y2="637.30" stroke="#231f20" stroke-width="0.9"/>
<line x1="375.88" y1="634.80" x2="375.88" y2="637.30" stroke="#231f20" stroke-width="0.9"/>
<text transform="translate(378.88,643.2) rotate(-45)" font-size="8.0" text-anchor="end" fill="#231f20">Non–IG</text>
<line x1="400.25" y1="634.80" x2="400.25" y2="637.30" stroke="#231f20" stroke-width="0.9"/>
<text transform="translate(403.25,643.2) rotate(-45)" font-size="8.0" text-anchor="end" fill="#231f20">No break</text>
<line x1="424.62" y1="634.80" x2="424.62" y2="637.30" stroke="#231f20" stroke-width="0.9"/>
<text transform="translate(427.62,643.2) rotate(-45)" font-size="8.0" text-anchor="end" fill="#231f20">Not found</text>
<text transform="translate(354.51,643.4) rotate(-45)" font-size="8.0" text-anchor="end" fill="#231f20">Recurrent</text>
<text transform="translate(361.11,650.4) rotate(-45)" font-size="8.0" text-anchor="end" fill="#231f20">non–IG</text>
<text x="448.8" y="494.6" font-size="8.0" fill="#231f20" textLength="45.8" lengthAdjust="spacingAndGlyphs"><tspan font-style="italic">MYC</tspan> partner</text>
<circle cx="449.6" cy="502.80" r="1.15" fill="#c8102e"/>
<text x="453.7" y="505.60" font-size="7.8" fill="#231f20" textLength="13.2" lengthAdjust="spacingAndGlyphs">IGH</text>
<circle cx="449.6" cy="514.02" r="1.15" fill="#f29c8e"/>
<text x="453.7" y="516.82" font-size="7.8" fill="#231f20" textLength="19.5" lengthAdjust="spacingAndGlyphs">IGK/L</text>
<circle cx="449.6" cy="525.24" r="1.15" fill="#0d5e4e"/>
<text x="453.7" y="528.04" font-size="7.8" fill="#231f20" textLength="59.6" lengthAdjust="spacingAndGlyphs">Recurrent non–IG</text>
<circle cx="449.6" cy="536.46" r="1.15" fill="#b8c86a"/>
<text x="453.7" y="539.26" font-size="7.8" fill="#231f20" textLength="26.0" lengthAdjust="spacingAndGlyphs">Non–IG</text>
<circle cx="449.6" cy="547.68" r="1.15" fill="#1c1c2c"/>
<text x="453.7" y="550.48" font-size="7.8" fill="#231f20" textLength="35.0" lengthAdjust="spacingAndGlyphs">Not found</text>
<circle cx="449.6" cy="558.90" r="1.15" fill="#c4c4c4"/>
<text x="453.7" y="561.70" font-size="7.8" fill="#231f20" textLength="32.5" lengthAdjust="spacingAndGlyphs">No break</text>
<rect x="1.5" y="1.5" width="517" height="694" fill="none" stroke="#d6d6d6" stroke-width="1"/>
<rect x="0.5" y="0.5" width="519" height="696" fill="none" stroke="#5c5c5c" stroke-width="1"/>
</svg></body></html>
